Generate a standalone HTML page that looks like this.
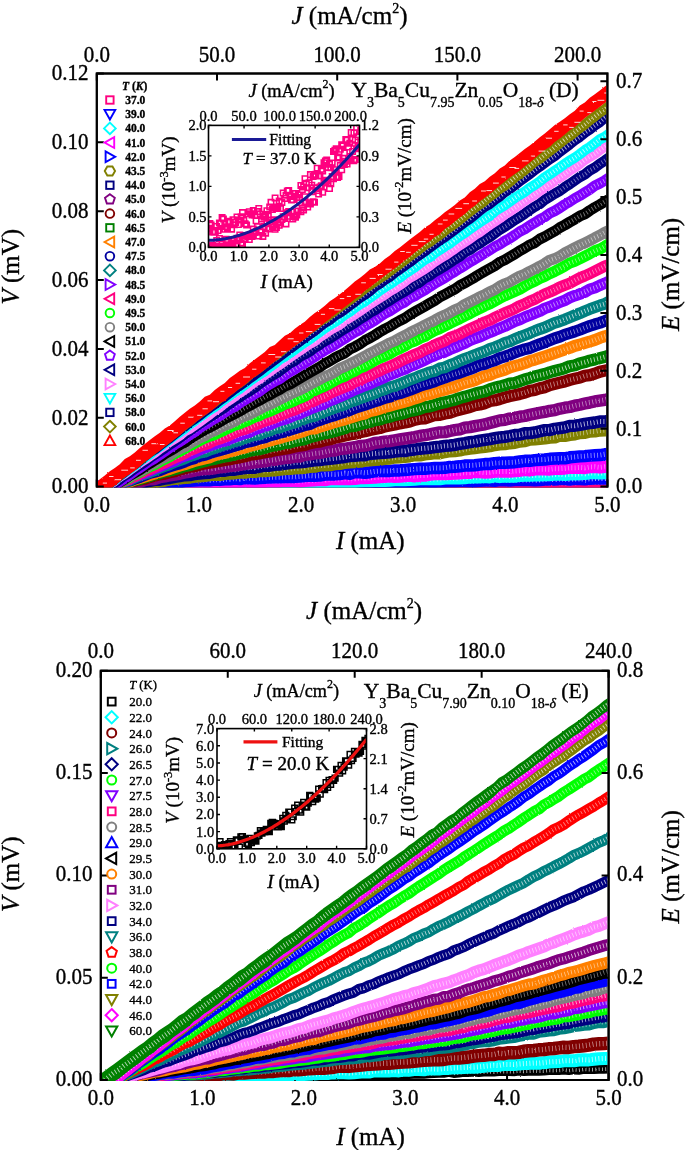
<!DOCTYPE html><html><head><meta charset="utf-8"><title>I-V curves</title><style>html,body{margin:0;padding:0;background:#fff;width:685px;height:1150px;overflow:hidden}svg{display:block;will-change:transform}text{font-family:"Liberation Serif",serif;stroke:#000;stroke-width:0.35px}</style></head><body><svg width="685" height="1150" viewBox="0 0 685 1150" font-family='"Liberation Serif", serif'>
<rect width="685" height="1150" fill="#fff"/>
<defs><filter id="rough" x="-2%" y="-2%" width="104%" height="104%"><feTurbulence type="fractalNoise" baseFrequency="0.55" numOctaves="1" seed="4"/><feDisplacementMap in="SourceGraphic" scale="2.0" xChannelSelector="R" yChannelSelector="G"/></filter><clipPath id="c1"><rect x="97.8" y="74.5" width="508.60" height="413.10"/></clipPath><clipPath id="c2"><rect x="101.8" y="671.8" width="505.80" height="409.20"/></clipPath></defs>
<rect x="96.8" y="73.5" width="510.60" height="413.10" fill="none" stroke="#000" stroke-width="2"/>
<path d="M96.80 486.6V479.6M198.92 486.6V479.6M301.04 486.6V479.6M403.16 486.6V479.6M505.28 486.6V479.6M607.40 486.6V479.6" stroke="#000" stroke-width="2" fill="none"/>
<g clip-path="url(#c1)"><g filter="url(#rough)" fill="none" stroke-linejoin="round"><polyline points="84.8,487.1 89.8,486.6 94.8,486.5 99.8,486.7 104.8,486.7 109.8,486.7 114.8,486.6 119.8,486.6 124.8,486.6 129.8,486.5 134.8,486.5 139.8,486.7 144.8,486.5 149.8,486.2 154.8,486.5 159.8,485.9 164.8,486.4 169.8,486.5 174.8,485.8 179.8,486.2 184.8,486.3 189.8,485.7 194.8,485.6 199.8,486.0 204.8,486.3 209.8,485.9 214.8,485.1 219.8,485.5 224.8,485.1 229.8,485.6 234.8,485.7 239.8,485.1 244.8,485.7 249.8,485.4 254.8,485.3 259.8,485.4 264.8,485.0 269.8,485.1 274.8,485.4 279.8,484.9 284.8,485.1 289.8,485.0 294.8,485.1 299.8,485.2 304.8,485.1 309.8,485.1 314.8,484.8 319.8,484.9 324.8,485.2 329.8,484.7 334.8,484.8 339.8,485.0 344.8,484.5 349.8,485.3 354.8,484.6 359.8,484.7 364.8,484.7 369.8,484.3 374.8,484.2 379.8,484.1 384.8,484.4 389.8,483.7 394.8,484.7 399.8,483.9 404.8,484.2 409.8,484.2 414.8,484.0 419.8,484.5 424.8,484.0 429.8,483.9 434.8,483.7 439.8,483.8 444.8,483.1 449.8,484.2 454.8,483.9 459.8,483.4 464.8,483.5 469.8,483.4 474.8,483.8 479.8,483.6 484.8,483.6 489.8,483.7 494.8,483.2 499.8,483.5 504.8,483.6 509.8,483.7 514.8,483.2 519.8,483.5 524.8,483.4 529.8,483.2 534.8,483.5 539.8,483.5 544.8,483.0 549.8,483.2 554.8,483.1 559.8,482.7 564.8,483.4 569.8,482.8 574.8,483.1 579.8,482.4 584.8,482.6 589.8,482.7 594.8,482.4 599.8,482.5 604.8,482.3 609.8,482.3 614.8,482.1" stroke="#FF0080" stroke-width="12.50"/><polyline points="84.8,487.1 89.8,486.6 94.8,486.5 99.8,486.7 104.8,486.7 109.8,486.7 114.8,486.6 119.8,486.6 124.8,486.6 129.8,486.5 134.8,486.5 139.8,486.7 144.8,486.5 149.8,486.2 154.8,486.5 159.8,485.9 164.8,486.4 169.8,486.5 174.8,485.8 179.8,486.2 184.8,486.3 189.8,485.7 194.8,485.6 199.8,486.0 204.8,486.3 209.8,485.9 214.8,485.1 219.8,485.5 224.8,485.1 229.8,485.6 234.8,485.7 239.8,485.1 244.8,485.7 249.8,485.4 254.8,485.3 259.8,485.4 264.8,485.0 269.8,485.1 274.8,485.4 279.8,484.9 284.8,485.1 289.8,485.0 294.8,485.1 299.8,485.2 304.8,485.1 309.8,485.1 314.8,484.8 319.8,484.9 324.8,485.2 329.8,484.7 334.8,484.8 339.8,485.0 344.8,484.5 349.8,485.3 354.8,484.6 359.8,484.7 364.8,484.7 369.8,484.3 374.8,484.2 379.8,484.1 384.8,484.4 389.8,483.7 394.8,484.7 399.8,483.9 404.8,484.2 409.8,484.2 414.8,484.0 419.8,484.5 424.8,484.0 429.8,483.9 434.8,483.7 439.8,483.8 444.8,483.1 449.8,484.2 454.8,483.9 459.8,483.4 464.8,483.5 469.8,483.4 474.8,483.8 479.8,483.6 484.8,483.6 489.8,483.7 494.8,483.2 499.8,483.5 504.8,483.6 509.8,483.7 514.8,483.2 519.8,483.5 524.8,483.4 529.8,483.2 534.8,483.5 539.8,483.5 544.8,483.0 549.8,483.2 554.8,483.1 559.8,482.7 564.8,483.4 569.8,482.8 574.8,483.1 579.8,482.4 584.8,482.6 589.8,482.7 594.8,482.4 599.8,482.5 604.8,482.3 609.8,482.3 614.8,482.1" stroke="#fff" stroke-opacity="0.7" stroke-width="5.00" stroke-dasharray="0.9 2.4"/><polyline points="84.8,487.0 89.8,486.8 94.8,487.0 99.8,486.3 104.8,486.9 109.8,486.8 114.8,485.9 119.8,486.7 124.8,486.3 129.8,486.4 134.8,486.8 139.8,486.5 144.8,486.0 149.8,486.0 154.8,486.2 159.8,485.7 164.8,485.7 169.8,485.9 174.8,485.6 179.8,485.7 184.8,485.8 189.8,485.3 194.8,485.6 199.8,485.3 204.8,485.1 209.8,485.2 214.8,485.5 219.8,485.2 224.8,485.3 229.8,485.4 234.8,485.0 239.8,484.8 244.8,484.7 249.8,485.3 254.8,485.1 259.8,484.9 264.8,484.5 269.8,485.0 274.8,484.9 279.8,484.6 284.8,484.6 289.8,484.4 294.8,484.7 299.8,484.6 304.8,484.6 309.8,484.4 314.8,484.1 319.8,484.1 324.8,484.0 329.8,483.7 334.8,483.7 339.8,483.7 344.8,484.0 349.8,483.8 354.8,483.5 359.8,483.2 364.8,483.5 369.8,482.5 374.8,482.4 379.8,482.7 384.8,482.8 389.8,482.5 394.8,482.9 399.8,482.2 404.8,482.6 409.8,481.9 414.8,482.0 419.8,482.3 424.8,481.3 429.8,481.7 434.8,481.9 439.8,481.3 444.8,481.4 449.8,481.1 454.8,481.2 459.8,481.1 464.8,481.1 469.8,481.3 474.8,481.2 479.8,480.8 484.8,480.6 489.8,480.4 494.8,480.8 499.8,480.0 504.8,480.2 509.8,480.4 514.8,480.1 519.8,479.9 524.8,480.0 529.8,479.9 534.8,480.2 539.8,480.0 544.8,479.5 549.8,479.5 554.8,479.6 559.8,479.0 564.8,479.1 569.8,479.5 574.8,478.9 579.8,478.9 584.8,479.2 589.8,478.8 594.8,478.5 599.8,478.5 604.8,478.6 609.8,478.4 614.8,477.9" stroke="#0000FF" stroke-width="12.50"/><polyline points="84.8,487.0 89.8,486.8 94.8,487.0 99.8,486.3 104.8,486.9 109.8,486.8 114.8,485.9 119.8,486.7 124.8,486.3 129.8,486.4 134.8,486.8 139.8,486.5 144.8,486.0 149.8,486.0 154.8,486.2 159.8,485.7 164.8,485.7 169.8,485.9 174.8,485.6 179.8,485.7 184.8,485.8 189.8,485.3 194.8,485.6 199.8,485.3 204.8,485.1 209.8,485.2 214.8,485.5 219.8,485.2 224.8,485.3 229.8,485.4 234.8,485.0 239.8,484.8 244.8,484.7 249.8,485.3 254.8,485.1 259.8,484.9 264.8,484.5 269.8,485.0 274.8,484.9 279.8,484.6 284.8,484.6 289.8,484.4 294.8,484.7 299.8,484.6 304.8,484.6 309.8,484.4 314.8,484.1 319.8,484.1 324.8,484.0 329.8,483.7 334.8,483.7 339.8,483.7 344.8,484.0 349.8,483.8 354.8,483.5 359.8,483.2 364.8,483.5 369.8,482.5 374.8,482.4 379.8,482.7 384.8,482.8 389.8,482.5 394.8,482.9 399.8,482.2 404.8,482.6 409.8,481.9 414.8,482.0 419.8,482.3 424.8,481.3 429.8,481.7 434.8,481.9 439.8,481.3 444.8,481.4 449.8,481.1 454.8,481.2 459.8,481.1 464.8,481.1 469.8,481.3 474.8,481.2 479.8,480.8 484.8,480.6 489.8,480.4 494.8,480.8 499.8,480.0 504.8,480.2 509.8,480.4 514.8,480.1 519.8,479.9 524.8,480.0 529.8,479.9 534.8,480.2 539.8,480.0 544.8,479.5 549.8,479.5 554.8,479.6 559.8,479.0 564.8,479.1 569.8,479.5 574.8,478.9 579.8,478.9 584.8,479.2 589.8,478.8 594.8,478.5 599.8,478.5 604.8,478.6 609.8,478.4 614.8,477.9" stroke="#fff" stroke-opacity="0.7" stroke-width="5.00" stroke-dasharray="0.9 2.4"/><polyline points="84.8,487.0 89.8,487.4 94.8,486.8 99.8,487.0 104.8,486.6 109.8,486.4 114.8,486.6 119.8,485.9 124.8,485.8 129.8,486.5 134.8,486.1 139.8,486.2 144.8,486.0 149.8,485.2 154.8,485.6 159.8,485.6 164.8,485.1 169.8,484.8 174.8,484.7 179.8,484.8 184.8,484.7 189.8,484.5 194.8,484.5 199.8,485.0 204.8,484.4 209.8,484.0 214.8,484.7 219.8,483.9 224.8,484.4 229.8,484.7 234.8,484.0 239.8,484.3 244.8,483.9 249.8,483.9 254.8,483.9 259.8,484.2 264.8,483.8 269.8,484.1 274.8,483.9 279.8,483.6 284.8,484.0 289.8,483.3 294.8,483.7 299.8,483.7 304.8,483.2 309.8,483.3 314.8,482.9 319.8,483.2 324.8,483.0 329.8,482.7 334.8,481.8 339.8,481.8 344.8,482.4 349.8,482.0 354.8,481.7 359.8,481.2 364.8,481.0 369.8,481.1 374.8,480.8 379.8,480.7 384.8,480.7 389.8,480.4 394.8,480.0 399.8,480.1 404.8,480.1 409.8,479.8 414.8,479.4 419.8,479.1 424.8,479.1 429.8,478.9 434.8,479.1 439.8,479.1 444.8,478.3 449.8,478.0 454.8,478.3 459.8,478.2 464.8,478.0 469.8,477.4 474.8,477.2 479.8,477.3 484.8,476.8 489.8,477.2 494.8,476.1 499.8,476.9 504.8,476.2 509.8,476.6 514.8,476.6 519.8,475.7 524.8,475.5 529.8,475.6 534.8,475.3 539.8,475.3 544.8,474.9 549.8,474.9 554.8,474.6 559.8,474.3 564.8,474.8 569.8,474.3 574.8,474.2 579.8,473.9 584.8,473.8 589.8,473.0 594.8,473.0 599.8,473.2 604.8,472.9 609.8,473.0 614.8,472.9" stroke="#00FFFF" stroke-width="12.50"/><polyline points="84.8,487.0 89.8,487.4 94.8,486.8 99.8,487.0 104.8,486.6 109.8,486.4 114.8,486.6 119.8,485.9 124.8,485.8 129.8,486.5 134.8,486.1 139.8,486.2 144.8,486.0 149.8,485.2 154.8,485.6 159.8,485.6 164.8,485.1 169.8,484.8 174.8,484.7 179.8,484.8 184.8,484.7 189.8,484.5 194.8,484.5 199.8,485.0 204.8,484.4 209.8,484.0 214.8,484.7 219.8,483.9 224.8,484.4 229.8,484.7 234.8,484.0 239.8,484.3 244.8,483.9 249.8,483.9 254.8,483.9 259.8,484.2 264.8,483.8 269.8,484.1 274.8,483.9 279.8,483.6 284.8,484.0 289.8,483.3 294.8,483.7 299.8,483.7 304.8,483.2 309.8,483.3 314.8,482.9 319.8,483.2 324.8,483.0 329.8,482.7 334.8,481.8 339.8,481.8 344.8,482.4 349.8,482.0 354.8,481.7 359.8,481.2 364.8,481.0 369.8,481.1 374.8,480.8 379.8,480.7 384.8,480.7 389.8,480.4 394.8,480.0 399.8,480.1 404.8,480.1 409.8,479.8 414.8,479.4 419.8,479.1 424.8,479.1 429.8,478.9 434.8,479.1 439.8,479.1 444.8,478.3 449.8,478.0 454.8,478.3 459.8,478.2 464.8,478.0 469.8,477.4 474.8,477.2 479.8,477.3 484.8,476.8 489.8,477.2 494.8,476.1 499.8,476.9 504.8,476.2 509.8,476.6 514.8,476.6 519.8,475.7 524.8,475.5 529.8,475.6 534.8,475.3 539.8,475.3 544.8,474.9 549.8,474.9 554.8,474.6 559.8,474.3 564.8,474.8 569.8,474.3 574.8,474.2 579.8,473.9 584.8,473.8 589.8,473.0 594.8,473.0 599.8,473.2 604.8,472.9 609.8,473.0 614.8,472.9" stroke="#fff" stroke-opacity="0.7" stroke-width="5.00" stroke-dasharray="0.9 2.4"/><polyline points="84.8,487.8 89.8,487.6 94.8,487.3 99.8,486.8 104.8,487.2 109.8,486.9 114.8,486.5 119.8,486.3 124.8,486.0 129.8,486.4 134.8,485.8 139.8,485.4 144.8,485.5 149.8,484.9 154.8,484.2 159.8,484.5 164.8,484.5 169.8,483.7 174.8,484.0 179.8,483.3 184.8,483.3 189.8,483.2 194.8,483.0 199.8,482.6 204.8,482.6 209.8,482.3 214.8,482.6 219.8,482.3 224.8,482.5 229.8,481.7 234.8,482.3 239.8,481.8 244.8,482.3 249.8,482.1 254.8,481.8 259.8,481.7 264.8,481.9 269.8,481.4 274.8,481.4 279.8,481.4 284.8,480.9 289.8,481.0 294.8,481.0 299.8,481.3 304.8,480.7 309.8,480.6 314.8,480.2 319.8,479.8 324.8,480.0 329.8,479.1 334.8,479.0 339.8,479.0 344.8,478.8 349.8,478.9 354.8,478.8 359.8,478.0 364.8,478.1 369.8,477.8 374.8,477.5 379.8,477.0 384.8,476.8 389.8,476.2 394.8,476.7 399.8,476.6 404.8,476.0 409.8,475.5 414.8,476.3 419.8,475.5 424.8,475.5 429.8,474.7 434.8,474.0 439.8,474.1 444.8,474.1 449.8,473.7 454.8,473.4 459.8,473.3 464.8,472.7 469.8,472.7 474.8,472.0 479.8,472.1 484.8,472.6 489.8,472.3 494.8,471.5 499.8,471.6 504.8,471.5 509.8,471.5 514.8,471.0 519.8,470.7 524.8,469.9 529.8,470.4 534.8,469.3 539.8,469.3 544.8,469.2 549.8,469.4 554.8,468.7 559.8,468.7 564.8,468.4 569.8,467.8 574.8,467.8 579.8,467.5 584.8,467.9 589.8,467.0 594.8,466.8 599.8,467.4 604.8,466.7 609.8,466.7 614.8,466.3" stroke="#FF00FF" stroke-width="12.49"/><polyline points="84.8,487.8 89.8,487.6 94.8,487.3 99.8,486.8 104.8,487.2 109.8,486.9 114.8,486.5 119.8,486.3 124.8,486.0 129.8,486.4 134.8,485.8 139.8,485.4 144.8,485.5 149.8,484.9 154.8,484.2 159.8,484.5 164.8,484.5 169.8,483.7 174.8,484.0 179.8,483.3 184.8,483.3 189.8,483.2 194.8,483.0 199.8,482.6 204.8,482.6 209.8,482.3 214.8,482.6 219.8,482.3 224.8,482.5 229.8,481.7 234.8,482.3 239.8,481.8 244.8,482.3 249.8,482.1 254.8,481.8 259.8,481.7 264.8,481.9 269.8,481.4 274.8,481.4 279.8,481.4 284.8,480.9 289.8,481.0 294.8,481.0 299.8,481.3 304.8,480.7 309.8,480.6 314.8,480.2 319.8,479.8 324.8,480.0 329.8,479.1 334.8,479.0 339.8,479.0 344.8,478.8 349.8,478.9 354.8,478.8 359.8,478.0 364.8,478.1 369.8,477.8 374.8,477.5 379.8,477.0 384.8,476.8 389.8,476.2 394.8,476.7 399.8,476.6 404.8,476.0 409.8,475.5 414.8,476.3 419.8,475.5 424.8,475.5 429.8,474.7 434.8,474.0 439.8,474.1 444.8,474.1 449.8,473.7 454.8,473.4 459.8,473.3 464.8,472.7 469.8,472.7 474.8,472.0 479.8,472.1 484.8,472.6 489.8,472.3 494.8,471.5 499.8,471.6 504.8,471.5 509.8,471.5 514.8,471.0 519.8,470.7 524.8,469.9 529.8,470.4 534.8,469.3 539.8,469.3 544.8,469.2 549.8,469.4 554.8,468.7 559.8,468.7 564.8,468.4 569.8,467.8 574.8,467.8 579.8,467.5 584.8,467.9 589.8,467.0 594.8,466.8 599.8,467.4 604.8,466.7 609.8,466.7 614.8,466.3" stroke="#fff" stroke-opacity="0.45" stroke-width="5.00" stroke-dasharray="0.9 2.4"/><polyline points="84.8,488.4 89.8,488.3 94.8,487.7 99.8,487.3 104.8,487.1 109.8,486.9 114.8,486.3 119.8,486.2 124.8,485.5 129.8,485.5 134.8,484.8 139.8,484.5 144.8,484.2 149.8,483.6 154.8,483.7 159.8,483.3 164.8,482.5 169.8,482.9 174.8,482.5 179.8,482.0 184.8,481.1 189.8,480.8 194.8,480.5 199.8,480.2 204.8,480.0 209.8,480.2 214.8,479.6 219.8,479.9 224.8,479.3 229.8,479.2 234.8,478.6 239.8,479.1 244.8,478.0 249.8,478.2 254.8,478.5 259.8,478.1 264.8,477.8 269.8,477.4 274.8,477.3 279.8,477.2 284.8,477.0 289.8,476.7 294.8,476.9 299.8,476.5 304.8,476.1 309.8,475.6 314.8,475.9 319.8,475.6 324.8,474.6 329.8,474.3 334.8,474.4 339.8,474.0 344.8,473.1 349.8,473.7 354.8,472.1 359.8,472.3 364.8,472.8 369.8,472.2 374.8,471.4 379.8,471.0 384.8,471.1 389.8,470.9 394.8,470.5 399.8,470.4 404.8,470.0 409.8,469.5 414.8,469.1 419.8,468.8 424.8,468.8 429.8,468.4 434.8,467.9 439.8,467.9 444.8,467.8 449.8,466.9 454.8,466.7 459.8,466.3 464.8,465.6 469.8,465.4 474.8,465.2 479.8,464.6 484.8,464.1 489.8,464.0 494.8,463.1 499.8,462.8 504.8,462.7 509.8,462.5 514.8,462.2 519.8,461.5 524.8,460.8 529.8,460.8 534.8,460.1 539.8,459.7 544.8,459.5 549.8,458.8 554.8,458.6 559.8,458.3 564.8,458.3 569.8,457.3 574.8,456.9 579.8,456.4 584.8,456.1 589.8,455.6 594.8,455.3 599.8,455.1 604.8,454.3 609.8,454.0 614.8,453.5" stroke="#0000FF" stroke-width="12.47"/><polyline points="84.8,488.4 89.8,488.3 94.8,487.7 99.8,487.3 104.8,487.1 109.8,486.9 114.8,486.3 119.8,486.2 124.8,485.5 129.8,485.5 134.8,484.8 139.8,484.5 144.8,484.2 149.8,483.6 154.8,483.7 159.8,483.3 164.8,482.5 169.8,482.9 174.8,482.5 179.8,482.0 184.8,481.1 189.8,480.8 194.8,480.5 199.8,480.2 204.8,480.0 209.8,480.2 214.8,479.6 219.8,479.9 224.8,479.3 229.8,479.2 234.8,478.6 239.8,479.1 244.8,478.0 249.8,478.2 254.8,478.5 259.8,478.1 264.8,477.8 269.8,477.4 274.8,477.3 279.8,477.2 284.8,477.0 289.8,476.7 294.8,476.9 299.8,476.5 304.8,476.1 309.8,475.6 314.8,475.9 319.8,475.6 324.8,474.6 329.8,474.3 334.8,474.4 339.8,474.0 344.8,473.1 349.8,473.7 354.8,472.1 359.8,472.3 364.8,472.8 369.8,472.2 374.8,471.4 379.8,471.0 384.8,471.1 389.8,470.9 394.8,470.5 399.8,470.4 404.8,470.0 409.8,469.5 414.8,469.1 419.8,468.8 424.8,468.8 429.8,468.4 434.8,467.9 439.8,467.9 444.8,467.8 449.8,466.9 454.8,466.7 459.8,466.3 464.8,465.6 469.8,465.4 474.8,465.2 479.8,464.6 484.8,464.1 489.8,464.0 494.8,463.1 499.8,462.8 504.8,462.7 509.8,462.5 514.8,462.2 519.8,461.5 524.8,460.8 529.8,460.8 534.8,460.1 539.8,459.7 544.8,459.5 549.8,458.8 554.8,458.6 559.8,458.3 564.8,458.3 569.8,457.3 574.8,456.9 579.8,456.4 584.8,456.1 589.8,455.6 594.8,455.3 599.8,455.1 604.8,454.3 609.8,454.0 614.8,453.5" stroke="#fff" stroke-opacity="0.55" stroke-width="4.99" stroke-dasharray="0.9 2.4"/><polyline points="84.8,490.2 89.8,489.3 94.8,488.7 99.8,488.2 104.8,487.5 109.8,487.1 114.8,486.2 119.8,485.6 124.8,484.8 129.8,484.4 134.8,483.8 139.8,483.4 144.8,482.4 149.8,481.9 154.8,482.1 159.8,481.2 164.8,480.5 169.8,479.4 174.8,478.8 179.8,478.3 184.8,477.8 189.8,477.5 194.8,476.6 199.8,476.2 204.8,475.7 209.8,475.1 214.8,474.5 219.8,474.8 224.8,473.9 229.8,473.6 234.8,473.2 239.8,472.6 244.8,472.6 249.8,471.8 254.8,471.8 259.8,470.9 264.8,471.0 269.8,470.6 274.8,470.4 279.8,469.6 284.8,469.1 289.8,468.9 294.8,468.3 299.8,468.1 304.8,467.7 309.8,466.9 314.8,466.6 319.8,465.4 324.8,465.4 329.8,465.1 334.8,464.1 339.8,463.9 344.8,462.8 349.8,462.3 354.8,462.1 359.8,461.6 364.8,460.6 369.8,460.2 374.8,459.9 379.8,459.5 384.8,458.9 389.8,458.5 394.8,457.5 399.8,457.4 404.8,456.7 409.8,456.3 414.8,455.0 419.8,455.3 424.8,454.3 429.8,453.8 434.8,453.0 439.8,453.2 444.8,452.0 449.8,451.2 454.8,451.0 459.8,450.4 464.8,449.3 469.8,448.5 474.8,448.0 479.8,447.4 484.8,446.8 489.8,446.2 494.8,445.0 499.8,444.4 504.8,444.1 509.8,443.2 514.8,442.7 519.8,441.5 524.8,441.1 529.8,439.6 534.8,439.3 539.8,438.8 544.8,438.4 549.8,437.6 554.8,437.3 559.8,435.5 564.8,435.8 569.8,434.9 574.8,434.3 579.8,433.0 584.8,432.8 589.8,431.5 594.8,431.4 599.8,430.5 604.8,430.2 609.8,428.8 614.8,428.2" stroke="#808000" stroke-width="12.42"/><polyline points="84.8,490.2 89.8,489.3 94.8,488.7 99.8,488.2 104.8,487.5 109.8,487.1 114.8,486.2 119.8,485.6 124.8,484.8 129.8,484.4 134.8,483.8 139.8,483.4 144.8,482.4 149.8,481.9 154.8,482.1 159.8,481.2 164.8,480.5 169.8,479.4 174.8,478.8 179.8,478.3 184.8,477.8 189.8,477.5 194.8,476.6 199.8,476.2 204.8,475.7 209.8,475.1 214.8,474.5 219.8,474.8 224.8,473.9 229.8,473.6 234.8,473.2 239.8,472.6 244.8,472.6 249.8,471.8 254.8,471.8 259.8,470.9 264.8,471.0 269.8,470.6 274.8,470.4 279.8,469.6 284.8,469.1 289.8,468.9 294.8,468.3 299.8,468.1 304.8,467.7 309.8,466.9 314.8,466.6 319.8,465.4 324.8,465.4 329.8,465.1 334.8,464.1 339.8,463.9 344.8,462.8 349.8,462.3 354.8,462.1 359.8,461.6 364.8,460.6 369.8,460.2 374.8,459.9 379.8,459.5 384.8,458.9 389.8,458.5 394.8,457.5 399.8,457.4 404.8,456.7 409.8,456.3 414.8,455.0 419.8,455.3 424.8,454.3 429.8,453.8 434.8,453.0 439.8,453.2 444.8,452.0 449.8,451.2 454.8,451.0 459.8,450.4 464.8,449.3 469.8,448.5 474.8,448.0 479.8,447.4 484.8,446.8 489.8,446.2 494.8,445.0 499.8,444.4 504.8,444.1 509.8,443.2 514.8,442.7 519.8,441.5 524.8,441.1 529.8,439.6 534.8,439.3 539.8,438.8 544.8,438.4 549.8,437.6 554.8,437.3 559.8,435.5 564.8,435.8 569.8,434.9 574.8,434.3 579.8,433.0 584.8,432.8 589.8,431.5 594.8,431.4 599.8,430.5 604.8,430.2 609.8,428.8 614.8,428.2" stroke="#fff" stroke-opacity="0.55" stroke-width="4.97" stroke-dasharray="0.8 2.6"/><polyline points="84.8,491.0 89.8,489.8 94.8,489.6 99.8,488.2 104.8,487.6 109.8,486.7 114.8,486.5 119.8,485.2 124.8,484.9 129.8,483.9 134.8,484.0 139.8,482.6 144.8,481.9 149.8,480.8 154.8,479.9 159.8,479.7 164.8,478.7 169.8,478.0 174.8,476.9 179.8,476.1 184.8,475.2 189.8,475.1 194.8,474.0 199.8,473.6 204.8,473.1 209.8,472.7 214.8,471.6 219.8,470.9 224.8,470.8 229.8,469.8 234.8,469.8 239.8,468.8 244.8,468.1 249.8,467.6 254.8,467.7 259.8,466.6 264.8,465.7 269.8,465.7 274.8,464.9 279.8,464.5 284.8,463.9 289.8,463.2 294.8,462.5 299.8,462.3 304.8,461.9 309.8,461.0 314.8,460.3 319.8,460.0 324.8,459.4 329.8,458.8 334.8,458.3 339.8,457.7 344.8,457.0 349.8,456.1 354.8,455.8 359.8,455.4 364.8,455.3 369.8,453.9 374.8,453.6 379.8,453.1 384.8,452.9 389.8,452.4 394.8,451.6 399.8,451.1 404.8,451.1 409.8,450.0 414.8,449.5 419.8,448.7 424.8,448.3 429.8,447.8 434.8,447.1 439.8,446.6 444.8,445.9 449.8,445.5 454.8,444.9 459.8,443.8 464.8,443.1 469.8,442.2 474.8,441.6 479.8,440.6 484.8,439.8 489.8,439.1 494.8,438.2 499.8,437.3 504.8,436.8 509.8,436.0 514.8,435.0 519.8,434.6 524.8,433.2 529.8,433.1 534.8,432.4 539.8,431.2 544.8,430.1 549.8,430.1 554.8,428.8 559.8,428.1 564.8,427.4 569.8,425.9 574.8,425.7 579.8,424.9 584.8,423.9 589.8,423.2 594.8,422.5 599.8,421.5 604.8,421.5 609.8,420.5 614.8,419.6" stroke="#000080" stroke-width="12.39"/><polyline points="84.8,491.0 89.8,489.8 94.8,489.6 99.8,488.2 104.8,487.6 109.8,486.7 114.8,486.5 119.8,485.2 124.8,484.9 129.8,483.9 134.8,484.0 139.8,482.6 144.8,481.9 149.8,480.8 154.8,479.9 159.8,479.7 164.8,478.7 169.8,478.0 174.8,476.9 179.8,476.1 184.8,475.2 189.8,475.1 194.8,474.0 199.8,473.6 204.8,473.1 209.8,472.7 214.8,471.6 219.8,470.9 224.8,470.8 229.8,469.8 234.8,469.8 239.8,468.8 244.8,468.1 249.8,467.6 254.8,467.7 259.8,466.6 264.8,465.7 269.8,465.7 274.8,464.9 279.8,464.5 284.8,463.9 289.8,463.2 294.8,462.5 299.8,462.3 304.8,461.9 309.8,461.0 314.8,460.3 319.8,460.0 324.8,459.4 329.8,458.8 334.8,458.3 339.8,457.7 344.8,457.0 349.8,456.1 354.8,455.8 359.8,455.4 364.8,455.3 369.8,453.9 374.8,453.6 379.8,453.1 384.8,452.9 389.8,452.4 394.8,451.6 399.8,451.1 404.8,451.1 409.8,450.0 414.8,449.5 419.8,448.7 424.8,448.3 429.8,447.8 434.8,447.1 439.8,446.6 444.8,445.9 449.8,445.5 454.8,444.9 459.8,443.8 464.8,443.1 469.8,442.2 474.8,441.6 479.8,440.6 484.8,439.8 489.8,439.1 494.8,438.2 499.8,437.3 504.8,436.8 509.8,436.0 514.8,435.0 519.8,434.6 524.8,433.2 529.8,433.1 534.8,432.4 539.8,431.2 544.8,430.1 549.8,430.1 554.8,428.8 559.8,428.1 564.8,427.4 569.8,425.9 574.8,425.7 579.8,424.9 584.8,423.9 589.8,423.2 594.8,422.5 599.8,421.5 604.8,421.5 609.8,420.5 614.8,419.6" stroke="#fff" stroke-opacity="0.7" stroke-width="4.96" stroke-dasharray="0.9 2.4"/><polyline points="84.8,492.1 89.8,490.7 94.8,489.7 99.8,488.8 104.8,488.6 109.8,487.0 114.8,485.8 119.8,484.8 124.8,483.8 129.8,483.0 134.8,482.1 139.8,481.9 144.8,480.2 149.8,479.3 154.8,479.1 159.8,477.2 164.8,476.5 169.8,475.3 174.8,474.7 179.8,473.7 184.8,472.6 189.8,471.6 194.8,470.5 199.8,469.7 204.8,469.2 209.8,468.9 214.8,468.3 219.8,467.3 224.8,466.8 229.8,466.0 234.8,465.6 239.8,464.8 244.8,464.0 249.8,463.2 254.8,462.4 259.8,461.8 264.8,461.4 269.8,460.3 274.8,459.9 279.8,458.8 284.8,458.1 289.8,457.8 294.8,456.7 299.8,456.6 304.8,454.8 309.8,454.4 314.8,453.4 319.8,453.0 324.8,452.0 329.8,450.9 334.8,450.5 339.8,449.1 344.8,448.7 349.8,447.8 354.8,447.2 359.8,446.0 364.8,445.7 369.8,444.6 374.8,442.9 379.8,442.4 384.8,441.6 389.8,441.1 394.8,440.2 399.8,439.4 404.8,438.6 409.8,437.8 414.8,437.1 419.8,435.9 424.8,435.2 429.8,434.3 434.8,433.2 439.8,432.3 444.8,432.2 449.8,431.0 454.8,430.0 459.8,429.3 464.8,427.7 469.8,427.1 474.8,426.1 479.8,425.2 484.8,424.4 489.8,423.0 494.8,421.7 499.8,420.4 504.8,419.9 509.8,418.5 514.8,417.8 519.8,416.7 524.8,416.0 529.8,414.8 534.8,413.8 539.8,412.8 544.8,411.9 549.8,410.8 554.8,410.2 559.8,408.7 564.8,407.7 569.8,407.0 574.8,405.6 579.8,404.7 584.8,403.6 589.8,402.6 594.8,401.4 599.8,400.7 604.8,399.9 609.8,398.7 614.8,397.8" stroke="#800080" stroke-width="12.31"/><polyline points="84.8,492.1 89.8,490.7 94.8,489.7 99.8,488.8 104.8,488.6 109.8,487.0 114.8,485.8 119.8,484.8 124.8,483.8 129.8,483.0 134.8,482.1 139.8,481.9 144.8,480.2 149.8,479.3 154.8,479.1 159.8,477.2 164.8,476.5 169.8,475.3 174.8,474.7 179.8,473.7 184.8,472.6 189.8,471.6 194.8,470.5 199.8,469.7 204.8,469.2 209.8,468.9 214.8,468.3 219.8,467.3 224.8,466.8 229.8,466.0 234.8,465.6 239.8,464.8 244.8,464.0 249.8,463.2 254.8,462.4 259.8,461.8 264.8,461.4 269.8,460.3 274.8,459.9 279.8,458.8 284.8,458.1 289.8,457.8 294.8,456.7 299.8,456.6 304.8,454.8 309.8,454.4 314.8,453.4 319.8,453.0 324.8,452.0 329.8,450.9 334.8,450.5 339.8,449.1 344.8,448.7 349.8,447.8 354.8,447.2 359.8,446.0 364.8,445.7 369.8,444.6 374.8,442.9 379.8,442.4 384.8,441.6 389.8,441.1 394.8,440.2 399.8,439.4 404.8,438.6 409.8,437.8 414.8,437.1 419.8,435.9 424.8,435.2 429.8,434.3 434.8,433.2 439.8,432.3 444.8,432.2 449.8,431.0 454.8,430.0 459.8,429.3 464.8,427.7 469.8,427.1 474.8,426.1 479.8,425.2 484.8,424.4 489.8,423.0 494.8,421.7 499.8,420.4 504.8,419.9 509.8,418.5 514.8,417.8 519.8,416.7 524.8,416.0 529.8,414.8 534.8,413.8 539.8,412.8 544.8,411.9 549.8,410.8 554.8,410.2 559.8,408.7 564.8,407.7 569.8,407.0 574.8,405.6 579.8,404.7 584.8,403.6 589.8,402.6 594.8,401.4 599.8,400.7 604.8,399.9 609.8,398.7 614.8,397.8" stroke="#fff" stroke-opacity="0.55" stroke-width="4.92" stroke-dasharray="0.8 2.6"/><polyline points="84.8,493.0 89.8,492.1 94.8,490.7 99.8,489.7 104.8,488.9 109.8,487.2 114.8,485.8 119.8,484.8 124.8,483.4 129.8,481.7 134.8,480.8 139.8,479.4 144.8,478.8 149.8,477.1 154.8,475.7 159.8,474.4 164.8,473.7 169.8,472.2 174.8,471.3 179.8,469.5 184.8,468.4 189.8,466.7 194.8,466.3 199.8,464.7 204.8,463.4 209.8,462.7 214.8,461.8 219.8,461.0 224.8,460.0 229.8,459.2 234.8,458.1 239.8,457.4 244.8,456.3 249.8,454.8 254.8,454.3 259.8,453.3 264.8,452.1 269.8,451.5 274.8,450.2 279.8,449.5 284.8,448.8 289.8,447.7 294.8,446.6 299.8,445.6 304.8,444.9 309.8,443.2 314.8,442.2 319.8,441.8 324.8,440.2 329.8,439.3 334.8,437.8 339.8,436.8 344.8,435.6 349.8,434.5 354.8,433.8 359.8,432.4 364.8,431.4 369.8,430.1 374.8,429.1 379.8,428.1 384.8,426.5 389.8,425.6 394.8,424.6 399.8,423.4 404.8,422.6 409.8,421.5 414.8,419.8 419.8,418.8 424.8,418.5 429.8,416.8 434.8,415.1 439.8,414.9 444.8,413.6 449.8,412.7 454.8,411.0 459.8,409.6 464.8,408.3 469.8,407.1 474.8,405.3 479.8,404.5 484.8,403.3 489.8,401.1 494.8,400.3 499.8,399.0 504.8,397.4 509.8,396.2 514.8,395.1 519.8,394.0 524.8,392.6 529.8,390.7 534.8,389.9 539.8,388.3 544.8,387.2 549.8,385.1 554.8,383.8 559.8,382.6 564.8,381.5 569.8,379.9 574.8,378.7 579.8,377.6 584.8,375.8 589.8,375.1 594.8,373.6 599.8,371.7 604.8,370.6 609.8,369.6 614.8,368.4" stroke="#800000" stroke-width="12.17"/><polyline points="84.8,493.0 89.8,492.1 94.8,490.7 99.8,489.7 104.8,488.9 109.8,487.2 114.8,485.8 119.8,484.8 124.8,483.4 129.8,481.7 134.8,480.8 139.8,479.4 144.8,478.8 149.8,477.1 154.8,475.7 159.8,474.4 164.8,473.7 169.8,472.2 174.8,471.3 179.8,469.5 184.8,468.4 189.8,466.7 194.8,466.3 199.8,464.7 204.8,463.4 209.8,462.7 214.8,461.8 219.8,461.0 224.8,460.0 229.8,459.2 234.8,458.1 239.8,457.4 244.8,456.3 249.8,454.8 254.8,454.3 259.8,453.3 264.8,452.1 269.8,451.5 274.8,450.2 279.8,449.5 284.8,448.8 289.8,447.7 294.8,446.6 299.8,445.6 304.8,444.9 309.8,443.2 314.8,442.2 319.8,441.8 324.8,440.2 329.8,439.3 334.8,437.8 339.8,436.8 344.8,435.6 349.8,434.5 354.8,433.8 359.8,432.4 364.8,431.4 369.8,430.1 374.8,429.1 379.8,428.1 384.8,426.5 389.8,425.6 394.8,424.6 399.8,423.4 404.8,422.6 409.8,421.5 414.8,419.8 419.8,418.8 424.8,418.5 429.8,416.8 434.8,415.1 439.8,414.9 444.8,413.6 449.8,412.7 454.8,411.0 459.8,409.6 464.8,408.3 469.8,407.1 474.8,405.3 479.8,404.5 484.8,403.3 489.8,401.1 494.8,400.3 499.8,399.0 504.8,397.4 509.8,396.2 514.8,395.1 519.8,394.0 524.8,392.6 529.8,390.7 534.8,389.9 539.8,388.3 544.8,387.2 549.8,385.1 554.8,383.8 559.8,382.6 564.8,381.5 569.8,379.9 574.8,378.7 579.8,377.6 584.8,375.8 589.8,375.1 594.8,373.6 599.8,371.7 604.8,370.6 609.8,369.6 614.8,368.4" stroke="#fff" stroke-opacity="0.55" stroke-width="4.87" stroke-dasharray="0.8 2.6"/><polyline points="84.8,494.2 89.8,492.6 94.8,491.0 99.8,489.9 104.8,488.8 109.8,487.0 114.8,486.2 119.8,484.5 124.8,482.9 129.8,481.9 134.8,480.1 139.8,479.2 144.8,477.3 149.8,476.1 154.8,474.4 159.8,473.1 164.8,471.4 169.8,470.8 174.8,469.1 179.8,467.6 184.8,466.0 189.8,465.3 194.8,463.8 199.8,462.5 204.8,461.2 209.8,459.7 214.8,459.0 219.8,457.7 224.8,456.4 229.8,455.7 234.8,454.5 239.8,453.1 244.8,452.3 249.8,450.7 254.8,449.9 259.8,449.2 264.8,447.9 269.8,446.3 274.8,445.1 279.8,444.5 284.8,442.9 289.8,442.6 294.8,441.0 299.8,440.1 304.8,439.2 309.8,437.3 314.8,435.9 319.8,434.6 324.8,433.2 329.8,432.5 334.8,431.1 339.8,429.7 344.8,428.3 349.8,426.4 354.8,426.0 359.8,424.5 364.8,423.0 369.8,421.9 374.8,420.3 379.8,419.6 384.8,417.7 389.8,416.8 394.8,415.1 399.8,414.1 404.8,412.8 409.8,411.1 414.8,410.3 419.8,408.9 424.8,406.9 429.8,406.4 434.8,404.9 439.8,403.3 444.8,402.3 449.8,401.0 454.8,399.8 459.8,398.0 464.8,396.7 469.8,395.2 474.8,393.7 479.8,392.4 484.8,391.3 489.8,389.3 494.8,387.6 499.8,386.5 504.8,385.2 509.8,383.5 514.8,382.9 519.8,381.2 524.8,379.3 529.8,378.0 534.8,376.3 539.8,375.2 544.8,373.9 549.8,372.3 554.8,370.9 559.8,369.7 564.8,368.2 569.8,366.2 574.8,365.4 579.8,363.4 584.8,362.2 589.8,360.6 594.8,359.5 599.8,358.2 604.8,356.9 609.8,355.1 614.8,353.7" stroke="#008000" stroke-width="12.09"/><polyline points="84.8,494.2 89.8,492.6 94.8,491.0 99.8,489.9 104.8,488.8 109.8,487.0 114.8,486.2 119.8,484.5 124.8,482.9 129.8,481.9 134.8,480.1 139.8,479.2 144.8,477.3 149.8,476.1 154.8,474.4 159.8,473.1 164.8,471.4 169.8,470.8 174.8,469.1 179.8,467.6 184.8,466.0 189.8,465.3 194.8,463.8 199.8,462.5 204.8,461.2 209.8,459.7 214.8,459.0 219.8,457.7 224.8,456.4 229.8,455.7 234.8,454.5 239.8,453.1 244.8,452.3 249.8,450.7 254.8,449.9 259.8,449.2 264.8,447.9 269.8,446.3 274.8,445.1 279.8,444.5 284.8,442.9 289.8,442.6 294.8,441.0 299.8,440.1 304.8,439.2 309.8,437.3 314.8,435.9 319.8,434.6 324.8,433.2 329.8,432.5 334.8,431.1 339.8,429.7 344.8,428.3 349.8,426.4 354.8,426.0 359.8,424.5 364.8,423.0 369.8,421.9 374.8,420.3 379.8,419.6 384.8,417.7 389.8,416.8 394.8,415.1 399.8,414.1 404.8,412.8 409.8,411.1 414.8,410.3 419.8,408.9 424.8,406.9 429.8,406.4 434.8,404.9 439.8,403.3 444.8,402.3 449.8,401.0 454.8,399.8 459.8,398.0 464.8,396.7 469.8,395.2 474.8,393.7 479.8,392.4 484.8,391.3 489.8,389.3 494.8,387.6 499.8,386.5 504.8,385.2 509.8,383.5 514.8,382.9 519.8,381.2 524.8,379.3 529.8,378.0 534.8,376.3 539.8,375.2 544.8,373.9 549.8,372.3 554.8,370.9 559.8,369.7 564.8,368.2 569.8,366.2 574.8,365.4 579.8,363.4 584.8,362.2 589.8,360.6 594.8,359.5 599.8,358.2 604.8,356.9 609.8,355.1 614.8,353.7" stroke="#fff" stroke-opacity="0.7" stroke-width="4.83" stroke-dasharray="0.9 2.4"/><polyline points="84.8,494.9 89.8,493.9 94.8,491.9 99.8,490.5 104.8,488.7 109.8,487.1 114.8,485.6 119.8,484.7 124.8,482.5 129.8,481.6 134.8,479.5 139.8,478.1 144.8,476.5 149.8,475.0 154.8,473.5 159.8,471.7 164.8,470.2 169.8,468.9 174.8,467.2 179.8,465.6 184.8,464.2 189.8,462.6 194.8,460.8 199.8,459.7 204.8,458.4 209.8,457.3 214.8,455.1 219.8,454.0 224.8,453.0 229.8,451.4 234.8,450.4 239.8,448.6 244.8,447.6 249.8,445.9 254.8,444.7 259.8,443.4 264.8,442.1 269.8,440.6 274.8,439.3 279.8,438.0 284.8,436.4 289.8,435.1 294.8,433.8 299.8,432.3 304.8,430.8 309.8,428.8 314.8,428.6 319.8,426.7 324.8,425.3 329.8,423.7 334.8,422.1 339.8,420.8 344.8,419.4 349.8,417.8 354.8,416.2 359.8,414.8 364.8,413.6 369.8,411.2 374.8,410.1 379.8,408.8 384.8,406.8 389.8,405.9 394.8,404.3 399.8,402.9 404.8,401.6 409.8,400.2 414.8,398.4 419.8,396.9 424.8,395.0 429.8,394.0 434.8,392.4 439.8,390.9 444.8,389.7 449.8,388.1 454.8,386.9 459.8,384.7 464.8,382.9 469.8,381.7 474.8,380.2 479.8,378.0 484.8,376.1 489.8,374.9 494.8,372.8 499.8,371.3 504.8,369.7 509.8,367.5 514.8,366.1 519.8,364.7 524.8,363.1 529.8,361.1 534.8,359.7 539.8,358.0 544.8,356.3 549.8,354.7 554.8,353.0 559.8,351.4 564.8,349.7 569.8,347.9 574.8,345.9 579.8,344.6 584.8,343.0 589.8,341.6 594.8,340.0 599.8,337.9 604.8,336.3 609.8,335.0 614.8,332.8" stroke="#FF8000" stroke-width="11.96"/><polyline points="84.8,494.9 89.8,493.9 94.8,491.9 99.8,490.5 104.8,488.7 109.8,487.1 114.8,485.6 119.8,484.7 124.8,482.5 129.8,481.6 134.8,479.5 139.8,478.1 144.8,476.5 149.8,475.0 154.8,473.5 159.8,471.7 164.8,470.2 169.8,468.9 174.8,467.2 179.8,465.6 184.8,464.2 189.8,462.6 194.8,460.8 199.8,459.7 204.8,458.4 209.8,457.3 214.8,455.1 219.8,454.0 224.8,453.0 229.8,451.4 234.8,450.4 239.8,448.6 244.8,447.6 249.8,445.9 254.8,444.7 259.8,443.4 264.8,442.1 269.8,440.6 274.8,439.3 279.8,438.0 284.8,436.4 289.8,435.1 294.8,433.8 299.8,432.3 304.8,430.8 309.8,428.8 314.8,428.6 319.8,426.7 324.8,425.3 329.8,423.7 334.8,422.1 339.8,420.8 344.8,419.4 349.8,417.8 354.8,416.2 359.8,414.8 364.8,413.6 369.8,411.2 374.8,410.1 379.8,408.8 384.8,406.8 389.8,405.9 394.8,404.3 399.8,402.9 404.8,401.6 409.8,400.2 414.8,398.4 419.8,396.9 424.8,395.0 429.8,394.0 434.8,392.4 439.8,390.9 444.8,389.7 449.8,388.1 454.8,386.9 459.8,384.7 464.8,382.9 469.8,381.7 474.8,380.2 479.8,378.0 484.8,376.1 489.8,374.9 494.8,372.8 499.8,371.3 504.8,369.7 509.8,367.5 514.8,366.1 519.8,364.7 524.8,363.1 529.8,361.1 534.8,359.7 539.8,358.0 544.8,356.3 549.8,354.7 554.8,353.0 559.8,351.4 564.8,349.7 569.8,347.9 574.8,345.9 579.8,344.6 584.8,343.0 589.8,341.6 594.8,340.0 599.8,337.9 604.8,336.3 609.8,335.0 614.8,332.8" stroke="#fff" stroke-opacity="0.45" stroke-width="4.78" stroke-dasharray="0.9 2.4"/><polyline points="84.8,496.2 89.8,494.1 94.8,492.7 99.8,491.0 104.8,489.0 109.8,487.4 114.8,485.2 119.8,484.0 124.8,482.0 129.8,480.6 134.8,478.8 139.8,477.1 144.8,475.1 149.8,473.1 154.8,471.8 159.8,470.3 164.8,468.2 169.8,466.5 174.8,464.9 179.8,463.5 184.8,461.6 189.8,459.5 194.8,458.2 199.8,456.0 204.8,454.9 209.8,453.1 214.8,451.6 219.8,450.3 224.8,448.9 229.8,447.3 234.8,445.9 239.8,444.4 244.8,442.5 249.8,441.5 254.8,440.3 259.8,438.5 264.8,437.4 269.8,435.5 274.8,434.3 279.8,432.7 284.8,431.7 289.8,430.0 294.8,428.4 299.8,426.9 304.8,425.2 309.8,424.1 314.8,421.6 319.8,420.1 324.8,418.3 329.8,416.7 334.8,415.2 339.8,413.4 344.8,411.9 349.8,410.1 354.8,408.0 359.8,406.3 364.8,404.8 369.8,403.2 374.8,401.5 379.8,399.8 384.8,397.9 389.8,396.8 394.8,394.5 399.8,393.3 404.8,391.6 409.8,389.9 414.8,387.9 419.8,385.9 424.8,384.4 429.8,383.0 434.8,381.3 439.8,379.3 444.8,377.7 449.8,375.8 454.8,374.2 459.8,372.7 464.8,371.0 469.8,369.2 474.8,367.2 479.8,365.0 484.8,363.9 489.8,362.0 494.8,360.3 499.8,358.0 504.8,356.6 509.8,354.7 514.8,352.6 519.8,350.8 524.8,349.2 529.8,348.1 534.8,346.0 539.8,344.1 544.8,342.4 549.8,340.3 554.8,338.2 559.8,336.7 564.8,334.6 569.8,333.1 574.8,331.5 579.8,329.7 584.8,327.7 589.8,325.9 594.8,324.3 599.8,322.9 604.8,321.0 609.8,318.9 614.8,317.2" stroke="#0000A0" stroke-width="11.85"/><polyline points="84.8,496.2 89.8,494.1 94.8,492.7 99.8,491.0 104.8,489.0 109.8,487.4 114.8,485.2 119.8,484.0 124.8,482.0 129.8,480.6 134.8,478.8 139.8,477.1 144.8,475.1 149.8,473.1 154.8,471.8 159.8,470.3 164.8,468.2 169.8,466.5 174.8,464.9 179.8,463.5 184.8,461.6 189.8,459.5 194.8,458.2 199.8,456.0 204.8,454.9 209.8,453.1 214.8,451.6 219.8,450.3 224.8,448.9 229.8,447.3 234.8,445.9 239.8,444.4 244.8,442.5 249.8,441.5 254.8,440.3 259.8,438.5 264.8,437.4 269.8,435.5 274.8,434.3 279.8,432.7 284.8,431.7 289.8,430.0 294.8,428.4 299.8,426.9 304.8,425.2 309.8,424.1 314.8,421.6 319.8,420.1 324.8,418.3 329.8,416.7 334.8,415.2 339.8,413.4 344.8,411.9 349.8,410.1 354.8,408.0 359.8,406.3 364.8,404.8 369.8,403.2 374.8,401.5 379.8,399.8 384.8,397.9 389.8,396.8 394.8,394.5 399.8,393.3 404.8,391.6 409.8,389.9 414.8,387.9 419.8,385.9 424.8,384.4 429.8,383.0 434.8,381.3 439.8,379.3 444.8,377.7 449.8,375.8 454.8,374.2 459.8,372.7 464.8,371.0 469.8,369.2 474.8,367.2 479.8,365.0 484.8,363.9 489.8,362.0 494.8,360.3 499.8,358.0 504.8,356.6 509.8,354.7 514.8,352.6 519.8,350.8 524.8,349.2 529.8,348.1 534.8,346.0 539.8,344.1 544.8,342.4 549.8,340.3 554.8,338.2 559.8,336.7 564.8,334.6 569.8,333.1 574.8,331.5 579.8,329.7 584.8,327.7 589.8,325.9 594.8,324.3 599.8,322.9 604.8,321.0 609.8,318.9 614.8,317.2" stroke="#fff" stroke-opacity="0.55" stroke-width="4.74" stroke-dasharray="0.8 2.6"/><polyline points="84.8,497.3 89.8,495.7 94.8,493.3 99.8,491.3 104.8,489.2 109.8,487.1 114.8,485.3 119.8,483.6 124.8,481.7 129.8,480.0 134.8,477.5 139.8,475.6 144.8,473.8 149.8,472.1 154.8,470.2 159.8,467.8 164.8,465.9 169.8,464.3 174.8,462.0 179.8,460.3 184.8,458.4 189.8,456.2 194.8,454.6 199.8,452.6 204.8,451.8 209.8,449.6 214.8,448.1 219.8,446.3 224.8,444.5 229.8,443.1 234.8,441.3 239.8,440.0 244.8,438.1 249.8,436.4 254.8,435.1 259.8,434.2 264.8,432.0 269.8,430.7 274.8,428.2 279.8,427.6 284.8,425.6 289.8,423.9 294.8,422.5 299.8,420.7 304.8,418.7 309.8,417.0 314.8,416.0 319.8,413.5 324.8,411.5 329.8,409.7 334.8,407.8 339.8,406.1 344.8,404.4 349.8,401.9 354.8,400.4 359.8,398.6 364.8,396.8 369.8,395.0 374.8,393.2 379.8,390.9 384.8,389.4 389.8,387.1 394.8,385.9 399.8,384.1 404.8,382.0 409.8,379.7 414.8,378.0 419.8,375.8 424.8,374.2 429.8,372.1 434.8,371.0 439.8,368.3 444.8,367.4 449.8,365.0 454.8,363.2 459.8,360.7 464.8,358.7 469.8,356.9 474.8,354.9 479.8,353.1 484.8,351.2 489.8,348.9 494.8,347.3 499.8,345.3 504.8,342.9 509.8,341.4 514.8,339.0 519.8,337.1 524.8,335.1 529.8,333.2 534.8,331.0 539.8,329.1 544.8,327.4 549.8,325.1 554.8,322.8 559.8,321.3 564.8,319.4 569.8,317.3 574.8,315.3 579.8,313.3 584.8,311.1 589.8,309.1 594.8,307.3 599.8,305.4 604.8,303.9 609.8,301.1 614.8,299.4" stroke="#008080" stroke-width="11.72"/><polyline points="84.8,497.3 89.8,495.7 94.8,493.3 99.8,491.3 104.8,489.2 109.8,487.1 114.8,485.3 119.8,483.6 124.8,481.7 129.8,480.0 134.8,477.5 139.8,475.6 144.8,473.8 149.8,472.1 154.8,470.2 159.8,467.8 164.8,465.9 169.8,464.3 174.8,462.0 179.8,460.3 184.8,458.4 189.8,456.2 194.8,454.6 199.8,452.6 204.8,451.8 209.8,449.6 214.8,448.1 219.8,446.3 224.8,444.5 229.8,443.1 234.8,441.3 239.8,440.0 244.8,438.1 249.8,436.4 254.8,435.1 259.8,434.2 264.8,432.0 269.8,430.7 274.8,428.2 279.8,427.6 284.8,425.6 289.8,423.9 294.8,422.5 299.8,420.7 304.8,418.7 309.8,417.0 314.8,416.0 319.8,413.5 324.8,411.5 329.8,409.7 334.8,407.8 339.8,406.1 344.8,404.4 349.8,401.9 354.8,400.4 359.8,398.6 364.8,396.8 369.8,395.0 374.8,393.2 379.8,390.9 384.8,389.4 389.8,387.1 394.8,385.9 399.8,384.1 404.8,382.0 409.8,379.7 414.8,378.0 419.8,375.8 424.8,374.2 429.8,372.1 434.8,371.0 439.8,368.3 444.8,367.4 449.8,365.0 454.8,363.2 459.8,360.7 464.8,358.7 469.8,356.9 474.8,354.9 479.8,353.1 484.8,351.2 489.8,348.9 494.8,347.3 499.8,345.3 504.8,342.9 509.8,341.4 514.8,339.0 519.8,337.1 524.8,335.1 529.8,333.2 534.8,331.0 539.8,329.1 544.8,327.4 549.8,325.1 554.8,322.8 559.8,321.3 564.8,319.4 569.8,317.3 574.8,315.3 579.8,313.3 584.8,311.1 589.8,309.1 594.8,307.3 599.8,305.4 604.8,303.9 609.8,301.1 614.8,299.4" stroke="#fff" stroke-opacity="0.7" stroke-width="4.69" stroke-dasharray="0.9 2.4"/><polyline points="84.8,497.8 89.8,495.9 94.8,493.5 99.8,491.5 104.8,490.1 109.8,487.7 114.8,485.1 119.8,483.1 124.8,481.0 129.8,478.9 134.8,476.6 139.8,474.7 144.8,472.8 149.8,470.6 154.8,468.3 159.8,466.4 164.8,464.4 169.8,462.3 174.8,460.5 179.8,457.7 184.8,455.8 189.8,454.2 194.8,452.0 199.8,449.6 204.8,447.7 209.8,445.5 214.8,443.9 219.8,442.0 224.8,440.9 229.8,438.7 234.8,436.9 239.8,435.1 244.8,433.4 249.8,432.0 254.8,429.4 259.8,427.8 264.8,426.3 269.8,424.5 274.8,422.2 279.8,420.4 284.8,419.1 289.8,417.3 294.8,415.0 299.8,413.7 304.8,411.2 309.8,408.9 314.8,407.0 319.8,405.0 324.8,403.2 329.8,400.7 334.8,398.8 339.8,396.7 344.8,394.5 349.8,391.9 354.8,389.6 359.8,387.6 364.8,385.5 369.8,383.7 374.8,381.3 379.8,379.3 384.8,377.2 389.8,374.7 394.8,372.9 399.8,370.7 404.8,369.1 409.8,366.4 414.8,364.6 419.8,362.3 424.8,360.0 429.8,357.3 434.8,355.5 439.8,353.5 444.8,351.9 449.8,349.5 454.8,347.5 459.8,345.2 464.8,343.2 469.8,340.5 474.8,338.4 479.8,336.8 484.8,334.5 489.8,332.3 494.8,330.3 499.8,328.1 504.8,326.2 509.8,323.8 514.8,321.3 519.8,319.5 524.8,317.1 529.8,315.2 534.8,313.1 539.8,311.2 544.8,308.4 549.8,306.7 554.8,304.4 559.8,302.3 564.8,300.3 569.8,297.7 574.8,295.7 579.8,294.0 584.8,292.1 589.8,289.3 594.8,287.8 599.8,285.4 604.8,283.3 609.8,280.8 614.8,279.0" stroke="#8000FF" stroke-width="11.55"/><polyline points="84.8,497.8 89.8,495.9 94.8,493.5 99.8,491.5 104.8,490.1 109.8,487.7 114.8,485.1 119.8,483.1 124.8,481.0 129.8,478.9 134.8,476.6 139.8,474.7 144.8,472.8 149.8,470.6 154.8,468.3 159.8,466.4 164.8,464.4 169.8,462.3 174.8,460.5 179.8,457.7 184.8,455.8 189.8,454.2 194.8,452.0 199.8,449.6 204.8,447.7 209.8,445.5 214.8,443.9 219.8,442.0 224.8,440.9 229.8,438.7 234.8,436.9 239.8,435.1 244.8,433.4 249.8,432.0 254.8,429.4 259.8,427.8 264.8,426.3 269.8,424.5 274.8,422.2 279.8,420.4 284.8,419.1 289.8,417.3 294.8,415.0 299.8,413.7 304.8,411.2 309.8,408.9 314.8,407.0 319.8,405.0 324.8,403.2 329.8,400.7 334.8,398.8 339.8,396.7 344.8,394.5 349.8,391.9 354.8,389.6 359.8,387.6 364.8,385.5 369.8,383.7 374.8,381.3 379.8,379.3 384.8,377.2 389.8,374.7 394.8,372.9 399.8,370.7 404.8,369.1 409.8,366.4 414.8,364.6 419.8,362.3 424.8,360.0 429.8,357.3 434.8,355.5 439.8,353.5 444.8,351.9 449.8,349.5 454.8,347.5 459.8,345.2 464.8,343.2 469.8,340.5 474.8,338.4 479.8,336.8 484.8,334.5 489.8,332.3 494.8,330.3 499.8,328.1 504.8,326.2 509.8,323.8 514.8,321.3 519.8,319.5 524.8,317.1 529.8,315.2 534.8,313.1 539.8,311.2 544.8,308.4 549.8,306.7 554.8,304.4 559.8,302.3 564.8,300.3 569.8,297.7 574.8,295.7 579.8,294.0 584.8,292.1 589.8,289.3 594.8,287.8 599.8,285.4 604.8,283.3 609.8,280.8 614.8,279.0" stroke="#fff" stroke-opacity="0.55" stroke-width="4.62" stroke-dasharray="0.9 2.4"/><polyline points="84.8,499.6 89.8,496.6 94.8,494.2 99.8,492.0 104.8,489.8 109.8,487.6 114.8,485.3 119.8,483.1 124.8,480.7 129.8,478.5 134.8,476.2 139.8,474.0 144.8,471.2 149.8,469.4 154.8,467.0 159.8,464.6 164.8,462.7 169.8,460.1 174.8,457.8 179.8,455.7 184.8,453.4 189.8,450.5 194.8,448.7 199.8,446.3 204.8,444.6 209.8,442.8 214.8,440.2 219.8,438.8 224.8,437.0 229.8,434.9 234.8,432.5 239.8,430.5 244.8,429.2 249.8,427.2 254.8,425.0 259.8,423.1 264.8,421.0 269.8,419.3 274.8,417.7 279.8,415.3 284.8,413.4 289.8,411.3 294.8,409.8 299.8,407.6 304.8,405.4 309.8,402.8 314.8,400.8 319.8,398.1 324.8,396.4 329.8,393.4 334.8,391.1 339.8,389.0 344.8,386.9 349.8,385.1 354.8,381.7 359.8,380.2 364.8,377.5 369.8,375.7 374.8,372.8 379.8,370.7 384.8,368.2 389.8,366.2 394.8,364.1 399.8,361.4 404.8,358.9 409.8,356.8 414.8,354.5 419.8,352.4 424.8,349.6 429.8,347.6 434.8,345.0 439.8,342.8 444.8,340.9 449.8,337.7 454.8,336.0 459.8,333.9 464.8,331.3 469.8,328.9 474.8,326.6 479.8,324.4 484.8,322.0 489.8,320.2 494.8,317.4 499.8,315.2 504.8,312.8 509.8,310.9 514.8,308.6 519.8,305.8 524.8,303.9 529.8,301.3 534.8,299.2 539.8,296.5 544.8,294.0 549.8,292.0 554.8,289.7 559.8,287.1 564.8,285.2 569.8,283.2 574.8,280.5 579.8,277.9 584.8,275.9 589.8,273.6 594.8,271.2 599.8,268.7 604.8,266.1 609.8,264.3 614.8,262.5" stroke="#FF0080" stroke-width="11.41"/><polyline points="84.8,499.6 89.8,496.6 94.8,494.2 99.8,492.0 104.8,489.8 109.8,487.6 114.8,485.3 119.8,483.1 124.8,480.7 129.8,478.5 134.8,476.2 139.8,474.0 144.8,471.2 149.8,469.4 154.8,467.0 159.8,464.6 164.8,462.7 169.8,460.1 174.8,457.8 179.8,455.7 184.8,453.4 189.8,450.5 194.8,448.7 199.8,446.3 204.8,444.6 209.8,442.8 214.8,440.2 219.8,438.8 224.8,437.0 229.8,434.9 234.8,432.5 239.8,430.5 244.8,429.2 249.8,427.2 254.8,425.0 259.8,423.1 264.8,421.0 269.8,419.3 274.8,417.7 279.8,415.3 284.8,413.4 289.8,411.3 294.8,409.8 299.8,407.6 304.8,405.4 309.8,402.8 314.8,400.8 319.8,398.1 324.8,396.4 329.8,393.4 334.8,391.1 339.8,389.0 344.8,386.9 349.8,385.1 354.8,381.7 359.8,380.2 364.8,377.5 369.8,375.7 374.8,372.8 379.8,370.7 384.8,368.2 389.8,366.2 394.8,364.1 399.8,361.4 404.8,358.9 409.8,356.8 414.8,354.5 419.8,352.4 424.8,349.6 429.8,347.6 434.8,345.0 439.8,342.8 444.8,340.9 449.8,337.7 454.8,336.0 459.8,333.9 464.8,331.3 469.8,328.9 474.8,326.6 479.8,324.4 484.8,322.0 489.8,320.2 494.8,317.4 499.8,315.2 504.8,312.8 509.8,310.9 514.8,308.6 519.8,305.8 524.8,303.9 529.8,301.3 534.8,299.2 539.8,296.5 544.8,294.0 549.8,292.0 554.8,289.7 559.8,287.1 564.8,285.2 569.8,283.2 574.8,280.5 579.8,277.9 584.8,275.9 589.8,273.6 594.8,271.2 599.8,268.7 604.8,266.1 609.8,264.3 614.8,262.5" stroke="#fff" stroke-opacity="0.45" stroke-width="4.57" stroke-dasharray="0.9 2.4"/><polyline points="84.8,500.9 89.8,498.3 94.8,495.9 99.8,493.2 104.8,490.2 109.8,487.5 114.8,485.3 119.8,482.2 124.8,480.1 129.8,477.4 134.8,474.6 139.8,472.0 144.8,469.2 149.8,466.5 154.8,464.5 159.8,461.6 164.8,459.0 169.8,456.4 174.8,453.4 179.8,451.1 184.8,448.3 189.8,445.6 194.8,443.2 199.8,440.4 204.8,438.0 209.8,436.1 214.8,434.4 219.8,432.0 224.8,429.8 229.8,427.4 234.8,425.0 239.8,423.6 244.8,421.6 249.8,419.3 254.8,416.9 259.8,415.3 264.8,412.8 269.8,411.2 274.8,408.9 279.8,406.7 284.8,404.1 289.8,402.6 294.8,400.5 299.8,398.2 304.8,396.1 309.8,393.1 314.8,390.6 319.8,388.2 324.8,386.0 329.8,383.4 334.8,380.6 339.8,378.0 344.8,376.2 349.8,373.2 354.8,371.0 359.8,367.9 364.8,366.1 369.8,363.4 374.8,360.4 379.8,358.0 384.8,356.0 389.8,353.6 394.8,350.6 399.8,348.5 404.8,346.0 409.8,342.8 414.8,340.9 419.8,338.4 424.8,336.4 429.8,333.3 434.8,330.6 439.8,328.5 444.8,326.0 449.8,323.4 454.8,321.0 459.8,318.6 464.8,316.0 469.8,313.6 474.8,310.9 479.8,308.5 484.8,305.9 489.8,303.8 494.8,301.0 499.8,298.3 504.8,295.8 509.8,293.6 514.8,291.3 519.8,289.1 524.8,286.1 529.8,283.3 534.8,281.1 539.8,278.3 544.8,276.2 549.8,273.6 554.8,271.3 559.8,268.7 564.8,266.0 569.8,263.0 574.8,261.2 579.8,258.8 584.8,256.2 589.8,253.7 594.8,250.9 599.8,249.1 604.8,246.4 609.8,243.4 614.8,241.2" stroke="#00FF00" stroke-width="11.23"/><polyline points="84.8,500.9 89.8,498.3 94.8,495.9 99.8,493.2 104.8,490.2 109.8,487.5 114.8,485.3 119.8,482.2 124.8,480.1 129.8,477.4 134.8,474.6 139.8,472.0 144.8,469.2 149.8,466.5 154.8,464.5 159.8,461.6 164.8,459.0 169.8,456.4 174.8,453.4 179.8,451.1 184.8,448.3 189.8,445.6 194.8,443.2 199.8,440.4 204.8,438.0 209.8,436.1 214.8,434.4 219.8,432.0 224.8,429.8 229.8,427.4 234.8,425.0 239.8,423.6 244.8,421.6 249.8,419.3 254.8,416.9 259.8,415.3 264.8,412.8 269.8,411.2 274.8,408.9 279.8,406.7 284.8,404.1 289.8,402.6 294.8,400.5 299.8,398.2 304.8,396.1 309.8,393.1 314.8,390.6 319.8,388.2 324.8,386.0 329.8,383.4 334.8,380.6 339.8,378.0 344.8,376.2 349.8,373.2 354.8,371.0 359.8,367.9 364.8,366.1 369.8,363.4 374.8,360.4 379.8,358.0 384.8,356.0 389.8,353.6 394.8,350.6 399.8,348.5 404.8,346.0 409.8,342.8 414.8,340.9 419.8,338.4 424.8,336.4 429.8,333.3 434.8,330.6 439.8,328.5 444.8,326.0 449.8,323.4 454.8,321.0 459.8,318.6 464.8,316.0 469.8,313.6 474.8,310.9 479.8,308.5 484.8,305.9 489.8,303.8 494.8,301.0 499.8,298.3 504.8,295.8 509.8,293.6 514.8,291.3 519.8,289.1 524.8,286.1 529.8,283.3 534.8,281.1 539.8,278.3 544.8,276.2 549.8,273.6 554.8,271.3 559.8,268.7 564.8,266.0 569.8,263.0 574.8,261.2 579.8,258.8 584.8,256.2 589.8,253.7 594.8,250.9 599.8,249.1 604.8,246.4 609.8,243.4 614.8,241.2" stroke="#fff" stroke-opacity="0.55" stroke-width="4.49" stroke-dasharray="0.8 2.6"/><polyline points="84.8,501.2 89.8,498.9 94.8,496.2 99.8,493.1 104.8,490.9 109.8,488.3 114.8,485.2 119.8,482.4 124.8,479.2 129.8,476.7 134.8,473.9 139.8,471.4 144.8,468.7 149.8,465.2 154.8,463.0 159.8,459.9 164.8,457.3 169.8,454.8 174.8,451.4 179.8,448.7 184.8,446.5 189.8,443.4 194.8,440.8 199.8,437.8 204.8,435.6 209.8,432.7 214.8,430.7 219.8,427.9 224.8,425.4 229.8,423.5 234.8,421.2 239.8,418.3 244.8,416.0 249.8,414.1 254.8,411.5 259.8,409.0 264.8,406.4 269.8,404.4 274.8,401.8 279.8,399.2 284.8,396.7 289.8,394.3 294.8,392.0 299.8,389.9 304.8,387.3 309.8,384.4 314.8,381.8 319.8,379.2 324.8,376.6 329.8,374.6 334.8,371.8 339.8,368.5 344.8,366.5 349.8,363.9 354.8,361.6 359.8,358.9 364.8,356.3 369.8,353.4 374.8,350.9 379.8,348.3 384.8,345.6 389.8,343.0 394.8,340.9 399.8,338.0 404.8,335.6 409.8,332.8 414.8,330.2 419.8,327.9 424.8,325.2 429.8,322.7 434.8,320.2 439.8,317.4 444.8,315.2 449.8,312.7 454.8,309.9 459.8,307.8 464.8,304.4 469.8,302.0 474.8,299.6 479.8,296.8 484.8,294.7 489.8,291.9 494.8,289.7 499.8,286.3 504.8,283.8 509.8,281.8 514.8,278.9 519.8,276.1 524.8,274.2 529.8,271.4 534.8,268.9 539.8,266.3 544.8,263.5 549.8,260.2 554.8,258.6 559.8,256.1 564.8,253.0 569.8,250.3 574.8,247.7 579.8,245.3 584.8,242.9 589.8,240.5 594.8,237.8 599.8,235.3 604.8,232.4 609.8,230.2 614.8,227.8" stroke="#808080" stroke-width="11.11"/><polyline points="84.8,501.2 89.8,498.9 94.8,496.2 99.8,493.1 104.8,490.9 109.8,488.3 114.8,485.2 119.8,482.4 124.8,479.2 129.8,476.7 134.8,473.9 139.8,471.4 144.8,468.7 149.8,465.2 154.8,463.0 159.8,459.9 164.8,457.3 169.8,454.8 174.8,451.4 179.8,448.7 184.8,446.5 189.8,443.4 194.8,440.8 199.8,437.8 204.8,435.6 209.8,432.7 214.8,430.7 219.8,427.9 224.8,425.4 229.8,423.5 234.8,421.2 239.8,418.3 244.8,416.0 249.8,414.1 254.8,411.5 259.8,409.0 264.8,406.4 269.8,404.4 274.8,401.8 279.8,399.2 284.8,396.7 289.8,394.3 294.8,392.0 299.8,389.9 304.8,387.3 309.8,384.4 314.8,381.8 319.8,379.2 324.8,376.6 329.8,374.6 334.8,371.8 339.8,368.5 344.8,366.5 349.8,363.9 354.8,361.6 359.8,358.9 364.8,356.3 369.8,353.4 374.8,350.9 379.8,348.3 384.8,345.6 389.8,343.0 394.8,340.9 399.8,338.0 404.8,335.6 409.8,332.8 414.8,330.2 419.8,327.9 424.8,325.2 429.8,322.7 434.8,320.2 439.8,317.4 444.8,315.2 449.8,312.7 454.8,309.9 459.8,307.8 464.8,304.4 469.8,302.0 474.8,299.6 479.8,296.8 484.8,294.7 489.8,291.9 494.8,289.7 499.8,286.3 504.8,283.8 509.8,281.8 514.8,278.9 519.8,276.1 524.8,274.2 529.8,271.4 534.8,268.9 539.8,266.3 544.8,263.5 549.8,260.2 554.8,258.6 559.8,256.1 564.8,253.0 569.8,250.3 574.8,247.7 579.8,245.3 584.8,242.9 589.8,240.5 594.8,237.8 599.8,235.3 604.8,232.4 609.8,230.2 614.8,227.8" stroke="#fff" stroke-opacity="0.55" stroke-width="4.44" stroke-dasharray="0.8 2.6"/><polyline points="84.8,503.3 89.8,500.6 94.8,497.0 99.8,493.8 104.8,491.4 109.8,488.1 114.8,485.0 119.8,482.0 124.8,479.0 129.8,475.4 134.8,472.7 139.8,469.9 144.8,466.4 149.8,463.4 154.8,460.2 159.8,457.4 164.8,453.9 169.8,451.1 174.8,448.1 179.8,444.7 184.8,442.4 189.8,438.7 194.8,435.7 199.8,432.6 204.8,429.7 209.8,427.4 214.8,424.6 219.8,421.7 224.8,418.9 229.8,416.2 234.8,413.6 239.8,411.0 244.8,408.0 249.8,405.5 254.8,402.5 259.8,400.2 264.8,397.1 269.8,394.8 274.8,391.8 279.8,389.3 284.8,386.2 289.8,384.3 294.8,381.4 299.8,378.4 304.8,375.4 309.8,372.5 314.8,369.8 319.8,367.0 324.8,363.6 329.8,361.0 334.8,357.9 339.8,355.3 344.8,353.0 349.8,349.2 354.8,346.8 359.8,344.0 364.8,340.6 369.8,337.9 374.8,335.1 379.8,331.9 384.8,329.0 389.8,326.5 394.8,323.4 399.8,320.6 404.8,318.1 409.8,314.7 414.8,311.8 419.8,309.0 424.8,306.2 429.8,303.3 434.8,300.5 439.8,297.1 444.8,294.4 449.8,291.7 454.8,289.2 459.8,285.6 464.8,282.9 469.8,280.1 474.8,277.2 479.8,274.1 484.8,271.2 489.8,268.5 494.8,265.7 499.8,262.2 504.8,259.9 509.8,256.9 514.8,254.0 519.8,250.7 524.8,248.0 529.8,244.9 534.8,242.7 539.8,239.0 544.8,236.6 549.8,233.8 554.8,231.1 559.8,227.6 564.8,225.0 569.8,222.0 574.8,219.2 579.8,216.1 584.8,214.0 589.8,210.5 594.8,207.4 599.8,204.6 604.8,201.6 609.8,198.9 614.8,195.8" stroke="#000000" stroke-width="10.82"/><polyline points="84.8,503.3 89.8,500.6 94.8,497.0 99.8,493.8 104.8,491.4 109.8,488.1 114.8,485.0 119.8,482.0 124.8,479.0 129.8,475.4 134.8,472.7 139.8,469.9 144.8,466.4 149.8,463.4 154.8,460.2 159.8,457.4 164.8,453.9 169.8,451.1 174.8,448.1 179.8,444.7 184.8,442.4 189.8,438.7 194.8,435.7 199.8,432.6 204.8,429.7 209.8,427.4 214.8,424.6 219.8,421.7 224.8,418.9 229.8,416.2 234.8,413.6 239.8,411.0 244.8,408.0 249.8,405.5 254.8,402.5 259.8,400.2 264.8,397.1 269.8,394.8 274.8,391.8 279.8,389.3 284.8,386.2 289.8,384.3 294.8,381.4 299.8,378.4 304.8,375.4 309.8,372.5 314.8,369.8 319.8,367.0 324.8,363.6 329.8,361.0 334.8,357.9 339.8,355.3 344.8,353.0 349.8,349.2 354.8,346.8 359.8,344.0 364.8,340.6 369.8,337.9 374.8,335.1 379.8,331.9 384.8,329.0 389.8,326.5 394.8,323.4 399.8,320.6 404.8,318.1 409.8,314.7 414.8,311.8 419.8,309.0 424.8,306.2 429.8,303.3 434.8,300.5 439.8,297.1 444.8,294.4 449.8,291.7 454.8,289.2 459.8,285.6 464.8,282.9 469.8,280.1 474.8,277.2 479.8,274.1 484.8,271.2 489.8,268.5 494.8,265.7 499.8,262.2 504.8,259.9 509.8,256.9 514.8,254.0 519.8,250.7 524.8,248.0 529.8,244.9 534.8,242.7 539.8,239.0 544.8,236.6 549.8,233.8 554.8,231.1 559.8,227.6 564.8,225.0 569.8,222.0 574.8,219.2 579.8,216.1 584.8,214.0 589.8,210.5 594.8,207.4 599.8,204.6 604.8,201.6 609.8,198.9 614.8,195.8" stroke="#fff" stroke-opacity="0.45" stroke-width="4.33" stroke-dasharray="0.9 2.4"/><polyline points="84.8,504.3 89.8,501.2 94.8,498.3 99.8,494.5 104.8,491.4 109.8,487.9 114.8,484.8 119.8,481.5 124.8,478.4 129.8,474.7 134.8,471.1 139.8,468.0 144.8,464.4 149.8,461.1 154.8,458.3 159.8,454.7 164.8,451.4 169.8,447.8 174.8,444.5 179.8,441.6 184.8,438.3 189.8,434.9 194.8,431.7 199.8,427.8 204.8,424.8 209.8,421.5 214.8,418.5 219.8,415.7 224.8,412.4 229.8,409.0 234.8,406.7 239.8,403.0 244.8,400.0 249.8,396.9 254.8,393.9 259.8,391.1 264.8,387.3 269.8,384.1 274.8,381.1 279.8,378.9 284.8,375.0 289.8,371.8 294.8,369.0 299.8,365.8 304.8,363.0 309.8,359.9 314.8,356.8 319.8,353.4 324.8,350.4 329.8,347.6 334.8,344.8 339.8,341.6 344.8,338.5 349.8,335.1 354.8,332.1 359.8,329.9 364.8,326.0 369.8,323.3 374.8,320.4 379.8,316.9 384.8,313.6 389.8,311.0 394.8,307.7 399.8,304.5 404.8,302.1 409.8,298.3 414.8,295.9 419.8,292.8 424.8,290.1 429.8,286.7 434.8,283.5 439.8,280.6 444.8,277.8 449.8,274.5 454.8,271.6 459.8,268.4 464.8,265.4 469.8,262.0 474.8,259.3 479.8,256.3 484.8,253.1 489.8,250.0 494.8,246.8 499.8,244.2 504.8,241.0 509.8,238.3 514.8,235.0 519.8,231.5 524.8,229.0 529.8,225.6 534.8,222.7 539.8,219.5 544.8,216.9 549.8,213.3 554.8,210.9 559.8,207.9 564.8,204.5 569.8,201.6 574.8,198.4 579.8,195.7 584.8,192.5 589.8,189.4 594.8,185.8 599.8,183.4 604.8,180.5 609.8,177.3 614.8,174.6" stroke="#8000FF" stroke-width="10.62"/><polyline points="84.8,504.3 89.8,501.2 94.8,498.3 99.8,494.5 104.8,491.4 109.8,487.9 114.8,484.8 119.8,481.5 124.8,478.4 129.8,474.7 134.8,471.1 139.8,468.0 144.8,464.4 149.8,461.1 154.8,458.3 159.8,454.7 164.8,451.4 169.8,447.8 174.8,444.5 179.8,441.6 184.8,438.3 189.8,434.9 194.8,431.7 199.8,427.8 204.8,424.8 209.8,421.5 214.8,418.5 219.8,415.7 224.8,412.4 229.8,409.0 234.8,406.7 239.8,403.0 244.8,400.0 249.8,396.9 254.8,393.9 259.8,391.1 264.8,387.3 269.8,384.1 274.8,381.1 279.8,378.9 284.8,375.0 289.8,371.8 294.8,369.0 299.8,365.8 304.8,363.0 309.8,359.9 314.8,356.8 319.8,353.4 324.8,350.4 329.8,347.6 334.8,344.8 339.8,341.6 344.8,338.5 349.8,335.1 354.8,332.1 359.8,329.9 364.8,326.0 369.8,323.3 374.8,320.4 379.8,316.9 384.8,313.6 389.8,311.0 394.8,307.7 399.8,304.5 404.8,302.1 409.8,298.3 414.8,295.9 419.8,292.8 424.8,290.1 429.8,286.7 434.8,283.5 439.8,280.6 444.8,277.8 449.8,274.5 454.8,271.6 459.8,268.4 464.8,265.4 469.8,262.0 474.8,259.3 479.8,256.3 484.8,253.1 489.8,250.0 494.8,246.8 499.8,244.2 504.8,241.0 509.8,238.3 514.8,235.0 519.8,231.5 524.8,229.0 529.8,225.6 534.8,222.7 539.8,219.5 544.8,216.9 549.8,213.3 554.8,210.9 559.8,207.9 564.8,204.5 569.8,201.6 574.8,198.4 579.8,195.7 584.8,192.5 589.8,189.4 594.8,185.8 599.8,183.4 604.8,180.5 609.8,177.3 614.8,174.6" stroke="#fff" stroke-opacity="0.55" stroke-width="4.25" stroke-dasharray="0.8 2.6"/><polyline points="84.8,503.6 89.8,499.8 94.8,496.2 99.8,492.8 104.8,489.7 109.8,486.0 114.8,482.8 119.8,479.2 124.8,475.4 129.8,472.4 134.8,468.6 139.8,465.2 144.8,462.1 149.8,457.9 154.8,454.7 159.8,451.5 164.8,448.1 169.8,444.5 174.8,441.4 179.8,437.7 184.8,434.2 189.8,430.6 194.8,427.2 199.8,423.8 204.8,420.4 209.8,417.0 214.8,414.0 219.8,410.6 224.8,407.5 229.8,403.5 234.8,400.1 239.8,397.2 244.8,393.8 249.8,390.7 254.8,387.6 259.8,383.6 264.8,380.2 269.8,377.1 274.8,374.0 279.8,370.8 284.8,367.1 289.8,363.2 294.8,360.8 299.8,356.7 304.8,354.2 309.8,351.3 314.8,347.4 319.8,344.6 324.8,341.0 329.8,338.4 334.8,335.2 339.8,331.7 344.8,328.6 349.8,325.8 354.8,322.7 359.8,319.2 364.8,316.3 369.8,312.7 374.8,310.1 379.8,306.7 384.8,303.2 389.8,300.4 394.8,297.2 399.8,294.1 404.8,291.4 409.8,288.2 414.8,284.6 419.8,282.0 424.8,278.2 429.8,275.6 434.8,271.9 439.8,269.2 444.8,266.0 449.8,262.9 454.8,259.5 459.8,256.5 464.8,252.4 469.8,249.9 474.8,246.3 479.8,243.4 484.8,240.0 489.8,237.1 494.8,233.4 499.8,229.6 504.8,226.8 509.8,223.4 514.8,220.0 519.8,217.0 524.8,213.6 529.8,210.0 534.8,206.7 539.8,203.9 544.8,199.8 549.8,196.7 554.8,193.6 559.8,190.9 564.8,187.2 569.8,184.0 574.8,180.5 579.8,177.0 584.8,174.4 589.8,170.4 594.8,167.6 599.8,163.8 604.8,160.6 609.8,157.1 614.8,154.0" stroke="#000080" stroke-width="10.45"/><polyline points="84.8,503.6 89.8,499.8 94.8,496.2 99.8,492.8 104.8,489.7 109.8,486.0 114.8,482.8 119.8,479.2 124.8,475.4 129.8,472.4 134.8,468.6 139.8,465.2 144.8,462.1 149.8,457.9 154.8,454.7 159.8,451.5 164.8,448.1 169.8,444.5 174.8,441.4 179.8,437.7 184.8,434.2 189.8,430.6 194.8,427.2 199.8,423.8 204.8,420.4 209.8,417.0 214.8,414.0 219.8,410.6 224.8,407.5 229.8,403.5 234.8,400.1 239.8,397.2 244.8,393.8 249.8,390.7 254.8,387.6 259.8,383.6 264.8,380.2 269.8,377.1 274.8,374.0 279.8,370.8 284.8,367.1 289.8,363.2 294.8,360.8 299.8,356.7 304.8,354.2 309.8,351.3 314.8,347.4 319.8,344.6 324.8,341.0 329.8,338.4 334.8,335.2 339.8,331.7 344.8,328.6 349.8,325.8 354.8,322.7 359.8,319.2 364.8,316.3 369.8,312.7 374.8,310.1 379.8,306.7 384.8,303.2 389.8,300.4 394.8,297.2 399.8,294.1 404.8,291.4 409.8,288.2 414.8,284.6 419.8,282.0 424.8,278.2 429.8,275.6 434.8,271.9 439.8,269.2 444.8,266.0 449.8,262.9 454.8,259.5 459.8,256.5 464.8,252.4 469.8,249.9 474.8,246.3 479.8,243.4 484.8,240.0 489.8,237.1 494.8,233.4 499.8,229.6 504.8,226.8 509.8,223.4 514.8,220.0 519.8,217.0 524.8,213.6 529.8,210.0 534.8,206.7 539.8,203.9 544.8,199.8 549.8,196.7 554.8,193.6 559.8,190.9 564.8,187.2 569.8,184.0 574.8,180.5 579.8,177.0 584.8,174.4 589.8,170.4 594.8,167.6 599.8,163.8 604.8,160.6 609.8,157.1 614.8,154.0" stroke="#fff" stroke-opacity="0.45" stroke-width="4.18" stroke-dasharray="0.9 2.4"/><polyline points="84.8,501.3 89.8,497.4 94.8,494.1 99.8,490.9 104.8,486.8 109.8,484.2 114.8,480.7 119.8,476.6 124.8,473.5 129.8,469.8 134.8,466.3 139.8,462.7 144.8,459.5 149.8,456.0 154.8,452.7 159.8,448.8 164.8,445.5 169.8,441.5 174.8,438.5 179.8,435.4 184.8,431.1 189.8,428.6 194.8,425.1 199.8,421.5 204.8,417.8 209.8,414.2 214.8,410.3 219.8,407.1 224.8,403.0 229.8,399.7 234.8,396.2 239.8,392.6 244.8,389.3 249.8,385.5 254.8,381.6 259.8,378.8 264.8,374.6 269.8,371.4 274.8,367.7 279.8,364.5 284.8,360.9 289.8,357.3 294.8,353.7 299.8,350.4 304.8,346.9 309.8,343.6 314.8,341.1 319.8,336.9 324.8,333.7 329.8,330.0 334.8,327.2 339.8,324.4 344.8,320.6 349.8,317.4 354.8,314.3 359.8,310.9 364.8,307.4 369.8,304.0 374.8,300.9 379.8,297.7 384.8,294.6 389.8,291.0 394.8,288.2 399.8,284.9 404.8,281.4 409.8,277.7 414.8,274.9 419.8,271.8 424.8,268.8 429.8,265.4 434.8,261.5 439.8,258.4 444.8,255.4 449.8,251.9 454.8,248.6 459.8,245.1 464.8,241.9 469.8,238.7 474.8,234.9 479.8,232.0 484.8,228.1 489.8,224.7 494.8,221.5 499.8,218.1 504.8,214.1 509.8,211.2 514.8,207.8 519.8,204.4 524.8,200.7 529.8,197.4 534.8,194.3 539.8,190.8 544.8,187.5 549.8,184.2 554.8,180.8 559.8,177.5 564.8,174.0 569.8,170.3 574.8,167.3 579.8,163.7 584.8,159.8 589.8,156.7 594.8,153.8 599.8,150.0 604.8,146.6 609.8,143.1 614.8,139.7" stroke="#FF80FF" stroke-width="10.33"/><polyline points="84.8,501.3 89.8,497.4 94.8,494.1 99.8,490.9 104.8,486.8 109.8,484.2 114.8,480.7 119.8,476.6 124.8,473.5 129.8,469.8 134.8,466.3 139.8,462.7 144.8,459.5 149.8,456.0 154.8,452.7 159.8,448.8 164.8,445.5 169.8,441.5 174.8,438.5 179.8,435.4 184.8,431.1 189.8,428.6 194.8,425.1 199.8,421.5 204.8,417.8 209.8,414.2 214.8,410.3 219.8,407.1 224.8,403.0 229.8,399.7 234.8,396.2 239.8,392.6 244.8,389.3 249.8,385.5 254.8,381.6 259.8,378.8 264.8,374.6 269.8,371.4 274.8,367.7 279.8,364.5 284.8,360.9 289.8,357.3 294.8,353.7 299.8,350.4 304.8,346.9 309.8,343.6 314.8,341.1 319.8,336.9 324.8,333.7 329.8,330.0 334.8,327.2 339.8,324.4 344.8,320.6 349.8,317.4 354.8,314.3 359.8,310.9 364.8,307.4 369.8,304.0 374.8,300.9 379.8,297.7 384.8,294.6 389.8,291.0 394.8,288.2 399.8,284.9 404.8,281.4 409.8,277.7 414.8,274.9 419.8,271.8 424.8,268.8 429.8,265.4 434.8,261.5 439.8,258.4 444.8,255.4 449.8,251.9 454.8,248.6 459.8,245.1 464.8,241.9 469.8,238.7 474.8,234.9 479.8,232.0 484.8,228.1 489.8,224.7 494.8,221.5 499.8,218.1 504.8,214.1 509.8,211.2 514.8,207.8 519.8,204.4 524.8,200.7 529.8,197.4 534.8,194.3 539.8,190.8 544.8,187.5 549.8,184.2 554.8,180.8 559.8,177.5 564.8,174.0 569.8,170.3 574.8,167.3 579.8,163.7 584.8,159.8 589.8,156.7 594.8,153.8 599.8,150.0 604.8,146.6 609.8,143.1 614.8,139.7" stroke="#fff" stroke-opacity="0.55" stroke-width="4.13" stroke-dasharray="0.9 2.4"/><polyline points="84.8,501.8 89.8,498.3 94.8,494.4 99.8,490.8 104.8,486.9 109.8,483.0 114.8,480.2 119.8,475.9 124.8,472.6 129.8,469.1 134.8,465.3 139.8,461.5 144.8,457.6 149.8,454.5 154.8,450.0 159.8,446.8 164.8,443.2 169.8,439.3 174.8,435.3 179.8,432.2 184.8,428.4 189.8,424.2 194.8,420.7 199.8,416.8 204.8,413.4 209.8,409.8 214.8,406.8 219.8,402.7 224.8,399.1 229.8,395.4 234.8,391.8 239.8,388.8 244.8,384.8 249.8,381.1 254.8,377.6 259.8,374.3 264.8,371.1 269.8,366.9 274.8,363.5 279.8,359.4 284.8,356.5 289.8,353.1 294.8,349.5 299.8,345.8 304.8,342.3 309.8,339.2 314.8,335.4 319.8,331.8 324.8,328.2 329.8,325.0 334.8,321.9 339.8,318.5 344.8,314.7 349.8,311.7 354.8,307.7 359.8,304.2 364.8,301.5 369.8,297.7 374.8,294.3 379.8,290.5 384.8,287.2 389.8,284.2 394.8,280.7 399.8,277.7 404.8,273.7 409.8,270.6 414.8,267.3 419.8,263.3 424.8,259.6 429.8,257.2 434.8,253.0 439.8,249.8 444.8,246.4 449.8,243.6 454.8,239.6 459.8,235.8 464.8,232.8 469.8,229.2 474.8,225.6 479.8,222.2 484.8,219.0 489.8,215.9 494.8,211.2 499.8,208.2 504.8,205.1 509.8,201.6 514.8,197.9 519.8,194.7 524.8,191.8 529.8,187.9 534.8,184.9 539.8,181.4 544.8,177.3 549.8,174.2 554.8,170.7 559.8,167.4 564.8,163.8 569.8,160.7 574.8,157.6 579.8,154.1 584.8,150.2 589.8,147.1 594.8,143.2 599.8,139.4 604.8,136.9 609.8,133.2 614.8,130.0" stroke="#00FFFF" stroke-width="10.24"/><polyline points="84.8,501.8 89.8,498.3 94.8,494.4 99.8,490.8 104.8,486.9 109.8,483.0 114.8,480.2 119.8,475.9 124.8,472.6 129.8,469.1 134.8,465.3 139.8,461.5 144.8,457.6 149.8,454.5 154.8,450.0 159.8,446.8 164.8,443.2 169.8,439.3 174.8,435.3 179.8,432.2 184.8,428.4 189.8,424.2 194.8,420.7 199.8,416.8 204.8,413.4 209.8,409.8 214.8,406.8 219.8,402.7 224.8,399.1 229.8,395.4 234.8,391.8 239.8,388.8 244.8,384.8 249.8,381.1 254.8,377.6 259.8,374.3 264.8,371.1 269.8,366.9 274.8,363.5 279.8,359.4 284.8,356.5 289.8,353.1 294.8,349.5 299.8,345.8 304.8,342.3 309.8,339.2 314.8,335.4 319.8,331.8 324.8,328.2 329.8,325.0 334.8,321.9 339.8,318.5 344.8,314.7 349.8,311.7 354.8,307.7 359.8,304.2 364.8,301.5 369.8,297.7 374.8,294.3 379.8,290.5 384.8,287.2 389.8,284.2 394.8,280.7 399.8,277.7 404.8,273.7 409.8,270.6 414.8,267.3 419.8,263.3 424.8,259.6 429.8,257.2 434.8,253.0 439.8,249.8 444.8,246.4 449.8,243.6 454.8,239.6 459.8,235.8 464.8,232.8 469.8,229.2 474.8,225.6 479.8,222.2 484.8,219.0 489.8,215.9 494.8,211.2 499.8,208.2 504.8,205.1 509.8,201.6 514.8,197.9 519.8,194.7 524.8,191.8 529.8,187.9 534.8,184.9 539.8,181.4 544.8,177.3 549.8,174.2 554.8,170.7 559.8,167.4 564.8,163.8 569.8,160.7 574.8,157.6 579.8,154.1 584.8,150.2 589.8,147.1 594.8,143.2 599.8,139.4 604.8,136.9 609.8,133.2 614.8,130.0" stroke="#fff" stroke-opacity="0.7" stroke-width="4.09" stroke-dasharray="0.9 2.4"/><polyline points="84.8,502.2 89.8,498.5 94.8,494.7 99.8,490.8 104.8,487.1 109.8,483.5 114.8,479.6 119.8,475.6 124.8,471.9 129.8,467.6 134.8,464.4 139.8,460.7 144.8,456.3 149.8,452.4 154.8,449.5 159.8,445.5 164.8,441.7 169.8,438.1 174.8,434.1 179.8,430.1 184.8,426.5 189.8,422.2 194.8,419.0 199.8,415.4 204.8,411.3 209.8,407.8 214.8,404.1 219.8,400.5 224.8,396.9 229.8,392.9 234.8,389.1 239.8,385.6 244.8,382.2 249.8,378.3 254.8,374.8 259.8,371.1 264.8,367.3 269.8,363.6 274.8,360.0 279.8,356.2 284.8,352.4 289.8,348.8 294.8,345.2 299.8,341.5 304.8,337.8 309.8,334.4 314.8,330.9 319.8,326.8 324.8,322.9 329.8,319.9 334.8,315.6 339.8,312.8 344.8,309.3 349.8,305.5 354.8,301.9 359.8,297.9 364.8,294.8 369.8,291.2 374.8,286.8 379.8,283.8 384.8,279.8 389.8,276.9 394.8,272.7 399.8,269.3 404.8,265.6 409.8,262.2 414.8,258.2 419.8,254.8 424.8,251.4 429.8,247.6 434.8,244.0 439.8,240.2 444.8,237.1 449.8,233.5 454.8,229.7 459.8,225.9 464.8,222.2 469.8,218.8 474.8,214.8 479.8,210.7 484.8,206.7 489.8,204.0 494.8,199.8 499.8,196.5 504.8,192.2 509.8,189.0 514.8,185.2 519.8,181.3 524.8,177.6 529.8,174.1 534.8,170.1 539.8,166.7 544.8,163.0 549.8,159.3 554.8,156.0 559.8,151.9 564.8,148.2 569.8,144.4 574.8,140.4 579.8,137.0 584.8,132.8 589.8,129.5 594.8,125.5 599.8,122.2 604.8,117.8 609.8,115.2 614.8,111.2" stroke="#000080" stroke-width="10.06"/><polyline points="84.8,502.2 89.8,498.5 94.8,494.7 99.8,490.8 104.8,487.1 109.8,483.5 114.8,479.6 119.8,475.6 124.8,471.9 129.8,467.6 134.8,464.4 139.8,460.7 144.8,456.3 149.8,452.4 154.8,449.5 159.8,445.5 164.8,441.7 169.8,438.1 174.8,434.1 179.8,430.1 184.8,426.5 189.8,422.2 194.8,419.0 199.8,415.4 204.8,411.3 209.8,407.8 214.8,404.1 219.8,400.5 224.8,396.9 229.8,392.9 234.8,389.1 239.8,385.6 244.8,382.2 249.8,378.3 254.8,374.8 259.8,371.1 264.8,367.3 269.8,363.6 274.8,360.0 279.8,356.2 284.8,352.4 289.8,348.8 294.8,345.2 299.8,341.5 304.8,337.8 309.8,334.4 314.8,330.9 319.8,326.8 324.8,322.9 329.8,319.9 334.8,315.6 339.8,312.8 344.8,309.3 349.8,305.5 354.8,301.9 359.8,297.9 364.8,294.8 369.8,291.2 374.8,286.8 379.8,283.8 384.8,279.8 389.8,276.9 394.8,272.7 399.8,269.3 404.8,265.6 409.8,262.2 414.8,258.2 419.8,254.8 424.8,251.4 429.8,247.6 434.8,244.0 439.8,240.2 444.8,237.1 449.8,233.5 454.8,229.7 459.8,225.9 464.8,222.2 469.8,218.8 474.8,214.8 479.8,210.7 484.8,206.7 489.8,204.0 494.8,199.8 499.8,196.5 504.8,192.2 509.8,189.0 514.8,185.2 519.8,181.3 524.8,177.6 529.8,174.1 534.8,170.1 539.8,166.7 544.8,163.0 549.8,159.3 554.8,156.0 559.8,151.9 564.8,148.2 569.8,144.4 574.8,140.4 579.8,137.0 584.8,132.8 589.8,129.5 594.8,125.5 599.8,122.2 604.8,117.8 609.8,115.2 614.8,111.2" stroke="#fff" stroke-opacity="0.7" stroke-width="4.02" stroke-dasharray="0.9 2.4"/><polyline points="84.8,502.1 89.8,498.6 94.8,494.4 99.8,490.8 104.8,486.9 109.8,483.2 114.8,478.9 119.8,475.3 124.8,471.1 129.8,467.5 134.8,463.5 139.8,460.1 144.8,455.5 149.8,452.0 154.8,448.0 159.8,444.3 164.8,440.5 169.8,436.5 174.8,432.6 179.8,428.8 184.8,424.6 189.8,421.2 194.8,416.6 199.8,413.1 204.8,409.4 209.8,405.6 214.8,401.9 219.8,397.9 224.8,393.6 229.8,390.2 234.8,386.0 239.8,382.9 244.8,379.0 249.8,374.3 254.8,371.0 259.8,367.2 264.8,363.3 269.8,359.1 274.8,356.1 279.8,352.1 284.8,347.8 289.8,343.9 294.8,340.2 299.8,336.4 304.8,332.7 309.8,328.8 314.8,325.5 319.8,321.3 324.8,318.3 329.8,314.5 334.8,310.8 339.8,307.1 344.8,303.5 349.8,300.0 354.8,296.3 359.8,292.7 364.8,288.6 369.8,285.3 374.8,281.7 379.8,278.2 384.8,275.0 389.8,271.1 394.8,267.5 399.8,263.9 404.8,260.1 409.8,256.1 414.8,252.5 419.8,248.8 424.8,244.9 429.8,241.9 434.8,238.2 439.8,235.1 444.8,230.8 449.8,227.2 454.8,223.6 459.8,219.7 464.8,215.6 469.8,211.6 474.8,208.0 479.8,204.5 484.8,200.7 489.8,196.6 494.8,193.2 499.8,188.8 504.8,185.8 509.8,181.9 514.8,177.5 519.8,174.0 524.8,170.0 529.8,166.0 534.8,161.8 539.8,158.7 544.8,154.8 549.8,151.0 554.8,147.2 559.8,143.4 564.8,139.4 569.8,136.1 574.8,132.1 579.8,128.1 584.8,124.6 589.8,120.2 594.8,116.6 599.8,112.5 604.8,109.3 609.8,105.0 614.8,101.3" stroke="#808000" stroke-width="9.97"/><polyline points="84.8,502.1 89.8,498.6 94.8,494.4 99.8,490.8 104.8,486.9 109.8,483.2 114.8,478.9 119.8,475.3 124.8,471.1 129.8,467.5 134.8,463.5 139.8,460.1 144.8,455.5 149.8,452.0 154.8,448.0 159.8,444.3 164.8,440.5 169.8,436.5 174.8,432.6 179.8,428.8 184.8,424.6 189.8,421.2 194.8,416.6 199.8,413.1 204.8,409.4 209.8,405.6 214.8,401.9 219.8,397.9 224.8,393.6 229.8,390.2 234.8,386.0 239.8,382.9 244.8,379.0 249.8,374.3 254.8,371.0 259.8,367.2 264.8,363.3 269.8,359.1 274.8,356.1 279.8,352.1 284.8,347.8 289.8,343.9 294.8,340.2 299.8,336.4 304.8,332.7 309.8,328.8 314.8,325.5 319.8,321.3 324.8,318.3 329.8,314.5 334.8,310.8 339.8,307.1 344.8,303.5 349.8,300.0 354.8,296.3 359.8,292.7 364.8,288.6 369.8,285.3 374.8,281.7 379.8,278.2 384.8,275.0 389.8,271.1 394.8,267.5 399.8,263.9 404.8,260.1 409.8,256.1 414.8,252.5 419.8,248.8 424.8,244.9 429.8,241.9 434.8,238.2 439.8,235.1 444.8,230.8 449.8,227.2 454.8,223.6 459.8,219.7 464.8,215.6 469.8,211.6 474.8,208.0 479.8,204.5 484.8,200.7 489.8,196.6 494.8,193.2 499.8,188.8 504.8,185.8 509.8,181.9 514.8,177.5 519.8,174.0 524.8,170.0 529.8,166.0 534.8,161.8 539.8,158.7 544.8,154.8 549.8,151.0 554.8,147.2 559.8,143.4 564.8,139.4 569.8,136.1 574.8,132.1 579.8,128.1 584.8,124.6 589.8,120.2 594.8,116.6 599.8,112.5 604.8,109.3 609.8,105.0 614.8,101.3" stroke="#fff" stroke-opacity="0.7" stroke-width="3.99" stroke-dasharray="0.9 2.4"/><polygon points="84.8,490.4 89.8,487.3 94.8,483.8 99.8,479.3 104.8,475.4 109.8,471.2 114.8,467.9 119.8,464.3 124.8,459.0 129.8,456.3 134.8,452.4 139.8,447.9 144.8,444.0 149.8,440.0 154.8,436.2 159.8,432.8 164.8,428.6 169.8,425.4 174.8,421.2 179.8,416.7 184.8,412.8 189.8,408.8 194.8,405.6 199.8,401.6 204.8,396.8 209.8,394.7 214.8,390.1 219.8,386.2 224.8,383.0 229.8,378.1 234.8,374.4 239.8,370.8 244.8,367.9 249.8,363.2 254.8,359.6 259.8,355.7 264.8,351.9 269.8,347.1 274.8,344.9 279.8,340.2 284.8,335.7 289.8,333.2 294.8,328.7 299.8,325.1 304.8,321.7 309.8,316.9 314.8,313.1 319.8,309.7 324.8,305.7 329.8,301.2 334.8,298.1 339.8,294.2 344.8,290.3 349.8,286.0 354.8,281.6 359.8,278.1 364.8,274.0 369.8,269.6 374.8,267.1 379.8,263.5 384.8,259.1 389.8,255.5 394.8,251.0 399.8,247.4 404.8,243.4 409.8,239.6 414.8,235.7 419.8,231.9 424.8,227.6 429.8,224.5 434.8,220.3 439.8,216.6 444.8,212.3 449.8,208.7 454.8,204.9 459.8,200.4 464.8,197.4 469.8,192.3 474.8,188.8 479.8,184.1 484.8,181.3 489.8,176.8 494.8,173.2 499.8,168.6 504.8,165.6 509.8,160.5 514.8,157.1 519.8,152.9 524.8,149.0 529.8,145.5 534.8,141.6 539.8,137.3 544.8,133.5 549.8,129.2 554.8,125.1 559.8,121.8 564.8,118.3 569.8,114.2 574.8,110.7 579.8,105.6 584.8,102.6 589.8,97.7 594.8,94.2 599.8,90.6 604.8,86.6 609.8,82.8 614.8,78.2 614.8,94.7 609.8,99.1 604.8,103.0 599.8,106.7 594.8,110.8 589.8,114.3 584.8,118.1 579.8,122.5 574.8,127.0 569.8,130.3 564.8,134.4 559.8,138.6 554.8,142.1 549.8,146.7 544.8,149.9 539.8,154.1 534.8,158.3 529.8,162.5 524.8,166.3 519.8,170.6 514.8,173.9 509.8,177.6 504.8,181.4 499.8,185.5 494.8,189.7 489.8,194.1 484.8,197.8 479.8,201.3 474.8,205.8 469.8,209.3 464.8,214.1 459.8,217.5 454.8,221.4 449.8,225.7 444.8,228.9 439.8,234.2 434.8,237.1 429.8,241.3 424.8,244.4 419.8,249.0 414.8,252.5 409.8,256.8 404.8,260.6 399.8,264.5 394.8,268.5 389.8,272.1 384.8,275.8 379.8,279.7 374.8,283.6 369.8,287.6 364.8,290.9 359.8,295.8 354.8,299.3 349.8,303.2 344.8,307.0 339.8,311.1 334.8,314.8 329.8,318.8 324.8,322.5 319.8,326.8 314.8,331.0 309.8,334.2 304.8,339.1 299.8,342.4 294.8,346.1 289.8,350.0 284.8,353.0 279.8,357.4 274.8,361.4 269.8,365.4 264.8,369.6 259.8,373.5 254.8,376.8 249.8,380.6 244.8,385.1 239.8,388.2 234.8,392.6 229.8,396.1 224.8,401.0 219.8,403.1 214.8,408.0 209.8,411.9 204.8,415.2 199.8,419.1 194.8,422.7 189.8,426.7 184.8,430.4 179.8,435.2 174.8,439.0 169.8,442.9 164.8,446.5 159.8,450.8 154.8,454.1 149.8,458.7 144.8,461.6 139.8,466.6 134.8,470.8 129.8,474.3 124.8,477.2 119.8,481.7 114.8,485.5 109.8,488.9 104.8,493.0 99.8,497.3 94.8,501.4 89.8,505.0 84.8,509.1" fill="#FF0000" stroke="none"/><path d="M102.8 483.1h4.2M109.1 476.5h4.4M114.7 479.7h6.3M121.3 470.2h6.8M130.2 467.9h4.5M136.0 460.3h4.8M142.5 450.3h5.4M151.4 443.7h6.3M159.9 444.5h4.6M167.4 430.5h6.2M173.4 432.8h4.6M180.3 423.2h4.5M188.2 417.2h5.2M197.2 415.3h5.1M202.5 408.8h5.3M207.5 400.9h4.6M213.0 401.7h6.0M220.4 391.3h4.0M228.0 387.5h4.1M235.6 383.3h4.5M243.1 377.0h6.9M252.1 369.2h4.3M261.0 362.9h4.7M268.4 354.5h6.8M275.2 357.0h5.9M281.0 351.7h5.3M287.7 338.8h6.0M293.4 341.7h5.3M299.1 333.0h4.3M305.9 331.6h6.5M314.7 324.4h5.7M320.9 314.3h4.1M328.9 308.6h5.5M334.3 309.9h6.4M339.8 298.6h4.5M346.8 296.4h4.1M355.3 294.3h5.5M361.2 282.8h4.7M369.6 278.4h6.1M377.4 274.5h5.2M385.5 269.2h6.6M394.2 262.1h4.2M400.2 251.5h4.6M406.1 252.3h4.6M411.3 245.3h6.3M418.7 241.6h6.9M423.8 239.1h4.4M429.5 234.3h4.1M437.9 224.0h4.6M443.0 220.1h4.7M448.6 214.0h5.6M455.4 208.4h6.7M463.3 203.7h5.7M472.2 201.0h4.8M481.0 191.0h4.9M486.4 190.6h5.6M493.0 183.1h5.8M501.4 177.0h4.3M509.3 167.5h6.9M514.5 168.4h4.6M522.0 160.9h6.5M530.9 156.1h4.1M538.6 151.1h6.8M545.4 138.2h6.6M554.2 131.3h4.4M563.2 124.9h4.4M569.2 127.4h4.5M574.4 122.3h6.1M579.6 111.1h4.0M587.3 112.6h4.1M592.3 101.5h4.1M597.5 100.3h6.8M604.3 93.0h5.4" stroke="#fff" stroke-opacity="0.85" stroke-width="1"/></g></g>
<path d="M96.8 487.6V73.5H607.4V487.6" fill="none" stroke="#000" stroke-width="2"/>
<path d="M96.80 73.5V80.5M217.00 73.5V80.5M337.20 73.5V80.5M457.39 73.5V80.5M577.59 73.5V80.5M96.8 486.60H103.8M96.8 417.75H103.8M96.8 348.90H103.8M96.8 280.05H103.8M96.8 211.20H103.8M96.8 142.35H103.8M96.8 73.50H103.8M607.4 486.60H600.4M607.4 428.70H600.4M607.4 370.80H600.4M607.4 312.91H600.4M607.4 255.01H600.4M607.4 197.11H600.4M607.4 139.21H600.4M607.4 81.32H600.4" stroke="#000" stroke-width="2" fill="none"/>
<g font-size="21"><text transform="translate(96.80 512.00) scale(1 1.08)" font-size="21" text-anchor="middle" >0.0</text><text transform="translate(198.92 512.00) scale(1 1.08)" font-size="21" text-anchor="middle" >1.0</text><text transform="translate(301.04 512.00) scale(1 1.08)" font-size="21" text-anchor="middle" >2.0</text><text transform="translate(403.16 512.00) scale(1 1.08)" font-size="21" text-anchor="middle" >3.0</text><text transform="translate(505.28 512.00) scale(1 1.08)" font-size="21" text-anchor="middle" >4.0</text><text transform="translate(607.40 512.00) scale(1 1.08)" font-size="21" text-anchor="middle" >5.0</text><text transform="translate(96.80 61.50) scale(1 1.08)" font-size="21" text-anchor="middle" >0.0</text><text transform="translate(217.00 61.50) scale(1 1.08)" font-size="21" text-anchor="middle" >50.0</text><text transform="translate(337.20 61.50) scale(1 1.08)" font-size="21" text-anchor="middle" >100.0</text><text transform="translate(457.39 61.50) scale(1 1.08)" font-size="21" text-anchor="middle" >150.0</text><text transform="translate(577.59 61.50) scale(1 1.08)" font-size="21" text-anchor="middle" >200.0</text><text transform="translate(88.50 493.40) scale(1 1.08)" font-size="21" text-anchor="end" >0.00</text><text transform="translate(88.50 424.55) scale(1 1.08)" font-size="21" text-anchor="end" >0.02</text><text transform="translate(88.50 355.70) scale(1 1.08)" font-size="21" text-anchor="end" >0.04</text><text transform="translate(88.50 286.85) scale(1 1.08)" font-size="21" text-anchor="end" >0.06</text><text transform="translate(88.50 218.00) scale(1 1.08)" font-size="21" text-anchor="end" >0.08</text><text transform="translate(88.50 149.15) scale(1 1.08)" font-size="21" text-anchor="end" >0.10</text><text transform="translate(88.50 80.30) scale(1 1.08)" font-size="21" text-anchor="end" >0.12</text><text transform="translate(616.00 493.40) scale(1 1.08)" font-size="21" text-anchor="start" >0.0</text><text transform="translate(616.00 435.50) scale(1 1.08)" font-size="21" text-anchor="start" >0.1</text><text transform="translate(616.00 377.60) scale(1 1.08)" font-size="21" text-anchor="start" >0.2</text><text transform="translate(616.00 319.71) scale(1 1.08)" font-size="21" text-anchor="start" >0.3</text><text transform="translate(616.00 261.81) scale(1 1.08)" font-size="21" text-anchor="start" >0.4</text><text transform="translate(616.00 203.91) scale(1 1.08)" font-size="21" text-anchor="start" >0.5</text><text transform="translate(616.00 146.01) scale(1 1.08)" font-size="21" text-anchor="start" >0.6</text><text transform="translate(616.00 88.12) scale(1 1.08)" font-size="21" text-anchor="start" >0.7</text></g>
<text x="349.5" y="23.6" font-size="25" text-anchor="middle"><tspan font-style="italic">J</tspan> (mA/cm<tspan font-size="14" dy="-11">2</tspan><tspan dy="11">)</tspan></text>
<text x="370.3" y="548.8" font-size="25" text-anchor="middle"><tspan font-style="italic">I</tspan> (mA)</text>
<text transform="translate(18.5 266.7) rotate(-90)" font-size="25" text-anchor="middle"><tspan font-style="italic">V</tspan> (mV)</text>
<text transform="translate(678.5 274.4) rotate(-90)" font-size="25" text-anchor="middle"><tspan font-style="italic">E</tspan> (mV/cm)</text>
<g><text x="122" y="89.6" font-size="11.5" font-weight="bold"><tspan font-style="italic">T</tspan> (<tspan font-style="italic">K</tspan>)</text><rect x="106.20" y="96.30" width="7.40" height="7.40" fill="none" stroke="#FF0080" stroke-width="1.9"/><text x="125.2" y="104.00" font-size="11.5" font-weight="bold">37.0</text><path d="M109.90 119.58L115.28 109.90L104.53 109.90Z" fill="none" stroke="#0000FF" stroke-width="1.9" stroke-linejoin="miter"/><text x="125.2" y="118.20" font-size="11.5" font-weight="bold">39.0</text><path d="M109.90 122.55L115.75 128.40L109.90 134.25L104.05 128.40Z" fill="none" stroke="#00FFFF" stroke-width="1.9"/><text x="125.2" y="132.40" font-size="11.5" font-weight="bold">40.0</text><path d="M104.53 142.60L114.20 137.22L114.20 147.97Z" fill="none" stroke="#FF00FF" stroke-width="1.9" stroke-linejoin="miter"/><text x="125.2" y="146.60" font-size="11.5" font-weight="bold">41.0</text><path d="M115.28 156.80L105.60 151.43L105.60 162.18Z" fill="none" stroke="#0000FF" stroke-width="1.9" stroke-linejoin="miter"/><text x="125.2" y="160.80" font-size="11.5" font-weight="bold">42.0</text><path d="M115.06 171.00L112.48 175.47L107.32 175.47L104.74 171.00L107.32 166.53L112.48 166.53Z" fill="none" stroke="#808000" stroke-width="1.9"/><text x="125.2" y="175.00" font-size="11.5" font-weight="bold">43.5</text><rect x="106.20" y="181.50" width="7.40" height="7.40" fill="none" stroke="#000080" stroke-width="1.9"/><text x="125.2" y="189.20" font-size="11.5" font-weight="bold">44.0</text><path d="M109.90 194.24L114.81 197.81L112.93 203.57L106.87 203.57L104.99 197.81Z" fill="none" stroke="#800080" stroke-width="1.9"/><text x="125.2" y="203.40" font-size="11.5" font-weight="bold">45.0</text><circle cx="109.90" cy="213.60" r="4.30" fill="none" stroke="#800000" stroke-width="1.9"/><text x="125.2" y="217.60" font-size="11.5" font-weight="bold">46.0</text><rect x="106.20" y="224.10" width="7.40" height="7.40" fill="none" stroke="#008000" stroke-width="1.9"/><text x="125.2" y="231.80" font-size="11.5" font-weight="bold">46.5</text><path d="M104.53 242.00L114.20 236.62L114.20 247.38Z" fill="none" stroke="#FF8000" stroke-width="1.9" stroke-linejoin="miter"/><text x="125.2" y="246.00" font-size="11.5" font-weight="bold">47.0</text><circle cx="109.90" cy="256.20" r="4.30" fill="none" stroke="#0000A0" stroke-width="1.9"/><text x="125.2" y="260.20" font-size="11.5" font-weight="bold">47.5</text><path d="M109.90 264.55L115.75 270.40L109.90 276.25L104.05 270.40Z" fill="none" stroke="#008080" stroke-width="1.9"/><text x="125.2" y="274.40" font-size="11.5" font-weight="bold">48.0</text><path d="M115.28 284.60L105.60 279.23L105.60 289.98Z" fill="none" stroke="#8000FF" stroke-width="1.9" stroke-linejoin="miter"/><text x="125.2" y="288.60" font-size="11.5" font-weight="bold">48.5</text><path d="M104.53 298.80L114.20 293.42L114.20 304.17Z" fill="none" stroke="#FF0080" stroke-width="1.9" stroke-linejoin="miter"/><text x="125.2" y="302.80" font-size="11.5" font-weight="bold">49.0</text><circle cx="109.90" cy="313.00" r="4.30" fill="none" stroke="#00FF00" stroke-width="1.9"/><text x="125.2" y="317.00" font-size="11.5" font-weight="bold">49.5</text><circle cx="109.90" cy="327.20" r="4.30" fill="none" stroke="#808080" stroke-width="1.9"/><text x="125.2" y="331.20" font-size="11.5" font-weight="bold">50.0</text><path d="M104.53 341.40L114.20 336.02L114.20 346.77Z" fill="none" stroke="#000000" stroke-width="1.9" stroke-linejoin="miter"/><text x="125.2" y="345.40" font-size="11.5" font-weight="bold">51.0</text><path d="M109.90 350.44L114.81 354.01L112.93 359.77L106.87 359.77L104.99 354.01Z" fill="none" stroke="#8000FF" stroke-width="1.9"/><text x="125.2" y="359.60" font-size="11.5" font-weight="bold">52.0</text><path d="M104.53 369.80L114.20 364.43L114.20 375.18Z" fill="none" stroke="#000080" stroke-width="1.9" stroke-linejoin="miter"/><text x="125.2" y="373.80" font-size="11.5" font-weight="bold">53.0</text><path d="M115.28 384.00L105.60 378.62L105.60 389.38Z" fill="none" stroke="#FF80FF" stroke-width="1.9" stroke-linejoin="miter"/><text x="125.2" y="388.00" font-size="11.5" font-weight="bold">54.0</text><path d="M109.90 403.57L115.28 393.90L104.53 393.90Z" fill="none" stroke="#00FFFF" stroke-width="1.9" stroke-linejoin="miter"/><text x="125.2" y="402.20" font-size="11.5" font-weight="bold">56.0</text><rect x="106.20" y="408.70" width="7.40" height="7.40" fill="none" stroke="#000080" stroke-width="1.9"/><text x="125.2" y="416.40" font-size="11.5" font-weight="bold">58.0</text><path d="M109.90 420.75L115.75 426.60L109.90 432.45L104.05 426.60Z" fill="none" stroke="#808000" stroke-width="1.9"/><text x="125.2" y="430.60" font-size="11.5" font-weight="bold">60.0</text><path d="M109.90 435.42L115.28 445.10L104.53 445.10Z" fill="none" stroke="#FF0000" stroke-width="1.9" stroke-linejoin="miter"/><text x="125.2" y="444.80" font-size="11.5" font-weight="bold">68.0</text></g>
<text x="351.4" y="96.8" font-size="21.5">Y<tspan font-size="14" dy="10">3</tspan><tspan dy="-10">Ba</tspan><tspan font-size="14" dy="10">5</tspan><tspan dy="-10">Cu</tspan><tspan font-size="14" dy="10">7.95</tspan><tspan dy="-10">Zn</tspan><tspan font-size="14" dy="10">0.05</tspan><tspan dy="-10">O</tspan><tspan font-size="14" dy="10">18-<tspan font-style="italic">δ</tspan></tspan><tspan dy="-10"> (D)</tspan></text>
<defs><clipPath id="ci1"><rect x="208.5" y="125.4" width="151.0" height="122.0"/></clipPath></defs>
<g><rect x="208.5" y="125.4" width="151.0" height="122.0" fill="#fff"/><g clip-path="url(#ci1)"><path d="M205.8 225.6h5.4v5.4h-5.4zM205.8 243.5h5.4v5.4h-5.4zM207.2 220.8h5.4v5.4h-5.4zM207.2 243.5h5.4v5.4h-5.4zM208.5 222.4h5.4v5.4h-5.4zM208.5 243.5h5.4v5.4h-5.4zM209.9 229.3h5.4v5.4h-5.4zM209.9 242.6h5.4v5.4h-5.4zM211.2 229.6h5.4v5.4h-5.4zM211.2 243.5h5.4v5.4h-5.4zM212.6 229.0h5.4v5.4h-5.4zM212.6 243.5h5.4v5.4h-5.4zM214.0 223.7h5.4v5.4h-5.4zM214.0 237.8h5.4v5.4h-5.4zM215.3 227.9h5.4v5.4h-5.4zM215.3 243.5h5.4v5.4h-5.4zM216.7 220.4h5.4v5.4h-5.4zM216.7 235.8h5.4v5.4h-5.4zM218.0 220.9h5.4v5.4h-5.4zM218.0 243.3h5.4v5.4h-5.4zM219.4 214.9h5.4v5.4h-5.4zM219.4 243.5h5.4v5.4h-5.4zM220.7 216.4h5.4v5.4h-5.4zM220.7 243.5h5.4v5.4h-5.4zM222.1 226.6h5.4v5.4h-5.4zM222.1 243.5h5.4v5.4h-5.4zM223.5 224.0h5.4v5.4h-5.4zM223.5 236.6h5.4v5.4h-5.4zM224.8 225.6h5.4v5.4h-5.4zM224.8 239.6h5.4v5.4h-5.4zM226.2 218.6h5.4v5.4h-5.4zM226.2 242.2h5.4v5.4h-5.4zM227.5 219.6h5.4v5.4h-5.4zM227.5 243.5h5.4v5.4h-5.4zM228.9 226.5h5.4v5.4h-5.4zM228.9 243.5h5.4v5.4h-5.4zM230.3 217.0h5.4v5.4h-5.4zM230.3 240.5h5.4v5.4h-5.4zM231.6 222.1h5.4v5.4h-5.4zM231.6 238.0h5.4v5.4h-5.4zM233.0 219.7h5.4v5.4h-5.4zM233.0 241.6h5.4v5.4h-5.4zM234.3 214.3h5.4v5.4h-5.4zM234.3 235.6h5.4v5.4h-5.4zM235.7 221.9h5.4v5.4h-5.4zM235.7 237.0h5.4v5.4h-5.4zM237.1 217.4h5.4v5.4h-5.4zM237.1 232.3h5.4v5.4h-5.4zM238.4 214.0h5.4v5.4h-5.4zM238.4 240.2h5.4v5.4h-5.4zM239.8 209.9h5.4v5.4h-5.4zM239.8 242.1h5.4v5.4h-5.4zM241.1 217.7h5.4v5.4h-5.4zM241.1 232.7h5.4v5.4h-5.4zM242.5 221.1h5.4v5.4h-5.4zM242.5 236.0h5.4v5.4h-5.4zM243.9 222.2h5.4v5.4h-5.4zM243.9 233.0h5.4v5.4h-5.4zM245.2 211.1h5.4v5.4h-5.4zM245.2 233.8h5.4v5.4h-5.4zM246.6 209.0h5.4v5.4h-5.4zM246.6 236.9h5.4v5.4h-5.4zM247.9 211.1h5.4v5.4h-5.4zM247.9 232.5h5.4v5.4h-5.4zM249.3 212.2h5.4v5.4h-5.4zM249.3 233.8h5.4v5.4h-5.4zM250.6 207.9h5.4v5.4h-5.4zM250.6 226.4h5.4v5.4h-5.4zM252.0 212.6h5.4v5.4h-5.4zM252.0 229.8h5.4v5.4h-5.4zM253.4 218.1h5.4v5.4h-5.4zM253.4 228.7h5.4v5.4h-5.4zM254.7 208.9h5.4v5.4h-5.4zM254.7 224.0h5.4v5.4h-5.4zM256.1 205.7h5.4v5.4h-5.4zM256.1 233.3h5.4v5.4h-5.4zM257.4 211.5h5.4v5.4h-5.4zM257.4 227.3h5.4v5.4h-5.4zM258.8 216.2h5.4v5.4h-5.4zM258.8 229.5h5.4v5.4h-5.4zM260.2 213.4h5.4v5.4h-5.4zM260.2 233.7h5.4v5.4h-5.4zM261.5 214.3h5.4v5.4h-5.4zM261.5 223.9h5.4v5.4h-5.4zM262.9 212.6h5.4v5.4h-5.4zM262.9 230.5h5.4v5.4h-5.4zM264.2 208.0h5.4v5.4h-5.4zM264.2 221.0h5.4v5.4h-5.4zM265.6 211.9h5.4v5.4h-5.4zM265.6 226.3h5.4v5.4h-5.4zM267.0 204.3h5.4v5.4h-5.4zM267.0 219.4h5.4v5.4h-5.4zM268.3 199.6h5.4v5.4h-5.4zM268.3 219.0h5.4v5.4h-5.4zM269.7 206.7h5.4v5.4h-5.4zM269.7 224.5h5.4v5.4h-5.4zM271.0 204.8h5.4v5.4h-5.4zM271.0 217.1h5.4v5.4h-5.4zM272.4 195.2h5.4v5.4h-5.4zM272.4 226.6h5.4v5.4h-5.4zM273.7 205.8h5.4v5.4h-5.4zM273.7 224.7h5.4v5.4h-5.4zM275.1 204.2h5.4v5.4h-5.4zM275.1 220.3h5.4v5.4h-5.4zM276.5 198.2h5.4v5.4h-5.4zM276.5 222.6h5.4v5.4h-5.4zM277.8 205.9h5.4v5.4h-5.4zM277.8 219.6h5.4v5.4h-5.4zM279.2 199.7h5.4v5.4h-5.4zM279.2 216.7h5.4v5.4h-5.4zM280.5 190.3h5.4v5.4h-5.4zM280.5 214.0h5.4v5.4h-5.4zM281.9 195.8h5.4v5.4h-5.4zM281.9 214.2h5.4v5.4h-5.4zM283.3 192.5h5.4v5.4h-5.4zM283.3 221.2h5.4v5.4h-5.4zM284.6 188.3h5.4v5.4h-5.4zM284.6 210.1h5.4v5.4h-5.4zM286.0 187.8h5.4v5.4h-5.4zM286.0 208.9h5.4v5.4h-5.4zM287.3 193.9h5.4v5.4h-5.4zM287.3 213.6h5.4v5.4h-5.4zM288.7 197.2h5.4v5.4h-5.4zM288.7 209.3h5.4v5.4h-5.4zM290.1 196.8h5.4v5.4h-5.4zM290.1 216.3h5.4v5.4h-5.4zM291.4 193.7h5.4v5.4h-5.4zM291.4 214.0h5.4v5.4h-5.4zM292.8 190.8h5.4v5.4h-5.4zM292.8 214.5h5.4v5.4h-5.4zM294.1 194.8h5.4v5.4h-5.4zM294.1 212.2h5.4v5.4h-5.4zM295.5 192.3h5.4v5.4h-5.4zM295.5 208.2h5.4v5.4h-5.4zM296.9 192.3h5.4v5.4h-5.4zM296.9 200.0h5.4v5.4h-5.4zM298.2 182.7h5.4v5.4h-5.4zM298.2 209.1h5.4v5.4h-5.4zM299.6 186.9h5.4v5.4h-5.4zM299.6 205.3h5.4v5.4h-5.4zM300.9 184.2h5.4v5.4h-5.4zM300.9 207.3h5.4v5.4h-5.4zM302.3 176.0h5.4v5.4h-5.4zM302.3 194.0h5.4v5.4h-5.4zM303.6 180.5h5.4v5.4h-5.4zM303.6 200.1h5.4v5.4h-5.4zM305.0 185.0h5.4v5.4h-5.4zM305.0 204.3h5.4v5.4h-5.4zM306.4 180.1h5.4v5.4h-5.4zM306.4 200.9h5.4v5.4h-5.4zM307.7 171.9h5.4v5.4h-5.4zM307.7 201.2h5.4v5.4h-5.4zM309.1 182.5h5.4v5.4h-5.4zM309.1 189.0h5.4v5.4h-5.4zM310.4 173.9h5.4v5.4h-5.4zM310.4 199.1h5.4v5.4h-5.4zM311.8 172.6h5.4v5.4h-5.4zM311.8 199.6h5.4v5.4h-5.4zM313.2 171.6h5.4v5.4h-5.4zM313.2 185.1h5.4v5.4h-5.4zM314.5 165.5h5.4v5.4h-5.4zM314.5 187.9h5.4v5.4h-5.4zM315.9 173.1h5.4v5.4h-5.4zM315.9 191.3h5.4v5.4h-5.4zM317.2 173.2h5.4v5.4h-5.4zM317.2 184.4h5.4v5.4h-5.4zM318.6 166.6h5.4v5.4h-5.4zM318.6 183.0h5.4v5.4h-5.4zM320.0 168.4h5.4v5.4h-5.4zM320.0 189.6h5.4v5.4h-5.4zM321.3 160.0h5.4v5.4h-5.4zM321.3 177.6h5.4v5.4h-5.4zM322.7 158.2h5.4v5.4h-5.4zM322.7 178.9h5.4v5.4h-5.4zM324.0 157.4h5.4v5.4h-5.4zM324.0 178.5h5.4v5.4h-5.4zM325.4 164.7h5.4v5.4h-5.4zM325.4 180.3h5.4v5.4h-5.4zM326.8 161.5h5.4v5.4h-5.4zM326.8 185.9h5.4v5.4h-5.4zM328.1 165.0h5.4v5.4h-5.4zM328.1 181.0h5.4v5.4h-5.4zM329.5 160.3h5.4v5.4h-5.4zM329.5 173.9h5.4v5.4h-5.4zM330.8 148.7h5.4v5.4h-5.4zM330.8 176.0h5.4v5.4h-5.4zM332.2 147.6h5.4v5.4h-5.4zM332.2 167.0h5.4v5.4h-5.4zM333.5 146.0h5.4v5.4h-5.4zM333.5 174.4h5.4v5.4h-5.4zM334.9 155.4h5.4v5.4h-5.4zM334.9 174.9h5.4v5.4h-5.4zM336.3 154.3h5.4v5.4h-5.4zM336.3 173.8h5.4v5.4h-5.4zM337.6 146.6h5.4v5.4h-5.4zM337.6 162.7h5.4v5.4h-5.4zM339.0 142.0h5.4v5.4h-5.4zM339.0 167.1h5.4v5.4h-5.4zM340.3 143.3h5.4v5.4h-5.4zM340.3 161.2h5.4v5.4h-5.4zM341.7 150.2h5.4v5.4h-5.4zM341.7 161.7h5.4v5.4h-5.4zM343.1 136.7h5.4v5.4h-5.4zM343.1 158.5h5.4v5.4h-5.4zM344.4 137.5h5.4v5.4h-5.4zM344.4 161.3h5.4v5.4h-5.4zM345.8 144.4h5.4v5.4h-5.4zM345.8 155.5h5.4v5.4h-5.4zM347.1 140.6h5.4v5.4h-5.4zM347.1 153.8h5.4v5.4h-5.4zM348.5 129.8h5.4v5.4h-5.4zM348.5 158.0h5.4v5.4h-5.4zM349.9 136.6h5.4v5.4h-5.4zM349.9 148.7h5.4v5.4h-5.4zM351.2 130.3h5.4v5.4h-5.4zM351.2 158.1h5.4v5.4h-5.4zM352.6 137.5h5.4v5.4h-5.4zM352.6 156.8h5.4v5.4h-5.4zM353.9 124.6h5.4v5.4h-5.4zM353.9 146.0h5.4v5.4h-5.4zM355.3 134.1h5.4v5.4h-5.4zM355.3 144.2h5.4v5.4h-5.4zM356.6 120.3h5.4v5.4h-5.4zM356.6 144.9h5.4v5.4h-5.4zM358.0 127.9h5.4v5.4h-5.4zM358.0 144.9h5.4v5.4h-5.4z" fill="none" stroke="#FF0080" stroke-width="1.6"/><polyline points="208.50,240.32 210.01,240.30 211.52,240.26 213.03,240.18 214.54,240.08 216.05,239.95 217.56,239.80 219.07,239.62 220.58,239.43 222.09,239.21 223.60,238.97 225.11,238.71 226.62,238.43 228.13,238.12 229.64,237.80 231.15,237.46 232.66,237.09 234.17,236.71 235.68,236.31 237.19,235.89 238.70,235.44 240.21,234.98 241.72,234.50 243.23,234.00 244.74,233.49 246.25,232.95 247.76,232.40 249.27,231.82 250.78,231.23 252.29,230.62 253.80,229.99 255.31,229.35 256.82,228.68 258.33,228.00 259.84,227.30 261.35,226.58 262.86,225.85 264.37,225.09 265.88,224.32 267.39,223.54 268.90,222.73 270.41,221.91 271.92,221.07 273.43,220.21 274.94,219.34 276.45,218.45 277.96,217.54 279.47,216.62 280.98,215.67 282.49,214.72 284.00,213.74 285.51,212.75 287.02,211.74 288.53,210.71 290.04,209.67 291.55,208.61 293.06,207.54 294.57,206.45 296.08,205.34 297.59,204.22 299.10,203.08 300.61,201.92 302.12,200.75 303.63,199.56 305.14,198.35 306.65,197.13 308.16,195.89 309.67,194.64 311.18,193.37 312.69,192.09 314.20,190.79 315.71,189.47 317.22,188.13 318.73,186.79 320.24,185.42 321.75,184.04 323.26,182.64 324.77,181.23 326.28,179.81 327.79,178.36 329.30,176.90 330.81,175.43 332.32,173.94 333.83,172.43 335.34,170.91 336.85,169.38 338.36,167.82 339.87,166.26 341.38,164.67 342.89,163.08 344.40,161.46 345.91,159.83 347.42,158.19 348.93,156.53 350.44,154.86 351.95,153.17 353.46,151.46 354.97,149.74 356.48,148.01 357.99,146.26 359.50,144.49" fill="none" stroke="#1a1a96" stroke-width="3"/></g><rect x="208.5" y="125.4" width="151.00" height="122.00" fill="none" stroke="#000" stroke-width="1.6"/><path d="M208.50 247.4V244.4M238.70 247.4V244.4M268.90 247.4V244.4M299.10 247.4V244.4M329.30 247.4V244.4M359.50 247.4V244.4M208.50 125.4V128.4M244.05 125.4V128.4M279.59 125.4V128.4M315.14 125.4V128.4M350.68 125.4V128.4M208.5 247.40H211.5M208.5 216.90H211.5M208.5 186.40H211.5M208.5 155.90H211.5M208.5 125.40H211.5M359.5 247.40H356.5M359.5 216.90H356.5M359.5 186.40H356.5M359.5 155.90H356.5M359.5 125.40H356.5" stroke="#000" stroke-width="1.4" fill="none"/><text x="208.50" y="261.20" font-size="14.5" text-anchor="middle" >0.0</text><text x="238.70" y="261.20" font-size="14.5" text-anchor="middle" >1.0</text><text x="268.90" y="261.20" font-size="14.5" text-anchor="middle" >2.0</text><text x="299.10" y="261.20" font-size="14.5" text-anchor="middle" >3.0</text><text x="329.30" y="261.20" font-size="14.5" text-anchor="middle" >4.0</text><text x="359.50" y="261.20" font-size="14.5" text-anchor="middle" >5.0</text><text x="208.50" y="121.00" font-size="14.5" text-anchor="middle" >0.0</text><text x="244.05" y="121.00" font-size="14.5" text-anchor="middle" >50.0</text><text x="279.59" y="121.00" font-size="14.5" text-anchor="middle" >100.0</text><text x="315.14" y="121.00" font-size="14.5" text-anchor="middle" >150.0</text><text x="350.68" y="121.00" font-size="14.5" text-anchor="middle" >200.0</text><text x="206.50" y="252.40" font-size="14.5" text-anchor="end" >0.0</text><text x="206.50" y="221.90" font-size="14.5" text-anchor="end" >0.5</text><text x="206.50" y="191.40" font-size="14.5" text-anchor="end" >1.0</text><text x="206.50" y="160.90" font-size="14.5" text-anchor="end" >1.5</text><text x="206.50" y="130.40" font-size="14.5" text-anchor="end" >2.0</text><text x="360.80" y="252.40" font-size="14.5" text-anchor="start" >0.0</text><text x="360.80" y="221.90" font-size="14.5" text-anchor="start" >0.3</text><text x="360.80" y="191.40" font-size="14.5" text-anchor="start" >0.6</text><text x="360.80" y="160.90" font-size="14.5" text-anchor="start" >0.9</text><text x="360.80" y="130.40" font-size="14.5" text-anchor="start" >1.2</text><path d="M231.9 139.4H266.2" stroke="#1a1a96" stroke-width="3"/><text x="269.30" y="144.50" font-size="15.7" text-anchor="start" >Fitting</text><text x="242.4" y="164.4" font-size="17"><tspan font-style="italic">T</tspan> = 37.0 K</text><text x="248.4" y="97.3" font-size="18.4"><tspan font-style="italic">J</tspan> (mA/cm<tspan font-size="12" dy="-9">2</tspan><tspan dy="9">)</tspan></text><text x="260.5" y="287.6" font-size="19"><tspan font-style="italic">I</tspan> (mA)</text><text transform="translate(175 180) rotate(-90)" font-size="19" text-anchor="middle"><tspan font-style="italic">V</tspan> (10<tspan font-size="12.5" dy="-7.5">-3</tspan><tspan dy="7.5">mV)</tspan></text><text transform="translate(410.5 175.9) rotate(-90)" font-size="19" text-anchor="middle"><tspan font-style="italic">E</tspan> (10<tspan font-size="12.5" dy="-7.5">-2</tspan><tspan dy="7.5">mV/cm)</tspan></text></g>
<rect x="100.8" y="670.8" width="507.80" height="409.20" fill="none" stroke="#000" stroke-width="2"/>
<path d="M100.80 1080.0V1073.0M202.36 1080.0V1073.0M303.92 1080.0V1073.0M405.48 1080.0V1073.0M507.04 1080.0V1073.0M608.60 1080.0V1073.0" stroke="#000" stroke-width="2" fill="none"/>
<g clip-path="url(#c2)"><g filter="url(#rough)" fill="none" stroke-linejoin="round"><polyline points="88.8,1080.6 93.8,1080.1 98.8,1079.9 103.8,1080.2 108.8,1080.1 113.8,1080.2 118.8,1080.0 123.8,1080.0 128.8,1079.9 133.8,1079.8 138.8,1079.7 143.8,1079.9 148.8,1079.8 153.8,1079.4 158.8,1079.7 163.8,1079.0 168.8,1079.6 173.8,1079.6 178.8,1078.9 183.8,1079.2 188.8,1079.3 193.8,1078.7 198.8,1078.6 203.8,1078.9 208.8,1079.2 213.8,1078.8 218.8,1078.0 223.8,1078.3 228.8,1078.0 233.8,1078.4 238.8,1078.4 243.8,1077.9 248.8,1078.4 253.8,1078.1 258.8,1078.0 263.8,1078.0 268.8,1077.6 273.8,1077.7 278.8,1078.0 283.8,1077.4 288.8,1077.7 293.8,1077.5 298.8,1077.5 303.8,1077.6 308.8,1077.4 313.8,1077.3 318.8,1076.8 323.8,1076.8 328.8,1077.1 333.8,1076.5 338.8,1076.4 343.8,1076.5 348.8,1075.9 353.8,1076.6 358.8,1075.8 363.8,1075.8 368.8,1075.7 373.8,1075.2 378.8,1075.0 383.8,1074.8 388.8,1074.9 393.8,1074.2 398.8,1075.0 403.8,1074.2 408.8,1074.4 413.8,1074.2 418.8,1073.9 423.8,1074.3 428.8,1073.8 433.8,1073.5 438.8,1073.2 443.8,1073.2 448.8,1072.4 453.8,1073.4 458.8,1073.0 463.8,1072.3 468.8,1072.4 473.8,1072.1 478.8,1072.4 483.8,1072.1 488.8,1072.0 493.8,1072.1 498.8,1071.5 503.8,1071.6 508.8,1071.6 513.8,1071.7 518.8,1071.1 523.8,1071.4 528.8,1071.2 533.8,1070.9 538.8,1071.2 543.8,1071.1 548.8,1070.5 553.8,1070.6 558.8,1070.5 563.8,1070.0 568.8,1070.6 573.8,1069.9 578.8,1070.2 583.8,1069.4 588.8,1069.6 593.8,1069.6 598.8,1069.2 603.8,1069.2 608.8,1069.0 613.8,1069.0 618.8,1068.7" stroke="#000000" stroke-width="9.00"/><polyline points="88.8,1080.6 93.8,1080.1 98.8,1079.9 103.8,1080.2 108.8,1080.1 113.8,1080.2 118.8,1080.0 123.8,1080.0 128.8,1079.9 133.8,1079.8 138.8,1079.7 143.8,1079.9 148.8,1079.8 153.8,1079.4 158.8,1079.7 163.8,1079.0 168.8,1079.6 173.8,1079.6 178.8,1078.9 183.8,1079.2 188.8,1079.3 193.8,1078.7 198.8,1078.6 203.8,1078.9 208.8,1079.2 213.8,1078.8 218.8,1078.0 223.8,1078.3 228.8,1078.0 233.8,1078.4 238.8,1078.4 243.8,1077.9 248.8,1078.4 253.8,1078.1 258.8,1078.0 263.8,1078.0 268.8,1077.6 273.8,1077.7 278.8,1078.0 283.8,1077.4 288.8,1077.7 293.8,1077.5 298.8,1077.5 303.8,1077.6 308.8,1077.4 313.8,1077.3 318.8,1076.8 323.8,1076.8 328.8,1077.1 333.8,1076.5 338.8,1076.4 343.8,1076.5 348.8,1075.9 353.8,1076.6 358.8,1075.8 363.8,1075.8 368.8,1075.7 373.8,1075.2 378.8,1075.0 383.8,1074.8 388.8,1074.9 393.8,1074.2 398.8,1075.0 403.8,1074.2 408.8,1074.4 413.8,1074.2 418.8,1073.9 423.8,1074.3 428.8,1073.8 433.8,1073.5 438.8,1073.2 443.8,1073.2 448.8,1072.4 453.8,1073.4 458.8,1073.0 463.8,1072.3 468.8,1072.4 473.8,1072.1 478.8,1072.4 483.8,1072.1 488.8,1072.0 493.8,1072.1 498.8,1071.5 503.8,1071.6 508.8,1071.6 513.8,1071.7 518.8,1071.1 523.8,1071.4 528.8,1071.2 533.8,1070.9 538.8,1071.2 543.8,1071.1 548.8,1070.5 553.8,1070.6 558.8,1070.5 563.8,1070.0 568.8,1070.6 573.8,1069.9 578.8,1070.2 583.8,1069.4 588.8,1069.6 593.8,1069.6 598.8,1069.2 603.8,1069.2 608.8,1069.0 613.8,1069.0 618.8,1068.7" stroke="#fff" stroke-opacity="0.7" stroke-width="3.60" stroke-dasharray="0.9 2.4"/><polyline points="88.8,1080.9 93.8,1080.6 98.8,1080.7 103.8,1079.9 108.8,1080.5 113.8,1080.2 118.8,1079.2 123.8,1080.0 128.8,1079.5 133.8,1079.5 138.8,1079.8 143.8,1079.4 148.8,1078.9 153.8,1078.8 158.8,1078.8 163.8,1078.3 168.8,1078.2 173.8,1078.3 178.8,1077.9 183.8,1077.9 188.8,1078.0 193.8,1077.4 198.8,1077.6 203.8,1077.2 208.8,1076.9 213.8,1076.9 218.8,1077.1 223.8,1076.7 228.8,1076.7 233.8,1076.7 238.8,1076.2 243.8,1075.9 248.8,1075.7 253.8,1076.2 258.8,1075.9 263.8,1075.6 268.8,1075.1 273.8,1075.5 278.8,1075.3 283.8,1074.9 288.8,1074.8 293.8,1074.5 298.8,1074.7 303.8,1074.4 308.8,1074.3 313.8,1074.1 318.8,1073.6 323.8,1073.6 328.8,1073.4 333.8,1072.9 338.8,1072.8 343.8,1072.7 348.8,1073.0 353.8,1072.7 358.8,1072.2 363.8,1071.8 368.8,1072.1 373.8,1071.0 378.8,1070.7 383.8,1071.0 388.8,1071.0 393.8,1070.6 398.8,1070.9 403.8,1070.1 408.8,1070.3 413.8,1069.6 418.8,1069.6 423.8,1069.8 428.8,1068.7 433.8,1069.0 438.8,1069.1 443.8,1068.4 448.8,1068.4 453.8,1067.9 458.8,1067.7 463.8,1067.5 468.8,1067.2 473.8,1067.2 478.8,1066.9 483.8,1066.3 488.8,1065.8 493.8,1065.3 498.8,1065.5 503.8,1064.5 508.8,1064.5 513.8,1064.5 518.8,1064.0 523.8,1063.6 528.8,1063.4 533.8,1063.0 538.8,1063.2 543.8,1062.7 548.8,1062.0 553.8,1061.7 558.8,1061.6 563.8,1060.8 568.8,1060.7 573.8,1060.8 578.8,1060.0 583.8,1059.7 588.8,1059.9 593.8,1059.3 598.8,1058.7 603.8,1058.5 608.8,1058.3 613.8,1057.9 618.8,1057.2" stroke="#00FFFF" stroke-width="12.99"/><polyline points="88.8,1080.9 93.8,1080.6 98.8,1080.7 103.8,1079.9 108.8,1080.5 113.8,1080.2 118.8,1079.2 123.8,1080.0 128.8,1079.5 133.8,1079.5 138.8,1079.8 143.8,1079.4 148.8,1078.9 153.8,1078.8 158.8,1078.8 163.8,1078.3 168.8,1078.2 173.8,1078.3 178.8,1077.9 183.8,1077.9 188.8,1078.0 193.8,1077.4 198.8,1077.6 203.8,1077.2 208.8,1076.9 213.8,1076.9 218.8,1077.1 223.8,1076.7 228.8,1076.7 233.8,1076.7 238.8,1076.2 243.8,1075.9 248.8,1075.7 253.8,1076.2 258.8,1075.9 263.8,1075.6 268.8,1075.1 273.8,1075.5 278.8,1075.3 283.8,1074.9 288.8,1074.8 293.8,1074.5 298.8,1074.7 303.8,1074.4 308.8,1074.3 313.8,1074.1 318.8,1073.6 323.8,1073.6 328.8,1073.4 333.8,1072.9 338.8,1072.8 343.8,1072.7 348.8,1073.0 353.8,1072.7 358.8,1072.2 363.8,1071.8 368.8,1072.1 373.8,1071.0 378.8,1070.7 383.8,1071.0 388.8,1071.0 393.8,1070.6 398.8,1070.9 403.8,1070.1 408.8,1070.3 413.8,1069.6 418.8,1069.6 423.8,1069.8 428.8,1068.7 433.8,1069.0 438.8,1069.1 443.8,1068.4 448.8,1068.4 453.8,1067.9 458.8,1067.7 463.8,1067.5 468.8,1067.2 473.8,1067.2 478.8,1066.9 483.8,1066.3 488.8,1065.8 493.8,1065.3 498.8,1065.5 503.8,1064.5 508.8,1064.5 513.8,1064.5 518.8,1064.0 523.8,1063.6 528.8,1063.4 533.8,1063.0 538.8,1063.2 543.8,1062.7 548.8,1062.0 553.8,1061.7 558.8,1061.6 563.8,1060.8 568.8,1060.7 573.8,1060.8 578.8,1060.0 583.8,1059.7 588.8,1059.9 593.8,1059.3 598.8,1058.7 603.8,1058.5 608.8,1058.3 613.8,1057.9 618.8,1057.2" stroke="#fff" stroke-opacity="0.7" stroke-width="5.19" stroke-dasharray="0.9 2.4"/><polyline points="88.8,1081.2 93.8,1081.4 98.8,1080.7 103.8,1080.8 108.8,1080.2 113.8,1079.9 118.8,1079.9 123.8,1079.1 128.8,1078.8 133.8,1079.3 138.8,1078.8 143.8,1078.8 148.8,1078.4 153.8,1077.5 158.8,1077.7 163.8,1077.6 168.8,1076.9 173.8,1076.5 178.8,1076.2 183.8,1076.2 188.8,1075.9 193.8,1075.6 198.8,1075.4 203.8,1075.8 208.8,1074.9 213.8,1074.3 218.8,1074.7 223.8,1073.7 228.8,1073.9 233.8,1074.0 238.8,1073.0 243.8,1073.1 248.8,1072.5 253.8,1072.2 258.8,1071.9 263.8,1072.0 268.8,1071.3 273.8,1071.4 278.8,1070.9 283.8,1070.4 288.8,1070.6 293.8,1069.5 298.8,1069.7 303.8,1069.4 308.8,1068.7 313.8,1068.6 318.8,1068.1 323.8,1068.2 328.8,1067.8 333.8,1067.3 338.8,1066.2 343.8,1066.1 348.8,1066.4 353.8,1065.9 358.8,1065.3 363.8,1064.7 368.8,1064.3 373.8,1064.1 378.8,1063.7 383.8,1063.4 388.8,1063.2 393.8,1062.7 398.8,1062.2 403.8,1062.1 408.8,1061.9 413.8,1061.3 418.8,1060.8 423.8,1060.3 428.8,1060.1 433.8,1059.7 438.8,1059.7 443.8,1059.5 448.8,1058.5 453.8,1058.0 458.8,1058.0 463.8,1057.5 468.8,1057.0 473.8,1056.1 478.8,1055.6 483.8,1055.3 488.8,1054.6 493.8,1054.6 498.8,1053.3 503.8,1053.7 508.8,1052.7 513.8,1052.8 518.8,1052.4 523.8,1051.3 528.8,1050.7 533.8,1050.5 538.8,1049.8 543.8,1049.5 548.8,1048.8 553.8,1048.5 558.8,1047.9 563.8,1047.3 568.8,1047.4 573.8,1046.6 578.8,1046.3 583.8,1045.7 588.8,1045.1 593.8,1044.1 598.8,1043.8 603.8,1043.6 608.8,1043.1 613.8,1042.8 618.8,1042.4" stroke="#800000" stroke-width="13.46"/><polyline points="88.8,1081.2 93.8,1081.4 98.8,1080.7 103.8,1080.8 108.8,1080.2 113.8,1079.9 118.8,1079.9 123.8,1079.1 128.8,1078.8 133.8,1079.3 138.8,1078.8 143.8,1078.8 148.8,1078.4 153.8,1077.5 158.8,1077.7 163.8,1077.6 168.8,1076.9 173.8,1076.5 178.8,1076.2 183.8,1076.2 188.8,1075.9 193.8,1075.6 198.8,1075.4 203.8,1075.8 208.8,1074.9 213.8,1074.3 218.8,1074.7 223.8,1073.7 228.8,1073.9 233.8,1074.0 238.8,1073.0 243.8,1073.1 248.8,1072.5 253.8,1072.2 258.8,1071.9 263.8,1072.0 268.8,1071.3 273.8,1071.4 278.8,1070.9 283.8,1070.4 288.8,1070.6 293.8,1069.5 298.8,1069.7 303.8,1069.4 308.8,1068.7 313.8,1068.6 318.8,1068.1 323.8,1068.2 328.8,1067.8 333.8,1067.3 338.8,1066.2 343.8,1066.1 348.8,1066.4 353.8,1065.9 358.8,1065.3 363.8,1064.7 368.8,1064.3 373.8,1064.1 378.8,1063.7 383.8,1063.4 388.8,1063.2 393.8,1062.7 398.8,1062.2 403.8,1062.1 408.8,1061.9 413.8,1061.3 418.8,1060.8 423.8,1060.3 428.8,1060.1 433.8,1059.7 438.8,1059.7 443.8,1059.5 448.8,1058.5 453.8,1058.0 458.8,1058.0 463.8,1057.5 468.8,1057.0 473.8,1056.1 478.8,1055.6 483.8,1055.3 488.8,1054.6 493.8,1054.6 498.8,1053.3 503.8,1053.7 508.8,1052.7 513.8,1052.8 518.8,1052.4 523.8,1051.3 528.8,1050.7 533.8,1050.5 538.8,1049.8 543.8,1049.5 548.8,1048.8 553.8,1048.5 558.8,1047.9 563.8,1047.3 568.8,1047.4 573.8,1046.6 578.8,1046.3 583.8,1045.7 588.8,1045.1 593.8,1044.1 598.8,1043.8 603.8,1043.6 608.8,1043.1 613.8,1042.8 618.8,1042.4" stroke="#fff" stroke-opacity="0.55" stroke-width="5.38" stroke-dasharray="0.8 2.6"/><polyline points="88.8,1081.8 93.8,1081.5 98.8,1081.2 103.8,1080.5 108.8,1080.8 113.8,1080.4 118.8,1079.8 123.8,1079.5 128.8,1079.1 133.8,1079.3 138.8,1078.7 143.8,1078.1 148.8,1078.0 153.8,1077.4 158.8,1076.6 163.8,1076.7 168.8,1076.6 173.8,1075.7 178.8,1075.8 183.8,1075.1 188.8,1074.9 193.8,1074.6 198.8,1074.4 203.8,1073.7 208.8,1073.3 213.8,1072.5 218.8,1072.4 223.8,1071.7 228.8,1071.4 233.8,1070.3 238.8,1070.4 243.8,1069.6 248.8,1069.5 253.8,1069.0 258.8,1068.3 263.8,1067.8 268.8,1067.5 273.8,1066.5 278.8,1066.1 283.8,1065.7 288.8,1064.8 293.8,1064.5 298.8,1064.1 303.8,1063.9 308.8,1063.0 313.8,1062.5 318.8,1061.9 323.8,1061.1 328.8,1060.9 333.8,1059.8 338.8,1059.3 343.8,1059.1 348.8,1058.5 353.8,1058.3 358.8,1057.9 363.8,1056.7 368.8,1056.6 373.8,1055.9 378.8,1055.3 383.8,1054.4 388.8,1053.9 393.8,1053.0 398.8,1053.2 403.8,1052.8 408.8,1051.9 413.8,1051.1 418.8,1051.5 423.8,1050.4 428.8,1050.1 433.8,1049.0 438.8,1048.0 443.8,1047.8 448.8,1047.4 453.8,1046.5 458.8,1045.6 463.8,1044.9 468.8,1043.7 473.8,1043.1 478.8,1041.8 483.8,1041.3 488.8,1041.2 493.8,1040.3 498.8,1038.9 503.8,1038.4 508.8,1037.7 513.8,1037.1 518.8,1036.0 523.8,1035.1 528.8,1033.8 533.8,1033.7 538.8,1031.9 543.8,1031.4 548.8,1030.6 553.8,1030.2 558.8,1028.9 563.8,1028.4 568.8,1027.4 573.8,1026.2 578.8,1025.6 583.8,1024.8 588.8,1024.5 593.8,1023.0 598.8,1022.2 603.8,1022.2 608.8,1021.0 613.8,1020.3 618.8,1019.4" stroke="#008080" stroke-width="11.91"/><polyline points="88.8,1081.8 93.8,1081.5 98.8,1081.2 103.8,1080.5 108.8,1080.8 113.8,1080.4 118.8,1079.8 123.8,1079.5 128.8,1079.1 133.8,1079.3 138.8,1078.7 143.8,1078.1 148.8,1078.0 153.8,1077.4 158.8,1076.6 163.8,1076.7 168.8,1076.6 173.8,1075.7 178.8,1075.8 183.8,1075.1 188.8,1074.9 193.8,1074.6 198.8,1074.4 203.8,1073.7 208.8,1073.3 213.8,1072.5 218.8,1072.4 223.8,1071.7 228.8,1071.4 233.8,1070.3 238.8,1070.4 243.8,1069.6 248.8,1069.5 253.8,1069.0 258.8,1068.3 263.8,1067.8 268.8,1067.5 273.8,1066.5 278.8,1066.1 283.8,1065.7 288.8,1064.8 293.8,1064.5 298.8,1064.1 303.8,1063.9 308.8,1063.0 313.8,1062.5 318.8,1061.9 323.8,1061.1 328.8,1060.9 333.8,1059.8 338.8,1059.3 343.8,1059.1 348.8,1058.5 353.8,1058.3 358.8,1057.9 363.8,1056.7 368.8,1056.6 373.8,1055.9 378.8,1055.3 383.8,1054.4 388.8,1053.9 393.8,1053.0 398.8,1053.2 403.8,1052.8 408.8,1051.9 413.8,1051.1 418.8,1051.5 423.8,1050.4 428.8,1050.1 433.8,1049.0 438.8,1048.0 443.8,1047.8 448.8,1047.4 453.8,1046.5 458.8,1045.6 463.8,1044.9 468.8,1043.7 473.8,1043.1 478.8,1041.8 483.8,1041.3 488.8,1041.2 493.8,1040.3 498.8,1038.9 503.8,1038.4 508.8,1037.7 513.8,1037.1 518.8,1036.0 523.8,1035.1 528.8,1033.8 533.8,1033.7 538.8,1031.9 543.8,1031.4 548.8,1030.6 553.8,1030.2 558.8,1028.9 563.8,1028.4 568.8,1027.4 573.8,1026.2 578.8,1025.6 583.8,1024.8 588.8,1024.5 593.8,1023.0 598.8,1022.2 603.8,1022.2 608.8,1021.0 613.8,1020.3 618.8,1019.4" stroke="#fff" stroke-opacity="0.55" stroke-width="4.77" stroke-dasharray="0.9 2.4"/><polyline points="88.8,1082.0 93.8,1081.9 98.8,1081.2 103.8,1080.7 108.8,1080.5 113.8,1080.3 118.8,1079.6 123.8,1079.5 128.8,1078.8 133.8,1078.8 138.8,1078.1 143.8,1077.8 148.8,1077.5 153.8,1076.8 158.8,1076.9 163.8,1076.4 168.8,1075.6 173.8,1075.9 178.8,1075.5 183.8,1075.0 188.8,1074.1 193.8,1073.8 198.8,1073.4 203.8,1072.9 208.8,1072.3 213.8,1072.1 218.8,1071.1 223.8,1071.0 228.8,1070.0 233.8,1069.6 238.8,1068.5 243.8,1068.6 248.8,1067.2 253.8,1067.0 258.8,1066.8 263.8,1066.1 268.8,1065.3 273.8,1064.5 278.8,1064.0 283.8,1063.6 288.8,1063.0 293.8,1062.2 298.8,1062.1 303.8,1061.3 308.8,1060.5 313.8,1059.7 318.8,1059.7 323.8,1059.1 328.8,1057.9 333.8,1057.3 338.8,1057.1 343.8,1056.4 348.8,1055.2 353.8,1055.5 358.8,1053.7 363.8,1053.5 368.8,1053.8 373.8,1052.8 378.8,1051.8 383.8,1051.1 388.8,1050.9 393.8,1050.4 398.8,1049.7 403.8,1049.3 408.8,1048.6 413.8,1047.9 418.8,1047.2 423.8,1046.5 428.8,1046.3 433.8,1045.5 438.8,1044.8 443.8,1044.5 448.8,1044.1 453.8,1042.7 458.8,1042.0 463.8,1041.2 468.8,1040.0 473.8,1039.3 478.8,1038.6 483.8,1037.5 488.8,1036.6 493.8,1035.9 498.8,1034.6 503.8,1033.9 508.8,1033.2 513.8,1032.6 518.8,1031.8 523.8,1030.6 528.8,1029.4 533.8,1029.0 538.8,1027.8 543.8,1026.9 548.8,1026.2 553.8,1025.0 558.8,1024.3 563.8,1023.6 568.8,1023.0 573.8,1021.6 578.8,1020.7 583.8,1019.7 588.8,1018.9 593.8,1018.0 598.8,1017.2 603.8,1016.5 608.8,1015.2 613.8,1014.5 618.8,1013.4" stroke="#000080" stroke-width="11.90"/><polyline points="88.8,1082.0 93.8,1081.9 98.8,1081.2 103.8,1080.7 108.8,1080.5 113.8,1080.3 118.8,1079.6 123.8,1079.5 128.8,1078.8 133.8,1078.8 138.8,1078.1 143.8,1077.8 148.8,1077.5 153.8,1076.8 158.8,1076.9 163.8,1076.4 168.8,1075.6 173.8,1075.9 178.8,1075.5 183.8,1075.0 188.8,1074.1 193.8,1073.8 198.8,1073.4 203.8,1072.9 208.8,1072.3 213.8,1072.1 218.8,1071.1 223.8,1071.0 228.8,1070.0 233.8,1069.6 238.8,1068.5 243.8,1068.6 248.8,1067.2 253.8,1067.0 258.8,1066.8 263.8,1066.1 268.8,1065.3 273.8,1064.5 278.8,1064.0 283.8,1063.6 288.8,1063.0 293.8,1062.2 298.8,1062.1 303.8,1061.3 308.8,1060.5 313.8,1059.7 318.8,1059.7 323.8,1059.1 328.8,1057.9 333.8,1057.3 338.8,1057.1 343.8,1056.4 348.8,1055.2 353.8,1055.5 358.8,1053.7 363.8,1053.5 368.8,1053.8 373.8,1052.8 378.8,1051.8 383.8,1051.1 388.8,1050.9 393.8,1050.4 398.8,1049.7 403.8,1049.3 408.8,1048.6 413.8,1047.9 418.8,1047.2 423.8,1046.5 428.8,1046.3 433.8,1045.5 438.8,1044.8 443.8,1044.5 448.8,1044.1 453.8,1042.7 458.8,1042.0 463.8,1041.2 468.8,1040.0 473.8,1039.3 478.8,1038.6 483.8,1037.5 488.8,1036.6 493.8,1035.9 498.8,1034.6 503.8,1033.9 508.8,1033.2 513.8,1032.6 518.8,1031.8 523.8,1030.6 528.8,1029.4 533.8,1029.0 538.8,1027.8 543.8,1026.9 548.8,1026.2 553.8,1025.0 558.8,1024.3 563.8,1023.6 568.8,1023.0 573.8,1021.6 578.8,1020.7 583.8,1019.7 588.8,1018.9 593.8,1018.0 598.8,1017.2 603.8,1016.5 608.8,1015.2 613.8,1014.5 618.8,1013.4" stroke="#fff" stroke-opacity="0.7" stroke-width="4.76" stroke-dasharray="0.9 2.4"/><polyline points="88.8,1082.6 93.8,1081.8 98.8,1081.5 103.8,1081.1 108.8,1080.7 113.8,1080.4 118.8,1079.7 123.8,1079.3 128.8,1078.6 133.8,1078.4 138.8,1078.1 143.8,1077.9 148.8,1077.0 153.8,1076.7 158.8,1077.0 163.8,1076.4 168.8,1075.9 173.8,1075.0 178.8,1074.6 183.8,1074.2 188.8,1073.9 193.8,1073.8 198.8,1073.1 203.8,1072.7 208.8,1072.0 213.8,1071.1 218.8,1070.2 223.8,1070.3 228.8,1069.2 233.8,1068.6 238.8,1068.0 243.8,1067.1 248.8,1066.8 253.8,1065.7 258.8,1065.6 263.8,1064.4 268.8,1064.2 273.8,1063.5 278.8,1063.1 283.8,1062.1 288.8,1061.3 293.8,1060.9 298.8,1060.0 303.8,1059.5 308.8,1059.0 313.8,1058.1 318.8,1057.6 323.8,1056.3 328.8,1056.2 333.8,1055.7 338.8,1054.5 343.8,1054.2 348.8,1053.0 353.8,1052.3 358.8,1052.0 363.8,1051.3 368.8,1050.2 373.8,1049.7 378.8,1049.2 383.8,1048.6 388.8,1047.9 393.8,1047.4 398.8,1046.2 403.8,1046.0 408.8,1045.1 413.8,1044.6 418.8,1043.2 423.8,1043.3 428.8,1042.2 433.8,1041.5 438.8,1040.6 443.8,1040.6 448.8,1039.3 453.8,1038.1 458.8,1037.6 463.8,1036.8 468.8,1035.3 473.8,1034.3 478.8,1033.6 483.8,1032.7 488.8,1031.7 493.8,1030.9 498.8,1029.4 503.8,1028.6 508.8,1028.0 513.8,1026.8 518.8,1026.0 523.8,1024.6 528.8,1023.9 533.8,1022.0 538.8,1021.5 543.8,1020.8 548.8,1020.0 553.8,1019.0 558.8,1018.4 563.8,1016.3 568.8,1016.3 573.8,1015.2 578.8,1014.3 583.8,1012.8 588.8,1012.3 593.8,1010.6 598.8,1010.3 603.8,1009.2 608.8,1008.6 613.8,1006.8 618.8,1006.0" stroke="#00FF00" stroke-width="11.87"/><polyline points="88.8,1082.6 93.8,1081.8 98.8,1081.5 103.8,1081.1 108.8,1080.7 113.8,1080.4 118.8,1079.7 123.8,1079.3 128.8,1078.6 133.8,1078.4 138.8,1078.1 143.8,1077.9 148.8,1077.0 153.8,1076.7 158.8,1077.0 163.8,1076.4 168.8,1075.9 173.8,1075.0 178.8,1074.6 183.8,1074.2 188.8,1073.9 193.8,1073.8 198.8,1073.1 203.8,1072.7 208.8,1072.0 213.8,1071.1 218.8,1070.2 223.8,1070.3 228.8,1069.2 233.8,1068.6 238.8,1068.0 243.8,1067.1 248.8,1066.8 253.8,1065.7 258.8,1065.6 263.8,1064.4 268.8,1064.2 273.8,1063.5 278.8,1063.1 283.8,1062.1 288.8,1061.3 293.8,1060.9 298.8,1060.0 303.8,1059.5 308.8,1059.0 313.8,1058.1 318.8,1057.6 323.8,1056.3 328.8,1056.2 333.8,1055.7 338.8,1054.5 343.8,1054.2 348.8,1053.0 353.8,1052.3 358.8,1052.0 363.8,1051.3 368.8,1050.2 373.8,1049.7 378.8,1049.2 383.8,1048.6 388.8,1047.9 393.8,1047.4 398.8,1046.2 403.8,1046.0 408.8,1045.1 413.8,1044.6 418.8,1043.2 423.8,1043.3 428.8,1042.2 433.8,1041.5 438.8,1040.6 443.8,1040.6 448.8,1039.3 453.8,1038.1 458.8,1037.6 463.8,1036.8 468.8,1035.3 473.8,1034.3 478.8,1033.6 483.8,1032.7 488.8,1031.7 493.8,1030.9 498.8,1029.4 503.8,1028.6 508.8,1028.0 513.8,1026.8 518.8,1026.0 523.8,1024.6 528.8,1023.9 533.8,1022.0 538.8,1021.5 543.8,1020.8 548.8,1020.0 553.8,1019.0 558.8,1018.4 563.8,1016.3 568.8,1016.3 573.8,1015.2 578.8,1014.3 583.8,1012.8 588.8,1012.3 593.8,1010.6 598.8,1010.3 603.8,1009.2 608.8,1008.6 613.8,1006.8 618.8,1006.0" stroke="#fff" stroke-opacity="0.55" stroke-width="4.75" stroke-dasharray="0.8 2.6"/><polyline points="88.8,1082.9 93.8,1082.0 98.8,1082.0 103.8,1080.9 108.8,1080.7 113.8,1080.0 118.8,1080.0 123.8,1079.0 128.8,1079.0 133.8,1078.2 138.8,1078.6 143.8,1077.5 148.8,1077.1 153.8,1076.3 158.8,1075.6 163.8,1075.8 168.8,1075.0 173.8,1074.5 178.8,1073.8 183.8,1073.2 188.8,1072.6 193.8,1072.7 198.8,1072.0 203.8,1071.6 208.8,1071.0 213.8,1070.4 218.8,1069.1 223.8,1068.2 228.8,1068.0 233.8,1066.9 238.8,1066.6 243.8,1065.5 248.8,1064.7 253.8,1063.9 258.8,1063.9 263.8,1062.6 268.8,1061.5 273.8,1061.4 278.8,1060.4 283.8,1059.9 288.8,1059.1 293.8,1058.3 298.8,1057.4 303.8,1057.0 308.8,1056.4 313.8,1055.3 318.8,1054.4 323.8,1053.9 328.8,1053.2 333.8,1052.3 338.8,1051.6 343.8,1050.8 348.8,1050.0 353.8,1048.9 358.8,1048.3 363.8,1047.7 368.8,1047.4 373.8,1045.9 378.8,1045.4 383.8,1044.6 388.8,1044.3 393.8,1043.6 398.8,1042.6 403.8,1041.9 408.8,1041.6 413.8,1040.4 418.8,1039.6 423.8,1038.7 428.8,1038.1 433.8,1037.4 438.8,1036.5 443.8,1035.8 448.8,1034.9 453.8,1034.1 458.8,1033.2 463.8,1031.8 468.8,1030.9 473.8,1029.8 478.8,1028.9 483.8,1027.6 488.8,1026.6 493.8,1025.6 498.8,1024.5 503.8,1023.3 508.8,1022.6 513.8,1021.6 518.8,1020.2 523.8,1019.6 528.8,1018.0 533.8,1017.6 538.8,1016.7 543.8,1015.2 548.8,1013.9 553.8,1013.6 558.8,1012.0 563.8,1011.1 568.8,1010.1 573.8,1008.3 578.8,1007.9 583.8,1006.8 588.8,1005.6 593.8,1004.7 598.8,1003.7 603.8,1002.5 608.8,1002.1 613.8,1000.9 618.8,999.8" stroke="#8000FF" stroke-width="11.85"/><polyline points="88.8,1082.9 93.8,1082.0 98.8,1082.0 103.8,1080.9 108.8,1080.7 113.8,1080.0 118.8,1080.0 123.8,1079.0 128.8,1079.0 133.8,1078.2 138.8,1078.6 143.8,1077.5 148.8,1077.1 153.8,1076.3 158.8,1075.6 163.8,1075.8 168.8,1075.0 173.8,1074.5 178.8,1073.8 183.8,1073.2 188.8,1072.6 193.8,1072.7 198.8,1072.0 203.8,1071.6 208.8,1071.0 213.8,1070.4 218.8,1069.1 223.8,1068.2 228.8,1068.0 233.8,1066.9 238.8,1066.6 243.8,1065.5 248.8,1064.7 253.8,1063.9 258.8,1063.9 263.8,1062.6 268.8,1061.5 273.8,1061.4 278.8,1060.4 283.8,1059.9 288.8,1059.1 293.8,1058.3 298.8,1057.4 303.8,1057.0 308.8,1056.4 313.8,1055.3 318.8,1054.4 323.8,1053.9 328.8,1053.2 333.8,1052.3 338.8,1051.6 343.8,1050.8 348.8,1050.0 353.8,1048.9 358.8,1048.3 363.8,1047.7 368.8,1047.4 373.8,1045.9 378.8,1045.4 383.8,1044.6 388.8,1044.3 393.8,1043.6 398.8,1042.6 403.8,1041.9 408.8,1041.6 413.8,1040.4 418.8,1039.6 423.8,1038.7 428.8,1038.1 433.8,1037.4 438.8,1036.5 443.8,1035.8 448.8,1034.9 453.8,1034.1 458.8,1033.2 463.8,1031.8 468.8,1030.9 473.8,1029.8 478.8,1028.9 483.8,1027.6 488.8,1026.6 493.8,1025.6 498.8,1024.5 503.8,1023.3 508.8,1022.6 513.8,1021.6 518.8,1020.2 523.8,1019.6 528.8,1018.0 533.8,1017.6 538.8,1016.7 543.8,1015.2 548.8,1013.9 553.8,1013.6 558.8,1012.0 563.8,1011.1 568.8,1010.1 573.8,1008.3 578.8,1007.9 583.8,1006.8 588.8,1005.6 593.8,1004.7 598.8,1003.7 603.8,1002.5 608.8,1002.1 613.8,1000.9 618.8,999.8" stroke="#fff" stroke-opacity="0.7" stroke-width="4.74" stroke-dasharray="0.9 2.4"/><polyline points="88.8,1083.2 93.8,1082.3 98.8,1081.7 103.8,1081.2 108.8,1081.4 113.8,1080.2 118.8,1079.4 123.8,1078.8 128.8,1078.3 133.8,1077.9 138.8,1077.4 143.8,1077.5 148.8,1076.3 153.8,1075.7 158.8,1076.0 163.8,1074.5 168.8,1074.2 173.8,1073.4 178.8,1073.2 183.8,1072.7 188.8,1071.9 193.8,1071.4 198.8,1070.6 203.8,1070.1 208.8,1069.4 213.8,1069.1 218.8,1068.4 223.8,1067.3 228.8,1066.7 233.8,1065.8 238.8,1065.3 243.8,1064.3 248.8,1063.5 253.8,1062.6 258.8,1061.7 263.8,1060.9 268.8,1060.4 273.8,1059.3 278.8,1058.8 283.8,1057.6 288.8,1056.8 293.8,1056.3 298.8,1055.2 303.8,1054.9 308.8,1053.2 313.8,1052.7 318.8,1051.8 323.8,1051.3 328.8,1050.3 333.8,1049.2 338.8,1048.8 343.8,1047.4 348.8,1047.0 353.8,1046.1 358.8,1045.5 363.8,1044.3 368.8,1044.0 373.8,1042.9 378.8,1041.2 383.8,1040.7 388.8,1039.9 393.8,1039.4 398.8,1038.5 403.8,1037.7 408.8,1036.8 413.8,1036.0 418.8,1035.3 423.8,1034.1 428.8,1033.5 433.8,1032.5 438.8,1031.4 443.8,1030.6 448.8,1030.4 453.8,1029.0 458.8,1027.9 463.8,1027.1 468.8,1025.4 473.8,1024.7 478.8,1023.6 483.8,1022.6 488.8,1021.7 493.8,1020.2 498.8,1018.8 503.8,1017.4 508.8,1016.8 513.8,1015.3 518.8,1014.5 523.8,1013.3 528.8,1012.5 533.8,1011.2 538.8,1010.1 543.8,1009.0 548.8,1008.0 553.8,1006.8 558.8,1006.1 563.8,1004.5 568.8,1003.4 573.8,1002.6 578.8,1001.2 583.8,1000.1 588.8,998.9 593.8,997.8 598.8,996.5 603.8,995.7 608.8,994.8 613.8,993.5 618.8,992.5" stroke="#FF0080" stroke-width="11.82"/><polyline points="88.8,1083.2 93.8,1082.3 98.8,1081.7 103.8,1081.2 108.8,1081.4 113.8,1080.2 118.8,1079.4 123.8,1078.8 128.8,1078.3 133.8,1077.9 138.8,1077.4 143.8,1077.5 148.8,1076.3 153.8,1075.7 158.8,1076.0 163.8,1074.5 168.8,1074.2 173.8,1073.4 178.8,1073.2 183.8,1072.7 188.8,1071.9 193.8,1071.4 198.8,1070.6 203.8,1070.1 208.8,1069.4 213.8,1069.1 218.8,1068.4 223.8,1067.3 228.8,1066.7 233.8,1065.8 238.8,1065.3 243.8,1064.3 248.8,1063.5 253.8,1062.6 258.8,1061.7 263.8,1060.9 268.8,1060.4 273.8,1059.3 278.8,1058.8 283.8,1057.6 288.8,1056.8 293.8,1056.3 298.8,1055.2 303.8,1054.9 308.8,1053.2 313.8,1052.7 318.8,1051.8 323.8,1051.3 328.8,1050.3 333.8,1049.2 338.8,1048.8 343.8,1047.4 348.8,1047.0 353.8,1046.1 358.8,1045.5 363.8,1044.3 368.8,1044.0 373.8,1042.9 378.8,1041.2 383.8,1040.7 388.8,1039.9 393.8,1039.4 398.8,1038.5 403.8,1037.7 408.8,1036.8 413.8,1036.0 418.8,1035.3 423.8,1034.1 428.8,1033.5 433.8,1032.5 438.8,1031.4 443.8,1030.6 448.8,1030.4 453.8,1029.0 458.8,1027.9 463.8,1027.1 468.8,1025.4 473.8,1024.7 478.8,1023.6 483.8,1022.6 488.8,1021.7 493.8,1020.2 498.8,1018.8 503.8,1017.4 508.8,1016.8 513.8,1015.3 518.8,1014.5 523.8,1013.3 528.8,1012.5 533.8,1011.2 538.8,1010.1 543.8,1009.0 548.8,1008.0 553.8,1006.8 558.8,1006.1 563.8,1004.5 568.8,1003.4 573.8,1002.6 578.8,1001.2 583.8,1000.1 588.8,998.9 593.8,997.8 598.8,996.5 603.8,995.7 608.8,994.8 613.8,993.5 618.8,992.5" stroke="#fff" stroke-opacity="0.7" stroke-width="4.73" stroke-dasharray="0.9 2.4"/><polyline points="88.8,1082.8 93.8,1082.6 98.8,1081.8 103.8,1081.5 108.8,1081.4 113.8,1080.3 118.8,1079.5 123.8,1079.2 128.8,1078.5 133.8,1077.4 138.8,1077.1 143.8,1076.4 148.8,1076.5 153.8,1075.4 158.8,1074.7 163.8,1074.0 168.8,1073.9 173.8,1073.1 178.8,1072.8 183.8,1071.7 188.8,1071.3 193.8,1070.2 198.8,1070.4 203.8,1069.3 208.8,1068.1 213.8,1067.5 218.8,1066.6 223.8,1065.9 228.8,1064.9 233.8,1064.3 238.8,1063.2 243.8,1062.6 248.8,1061.6 253.8,1060.2 258.8,1059.8 263.8,1058.8 268.8,1057.7 273.8,1057.1 278.8,1055.9 283.8,1055.3 288.8,1054.6 293.8,1053.7 298.8,1052.6 303.8,1051.7 308.8,1051.2 313.8,1049.7 318.8,1048.9 323.8,1048.6 328.8,1047.2 333.8,1046.5 338.8,1045.3 343.8,1044.5 348.8,1043.5 353.8,1042.6 358.8,1042.1 363.8,1040.9 368.8,1040.0 373.8,1039.0 378.8,1038.2 383.8,1037.4 388.8,1035.9 393.8,1035.3 398.8,1034.4 403.8,1033.5 408.8,1032.9 413.8,1031.9 418.8,1030.4 423.8,1029.6 428.8,1029.6 433.8,1028.0 438.8,1026.6 443.8,1026.5 448.8,1025.5 453.8,1024.5 458.8,1023.0 463.8,1021.7 468.8,1020.6 473.8,1019.5 478.8,1017.9 483.8,1017.2 488.8,1016.1 493.8,1014.1 498.8,1013.4 503.8,1012.3 508.8,1010.8 513.8,1009.7 518.8,1008.8 523.8,1007.8 528.8,1006.6 533.8,1004.9 538.8,1004.2 543.8,1002.8 548.8,1001.8 553.8,999.9 558.8,998.7 563.8,997.6 568.8,996.7 573.8,995.2 578.8,994.1 583.8,993.2 588.8,991.5 593.8,991.0 598.8,989.7 603.8,987.9 608.8,987.0 613.8,986.1 618.8,985.0" stroke="#808080" stroke-width="11.79"/><polyline points="88.8,1082.8 93.8,1082.6 98.8,1081.8 103.8,1081.5 108.8,1081.4 113.8,1080.3 118.8,1079.5 123.8,1079.2 128.8,1078.5 133.8,1077.4 138.8,1077.1 143.8,1076.4 148.8,1076.5 153.8,1075.4 158.8,1074.7 163.8,1074.0 168.8,1073.9 173.8,1073.1 178.8,1072.8 183.8,1071.7 188.8,1071.3 193.8,1070.2 198.8,1070.4 203.8,1069.3 208.8,1068.1 213.8,1067.5 218.8,1066.6 223.8,1065.9 228.8,1064.9 233.8,1064.3 238.8,1063.2 243.8,1062.6 248.8,1061.6 253.8,1060.2 258.8,1059.8 263.8,1058.8 268.8,1057.7 273.8,1057.1 278.8,1055.9 283.8,1055.3 288.8,1054.6 293.8,1053.7 298.8,1052.6 303.8,1051.7 308.8,1051.2 313.8,1049.7 318.8,1048.9 323.8,1048.6 328.8,1047.2 333.8,1046.5 338.8,1045.3 343.8,1044.5 348.8,1043.5 353.8,1042.6 358.8,1042.1 363.8,1040.9 368.8,1040.0 373.8,1039.0 378.8,1038.2 383.8,1037.4 388.8,1035.9 393.8,1035.3 398.8,1034.4 403.8,1033.5 408.8,1032.9 413.8,1031.9 418.8,1030.4 423.8,1029.6 428.8,1029.6 433.8,1028.0 438.8,1026.6 443.8,1026.5 448.8,1025.5 453.8,1024.5 458.8,1023.0 463.8,1021.7 468.8,1020.6 473.8,1019.5 478.8,1017.9 483.8,1017.2 488.8,1016.1 493.8,1014.1 498.8,1013.4 503.8,1012.3 508.8,1010.8 513.8,1009.7 518.8,1008.8 523.8,1007.8 528.8,1006.6 533.8,1004.9 538.8,1004.2 543.8,1002.8 548.8,1001.8 553.8,999.9 558.8,998.7 563.8,997.6 568.8,996.7 573.8,995.2 578.8,994.1 583.8,993.2 588.8,991.5 593.8,991.0 598.8,989.7 603.8,987.9 608.8,987.0 613.8,986.1 618.8,985.0" stroke="#fff" stroke-opacity="0.55" stroke-width="4.72" stroke-dasharray="0.8 2.6"/><polyline points="88.8,1083.6 93.8,1082.7 98.8,1081.8 103.8,1081.5 108.8,1081.1 113.8,1080.1 118.8,1080.0 123.8,1079.1 128.8,1078.2 133.8,1077.9 138.8,1076.9 143.8,1076.7 148.8,1075.6 153.8,1075.2 158.8,1074.2 163.8,1073.6 168.8,1072.6 173.8,1072.8 178.8,1071.8 183.8,1071.1 188.8,1070.2 193.8,1070.3 198.8,1069.5 203.8,1068.7 208.8,1067.6 213.8,1066.3 218.8,1065.7 223.8,1064.6 228.8,1063.4 233.8,1062.8 238.8,1061.8 243.8,1060.6 248.8,1059.9 253.8,1058.5 258.8,1057.8 263.8,1057.3 268.8,1056.1 273.8,1054.7 278.8,1053.6 283.8,1053.2 288.8,1051.8 293.8,1051.7 298.8,1050.2 303.8,1049.4 308.8,1048.8 313.8,1047.2 318.8,1046.1 323.8,1045.2 328.8,1044.1 333.8,1043.7 338.8,1042.5 343.8,1041.4 348.8,1040.3 353.8,1038.8 358.8,1038.7 363.8,1037.5 368.8,1036.3 373.8,1035.5 378.8,1034.2 383.8,1033.8 388.8,1032.2 393.8,1031.6 398.8,1030.2 403.8,1029.5 408.8,1028.6 413.8,1027.1 418.8,1026.6 423.8,1025.6 428.8,1023.9 433.8,1023.7 438.8,1022.5 443.8,1021.2 448.8,1020.5 453.8,1019.3 458.8,1018.2 463.8,1016.6 468.8,1015.4 473.8,1014.1 478.8,1012.7 483.8,1011.6 488.8,1010.7 493.8,1008.8 498.8,1007.3 503.8,1006.3 508.8,1005.2 513.8,1003.7 518.8,1003.3 523.8,1001.7 528.8,1000.0 533.8,998.8 538.8,997.3 543.8,996.3 548.8,995.2 553.8,993.7 558.8,992.5 563.8,991.4 568.8,990.1 573.8,988.3 578.8,987.6 583.8,985.8 588.8,984.7 593.8,983.3 598.8,982.4 603.8,981.2 608.8,980.0 613.8,978.4 618.8,977.2" stroke="#0000FF" stroke-width="11.76"/><polyline points="88.8,1084.5 93.8,1084.2 98.8,1082.9 103.8,1082.2 108.8,1081.1 113.8,1080.2 118.8,1079.4 123.8,1079.2 128.8,1077.7 133.8,1077.5 138.8,1076.1 143.8,1075.4 148.8,1074.6 153.8,1073.7 158.8,1073.0 163.8,1071.9 168.8,1071.0 173.8,1070.5 178.8,1069.5 183.8,1068.5 188.8,1067.9 193.8,1067.0 198.8,1065.9 203.8,1065.4 208.8,1064.5 213.8,1063.8 218.8,1062.1 223.8,1061.4 228.8,1060.7 233.8,1059.5 238.8,1058.9 243.8,1057.6 248.8,1056.9 253.8,1055.7 258.8,1054.9 263.8,1053.9 268.8,1053.1 273.8,1051.9 278.8,1051.0 283.8,1050.2 288.8,1048.9 293.8,1048.1 298.8,1047.1 303.8,1045.9 308.8,1044.9 313.8,1043.3 318.8,1043.5 323.8,1042.0 328.8,1041.0 333.8,1039.8 338.8,1038.7 343.8,1037.8 348.8,1036.8 353.8,1035.6 358.8,1034.4 363.8,1033.5 368.8,1032.6 373.8,1030.7 378.8,1030.0 383.8,1029.1 388.8,1027.5 393.8,1027.0 398.8,1025.9 403.8,1024.9 408.8,1023.9 413.8,1022.9 418.8,1021.6 423.8,1020.5 428.8,1019.1 433.8,1018.5 438.8,1017.3 443.8,1016.2 448.8,1015.4 453.8,1014.0 458.8,1013.1 463.8,1011.2 468.8,1009.7 473.8,1008.8 478.8,1007.5 483.8,1005.7 488.8,1004.0 493.8,1003.1 498.8,1001.3 503.8,1000.2 508.8,998.8 513.8,996.9 518.8,995.8 523.8,994.7 528.8,993.4 533.8,991.7 538.8,990.5 543.8,989.2 548.8,987.8 553.8,986.4 558.8,985.1 563.8,983.8 568.8,982.4 573.8,980.8 578.8,979.2 583.8,978.1 588.8,976.8 593.8,975.7 598.8,974.4 603.8,972.5 608.8,971.2 613.8,970.2 618.8,968.4" stroke="#000000" stroke-width="11.72"/><polyline points="88.8,1084.5 93.8,1084.2 98.8,1082.9 103.8,1082.2 108.8,1081.1 113.8,1080.2 118.8,1079.4 123.8,1079.2 128.8,1077.7 133.8,1077.5 138.8,1076.1 143.8,1075.4 148.8,1074.6 153.8,1073.7 158.8,1073.0 163.8,1071.9 168.8,1071.0 173.8,1070.5 178.8,1069.5 183.8,1068.5 188.8,1067.9 193.8,1067.0 198.8,1065.9 203.8,1065.4 208.8,1064.5 213.8,1063.8 218.8,1062.1 223.8,1061.4 228.8,1060.7 233.8,1059.5 238.8,1058.9 243.8,1057.6 248.8,1056.9 253.8,1055.7 258.8,1054.9 263.8,1053.9 268.8,1053.1 273.8,1051.9 278.8,1051.0 283.8,1050.2 288.8,1048.9 293.8,1048.1 298.8,1047.1 303.8,1045.9 308.8,1044.9 313.8,1043.3 318.8,1043.5 323.8,1042.0 328.8,1041.0 333.8,1039.8 338.8,1038.7 343.8,1037.8 348.8,1036.8 353.8,1035.6 358.8,1034.4 363.8,1033.5 368.8,1032.6 373.8,1030.7 378.8,1030.0 383.8,1029.1 388.8,1027.5 393.8,1027.0 398.8,1025.9 403.8,1024.9 408.8,1023.9 413.8,1022.9 418.8,1021.6 423.8,1020.5 428.8,1019.1 433.8,1018.5 438.8,1017.3 443.8,1016.2 448.8,1015.4 453.8,1014.0 458.8,1013.1 463.8,1011.2 468.8,1009.7 473.8,1008.8 478.8,1007.5 483.8,1005.7 488.8,1004.0 493.8,1003.1 498.8,1001.3 503.8,1000.2 508.8,998.8 513.8,996.9 518.8,995.8 523.8,994.7 528.8,993.4 533.8,991.7 538.8,990.5 543.8,989.2 548.8,987.8 553.8,986.4 558.8,985.1 563.8,983.8 568.8,982.4 573.8,980.8 578.8,979.2 583.8,978.1 588.8,976.8 593.8,975.7 598.8,974.4 603.8,972.5 608.8,971.2 613.8,970.2 618.8,968.4" stroke="#fff" stroke-opacity="0.45" stroke-width="4.69" stroke-dasharray="0.9 2.4"/><polyline points="88.8,1085.6 93.8,1084.3 98.8,1083.6 103.8,1082.6 108.8,1081.4 113.8,1080.5 118.8,1079.0 123.8,1078.5 128.8,1077.3 133.8,1076.6 138.8,1075.5 143.8,1074.5 148.8,1073.3 153.8,1072.0 158.8,1071.4 163.8,1070.6 168.8,1069.3 173.8,1068.3 178.8,1067.5 183.8,1066.8 188.8,1065.6 193.8,1064.2 198.8,1063.6 203.8,1062.1 208.8,1061.4 213.8,1060.1 218.8,1058.9 223.8,1058.0 228.8,1057.0 233.8,1055.9 238.8,1054.8 243.8,1053.7 248.8,1052.3 253.8,1051.7 258.8,1050.8 263.8,1049.5 268.8,1048.7 273.8,1047.2 278.8,1046.5 283.8,1045.2 288.8,1044.6 293.8,1043.4 298.8,1042.2 303.8,1040.9 308.8,1039.8 313.8,1039.2 318.8,1037.3 323.8,1036.3 328.8,1035.0 333.8,1034.0 338.8,1033.0 343.8,1031.7 348.8,1030.7 353.8,1029.5 358.8,1027.9 363.8,1026.7 368.8,1025.8 373.8,1024.7 378.8,1023.5 383.8,1022.4 388.8,1021.1 393.8,1020.5 398.8,1018.7 403.8,1018.1 408.8,1016.9 413.8,1015.7 418.8,1014.2 423.8,1012.8 428.8,1011.8 433.8,1010.9 438.8,1009.7 443.8,1008.3 448.8,1007.2 453.8,1005.7 458.8,1004.4 463.8,1003.2 468.8,1002.0 473.8,1000.5 478.8,998.9 483.8,997.0 488.8,996.2 493.8,994.7 498.8,993.4 503.8,991.4 508.8,990.4 513.8,988.8 518.8,987.2 523.8,985.7 528.8,984.4 533.8,983.7 538.8,982.0 543.8,980.4 548.8,979.1 553.8,977.4 558.8,975.7 563.8,974.5 568.8,972.7 573.8,971.6 578.8,970.4 583.8,968.9 588.8,967.3 593.8,965.9 598.8,964.6 603.8,963.5 608.8,962.1 613.8,960.3 618.8,959.0" stroke="#FF8000" stroke-width="11.67"/><polyline points="88.8,1085.6 93.8,1084.3 98.8,1083.6 103.8,1082.6 108.8,1081.4 113.8,1080.5 118.8,1079.0 123.8,1078.5 128.8,1077.3 133.8,1076.6 138.8,1075.5 143.8,1074.5 148.8,1073.3 153.8,1072.0 158.8,1071.4 163.8,1070.6 168.8,1069.3 173.8,1068.3 178.8,1067.5 183.8,1066.8 188.8,1065.6 193.8,1064.2 198.8,1063.6 203.8,1062.1 208.8,1061.4 213.8,1060.1 218.8,1058.9 223.8,1058.0 228.8,1057.0 233.8,1055.9 238.8,1054.8 243.8,1053.7 248.8,1052.3 253.8,1051.7 258.8,1050.8 263.8,1049.5 268.8,1048.7 273.8,1047.2 278.8,1046.5 283.8,1045.2 288.8,1044.6 293.8,1043.4 298.8,1042.2 303.8,1040.9 308.8,1039.8 313.8,1039.2 318.8,1037.3 323.8,1036.3 328.8,1035.0 333.8,1034.0 338.8,1033.0 343.8,1031.7 348.8,1030.7 353.8,1029.5 358.8,1027.9 363.8,1026.7 368.8,1025.8 373.8,1024.7 378.8,1023.5 383.8,1022.4 388.8,1021.1 393.8,1020.5 398.8,1018.7 403.8,1018.1 408.8,1016.9 413.8,1015.7 418.8,1014.2 423.8,1012.8 428.8,1011.8 433.8,1010.9 438.8,1009.7 443.8,1008.3 448.8,1007.2 453.8,1005.7 458.8,1004.4 463.8,1003.2 468.8,1002.0 473.8,1000.5 478.8,998.9 483.8,997.0 488.8,996.2 493.8,994.7 498.8,993.4 503.8,991.4 508.8,990.4 513.8,988.8 518.8,987.2 523.8,985.7 528.8,984.4 533.8,983.7 538.8,982.0 543.8,980.4 548.8,979.1 553.8,977.4 558.8,975.7 563.8,974.5 568.8,972.7 573.8,971.6 578.8,970.4 583.8,968.9 588.8,967.3 593.8,965.9 598.8,964.6 603.8,963.5 608.8,962.1 613.8,960.3 618.8,959.0" stroke="#fff" stroke-opacity="0.55" stroke-width="4.67" stroke-dasharray="0.8 2.6"/><polyline points="88.8,1086.6 93.8,1085.7 98.8,1084.1 103.8,1082.9 108.8,1081.5 113.8,1080.2 118.8,1079.1 123.8,1078.1 128.8,1077.0 133.8,1076.0 138.8,1074.3 143.8,1073.1 148.8,1072.1 153.8,1071.1 158.8,1070.0 163.8,1068.4 168.8,1067.2 173.8,1066.4 178.8,1064.8 183.8,1063.9 188.8,1062.7 193.8,1061.3 198.8,1060.3 203.8,1059.1 208.8,1058.7 213.8,1056.8 218.8,1055.8 223.8,1054.4 228.8,1053.0 233.8,1051.9 238.8,1050.5 243.8,1049.6 248.8,1048.1 253.8,1046.8 258.8,1045.8 263.8,1045.3 268.8,1043.6 273.8,1042.7 278.8,1040.5 283.8,1040.3 288.8,1038.7 293.8,1037.3 298.8,1036.4 303.8,1034.8 308.8,1033.3 313.8,1032.1 318.8,1031.6 323.8,1029.7 328.8,1028.2 333.8,1026.8 338.8,1025.5 343.8,1024.3 348.8,1023.1 353.8,1021.2 358.8,1020.2 363.8,1018.8 368.8,1017.5 373.8,1016.3 378.8,1015.0 383.8,1013.2 388.8,1012.2 393.8,1010.5 398.8,1009.7 403.8,1008.5 408.8,1006.9 413.8,1005.1 418.8,1003.9 423.8,1002.2 428.8,1001.1 433.8,999.6 438.8,999.0 443.8,996.8 448.8,996.4 453.8,994.3 458.8,992.9 463.8,990.7 468.8,989.1 473.8,987.7 478.8,986.0 483.8,984.6 488.8,983.1 493.8,981.1 498.8,979.9 503.8,978.3 508.8,976.3 513.8,975.1 518.8,973.1 523.8,971.5 528.8,969.9 533.8,968.4 538.8,966.5 543.8,965.0 548.8,963.7 553.8,961.7 558.8,959.8 563.8,958.7 568.8,957.1 573.8,955.4 578.8,953.8 583.8,952.2 588.8,950.3 593.8,948.7 598.8,947.2 603.8,945.7 608.8,944.6 613.8,942.1 618.8,940.8" stroke="#800080" stroke-width="11.57"/><polyline points="88.8,1086.6 93.8,1085.7 98.8,1084.1 103.8,1082.9 108.8,1081.5 113.8,1080.2 118.8,1079.1 123.8,1078.1 128.8,1077.0 133.8,1076.0 138.8,1074.3 143.8,1073.1 148.8,1072.1 153.8,1071.1 158.8,1070.0 163.8,1068.4 168.8,1067.2 173.8,1066.4 178.8,1064.8 183.8,1063.9 188.8,1062.7 193.8,1061.3 198.8,1060.3 203.8,1059.1 208.8,1058.7 213.8,1056.8 218.8,1055.8 223.8,1054.4 228.8,1053.0 233.8,1051.9 238.8,1050.5 243.8,1049.6 248.8,1048.1 253.8,1046.8 258.8,1045.8 263.8,1045.3 268.8,1043.6 273.8,1042.7 278.8,1040.5 283.8,1040.3 288.8,1038.7 293.8,1037.3 298.8,1036.4 303.8,1034.8 308.8,1033.3 313.8,1032.1 318.8,1031.6 323.8,1029.7 328.8,1028.2 333.8,1026.8 338.8,1025.5 343.8,1024.3 348.8,1023.1 353.8,1021.2 358.8,1020.2 363.8,1018.8 368.8,1017.5 373.8,1016.3 378.8,1015.0 383.8,1013.2 388.8,1012.2 393.8,1010.5 398.8,1009.7 403.8,1008.5 408.8,1006.9 413.8,1005.1 418.8,1003.9 423.8,1002.2 428.8,1001.1 433.8,999.6 438.8,999.0 443.8,996.8 448.8,996.4 453.8,994.3 458.8,992.9 463.8,990.7 468.8,989.1 473.8,987.7 478.8,986.0 483.8,984.6 488.8,983.1 493.8,981.1 498.8,979.9 503.8,978.3 508.8,976.3 513.8,975.1 518.8,973.1 523.8,971.5 528.8,969.9 533.8,968.4 538.8,966.5 543.8,965.0 548.8,963.7 553.8,961.7 558.8,959.8 563.8,958.7 568.8,957.1 573.8,955.4 578.8,953.8 583.8,952.2 588.8,950.3 593.8,948.7 598.8,947.2 603.8,945.7 608.8,944.6 613.8,942.1 618.8,940.8" stroke="#fff" stroke-opacity="0.7" stroke-width="4.63" stroke-dasharray="0.9 2.4"/><polyline points="88.8,1087.2 93.8,1086.1 98.8,1084.3 103.8,1083.1 108.8,1082.4 113.8,1080.8 118.8,1078.9 123.8,1077.7 128.8,1076.3 133.8,1075.0 138.8,1073.3 143.8,1072.3 148.8,1071.0 153.8,1069.6 158.8,1068.1 163.8,1066.9 168.8,1065.6 173.8,1064.2 178.8,1063.1 183.8,1061.2 188.8,1060.0 193.8,1059.1 198.8,1057.7 203.8,1056.0 208.8,1054.4 213.8,1052.7 218.8,1051.4 223.8,1050.0 228.8,1049.3 233.8,1047.5 238.8,1046.1 243.8,1044.7 248.8,1043.4 253.8,1042.5 258.8,1040.2 263.8,1039.0 268.8,1037.9 273.8,1036.5 278.8,1034.7 283.8,1033.3 288.8,1032.4 293.8,1030.9 298.8,1029.0 303.8,1028.0 308.8,1026.0 313.8,1024.3 318.8,1023.0 323.8,1021.6 328.8,1020.3 333.8,1018.3 338.8,1017.0 343.8,1015.5 348.8,1013.8 353.8,1011.8 358.8,1010.0 363.8,1008.6 368.8,1007.1 373.8,1005.9 378.8,1004.1 383.8,1002.6 388.8,1001.0 393.8,999.1 398.8,997.9 403.8,996.2 408.8,995.2 413.8,993.0 418.8,991.8 423.8,990.1 428.8,988.3 433.8,986.1 438.8,985.0 443.8,983.5 448.8,982.4 453.8,980.3 458.8,978.6 463.8,976.6 468.8,974.8 473.8,972.4 478.8,970.6 483.8,969.2 488.8,967.2 493.8,965.2 498.8,963.4 503.8,961.5 508.8,959.8 513.8,957.7 518.8,955.5 523.8,953.9 528.8,951.8 533.8,950.1 538.8,948.3 543.8,946.6 548.8,944.1 553.8,942.6 558.8,940.6 563.8,938.7 568.8,936.9 573.8,934.6 578.8,932.8 583.8,931.4 588.8,929.8 593.8,927.2 598.8,925.9 603.8,923.9 608.8,922.0 613.8,919.8 618.8,918.2" stroke="#FF80FF" stroke-width="11.90"/><polyline points="88.8,1087.2 93.8,1086.1 98.8,1084.3 103.8,1083.1 108.8,1082.4 113.8,1080.8 118.8,1078.9 123.8,1077.7 128.8,1076.3 133.8,1075.0 138.8,1073.3 143.8,1072.3 148.8,1071.0 153.8,1069.6 158.8,1068.1 163.8,1066.9 168.8,1065.6 173.8,1064.2 178.8,1063.1 183.8,1061.2 188.8,1060.0 193.8,1059.1 198.8,1057.7 203.8,1056.0 208.8,1054.4 213.8,1052.7 218.8,1051.4 223.8,1050.0 228.8,1049.3 233.8,1047.5 238.8,1046.1 243.8,1044.7 248.8,1043.4 253.8,1042.5 258.8,1040.2 263.8,1039.0 268.8,1037.9 273.8,1036.5 278.8,1034.7 283.8,1033.3 288.8,1032.4 293.8,1030.9 298.8,1029.0 303.8,1028.0 308.8,1026.0 313.8,1024.3 318.8,1023.0 323.8,1021.6 328.8,1020.3 333.8,1018.3 338.8,1017.0 343.8,1015.5 348.8,1013.8 353.8,1011.8 358.8,1010.0 363.8,1008.6 368.8,1007.1 373.8,1005.9 378.8,1004.1 383.8,1002.6 388.8,1001.0 393.8,999.1 398.8,997.9 403.8,996.2 408.8,995.2 413.8,993.0 418.8,991.8 423.8,990.1 428.8,988.3 433.8,986.1 438.8,985.0 443.8,983.5 448.8,982.4 453.8,980.3 458.8,978.6 463.8,976.6 468.8,974.8 473.8,972.4 478.8,970.6 483.8,969.2 488.8,967.2 493.8,965.2 498.8,963.4 503.8,961.5 508.8,959.8 513.8,957.7 518.8,955.5 523.8,953.9 528.8,951.8 533.8,950.1 538.8,948.3 543.8,946.6 548.8,944.1 553.8,942.6 558.8,940.6 563.8,938.7 568.8,936.9 573.8,934.6 578.8,932.8 583.8,931.4 588.8,929.8 593.8,927.2 598.8,925.9 603.8,923.9 608.8,922.0 613.8,919.8 618.8,918.2" stroke="#fff" stroke-opacity="0.55" stroke-width="4.76" stroke-dasharray="0.9 2.4"/><polyline points="88.8,1090.5 93.8,1087.9 98.8,1085.9 103.8,1084.3 108.8,1082.5 113.8,1080.8 118.8,1078.9 123.8,1077.2 128.8,1075.3 133.8,1073.5 138.8,1071.7 143.8,1070.0 148.8,1067.7 153.8,1066.4 158.8,1064.4 163.8,1062.4 168.8,1061.1 173.8,1058.9 178.8,1057.1 183.8,1055.5 188.8,1053.6 193.8,1051.2 198.8,1049.8 203.8,1047.9 208.8,1046.4 213.8,1044.7 218.8,1042.3 223.8,1041.1 228.8,1039.4 233.8,1037.4 238.8,1035.1 243.8,1033.3 248.8,1032.1 253.8,1030.3 258.8,1028.2 263.8,1026.4 268.8,1024.5 273.8,1022.9 278.8,1021.4 283.8,1019.2 288.8,1017.4 293.8,1015.5 298.8,1014.1 303.8,1011.9 308.8,1009.9 313.8,1007.7 318.8,1006.0 323.8,1003.6 328.8,1002.2 333.8,999.4 338.8,997.5 343.8,995.6 348.8,993.8 353.8,992.3 358.8,989.2 363.8,988.0 368.8,985.6 373.8,984.0 378.8,981.4 383.8,979.6 388.8,977.5 393.8,975.7 398.8,974.0 403.8,971.5 408.8,969.3 413.8,967.5 418.8,965.5 423.8,963.7 428.8,961.2 433.8,959.5 438.8,957.2 443.8,955.3 448.8,953.7 453.8,950.6 458.8,948.9 463.8,946.9 468.8,944.2 473.8,941.9 478.8,939.7 483.8,937.5 488.8,935.1 493.8,933.4 498.8,930.5 503.8,928.4 508.8,926.0 513.8,924.1 518.8,921.9 523.8,919.1 528.8,917.3 533.8,914.7 538.8,912.6 543.8,910.0 548.8,907.5 553.8,905.5 558.8,903.3 563.8,900.7 568.8,898.8 573.8,896.9 578.8,894.2 583.8,891.6 588.8,889.6 593.8,887.3 598.8,885.0 603.8,882.5 608.8,880.0 613.8,878.2 618.8,876.4" stroke="#000080" stroke-width="10.66"/><polyline points="88.8,1090.5 93.8,1087.9 98.8,1085.9 103.8,1084.3 108.8,1082.5 113.8,1080.8 118.8,1078.9 123.8,1077.2 128.8,1075.3 133.8,1073.5 138.8,1071.7 143.8,1070.0 148.8,1067.7 153.8,1066.4 158.8,1064.4 163.8,1062.4 168.8,1061.1 173.8,1058.9 178.8,1057.1 183.8,1055.5 188.8,1053.6 193.8,1051.2 198.8,1049.8 203.8,1047.9 208.8,1046.4 213.8,1044.7 218.8,1042.3 223.8,1041.1 228.8,1039.4 233.8,1037.4 238.8,1035.1 243.8,1033.3 248.8,1032.1 253.8,1030.3 258.8,1028.2 263.8,1026.4 268.8,1024.5 273.8,1022.9 278.8,1021.4 283.8,1019.2 288.8,1017.4 293.8,1015.5 298.8,1014.1 303.8,1011.9 308.8,1009.9 313.8,1007.7 318.8,1006.0 323.8,1003.6 328.8,1002.2 333.8,999.4 338.8,997.5 343.8,995.6 348.8,993.8 353.8,992.3 358.8,989.2 363.8,988.0 368.8,985.6 373.8,984.0 378.8,981.4 383.8,979.6 388.8,977.5 393.8,975.7 398.8,974.0 403.8,971.5 408.8,969.3 413.8,967.5 418.8,965.5 423.8,963.7 428.8,961.2 433.8,959.5 438.8,957.2 443.8,955.3 448.8,953.7 453.8,950.6 458.8,948.9 463.8,946.9 468.8,944.2 473.8,941.9 478.8,939.7 483.8,937.5 488.8,935.1 493.8,933.4 498.8,930.5 503.8,928.4 508.8,926.0 513.8,924.1 518.8,921.9 523.8,919.1 528.8,917.3 533.8,914.7 538.8,912.6 543.8,910.0 548.8,907.5 553.8,905.5 558.8,903.3 563.8,900.7 568.8,898.8 573.8,896.9 578.8,894.2 583.8,891.6 588.8,889.6 593.8,887.3 598.8,885.0 603.8,882.5 608.8,880.0 613.8,878.2 618.8,876.4" stroke="#fff" stroke-opacity="0.7" stroke-width="4.26" stroke-dasharray="0.9 2.4"/><polyline points="88.8,1092.5 93.8,1090.2 98.8,1088.1 103.8,1085.8 108.8,1083.2 113.8,1080.7 118.8,1078.9 123.8,1076.2 128.8,1074.3 133.8,1072.0 138.8,1069.6 143.8,1067.3 148.8,1064.8 153.8,1062.5 158.8,1060.8 163.8,1058.2 168.8,1055.9 173.8,1053.8 178.8,1051.1 183.8,1049.1 188.8,1046.6 193.8,1044.2 198.8,1042.2 203.8,1039.7 208.8,1037.1 213.8,1034.9 218.8,1033.0 223.8,1030.4 228.8,1027.9 233.8,1025.3 238.8,1022.6 243.8,1021.0 248.8,1018.7 253.8,1016.1 258.8,1013.5 263.8,1011.7 268.8,1008.9 273.8,1007.1 278.8,1004.6 283.8,1002.1 288.8,999.3 293.8,997.6 298.8,995.1 303.8,992.6 308.8,990.5 313.8,987.5 318.8,985.1 323.8,982.7 328.8,980.6 333.8,978.0 338.8,975.3 343.8,972.7 348.8,971.0 353.8,968.0 358.8,965.8 363.8,962.8 368.8,961.1 373.8,958.4 378.8,955.4 383.8,953.2 388.8,951.2 393.8,948.8 398.8,945.9 403.8,943.8 408.8,941.4 413.8,938.2 418.8,936.4 423.8,933.9 428.8,932.0 433.8,928.9 438.8,926.2 443.8,924.2 448.8,921.8 453.8,919.0 458.8,916.6 463.8,914.0 468.8,911.2 473.8,908.7 478.8,905.9 483.8,903.3 488.8,900.6 493.8,898.3 498.8,895.4 503.8,892.5 508.8,889.8 513.8,887.5 518.8,885.1 523.8,882.8 528.8,879.6 533.8,876.7 538.8,874.3 543.8,871.4 548.8,869.1 553.8,866.4 558.8,863.9 563.8,861.2 568.8,858.4 573.8,855.2 578.8,853.2 583.8,850.7 588.8,848.0 593.8,845.3 598.8,842.4 603.8,840.4 608.8,837.6 613.8,834.4 618.8,832.1" stroke="#008080" stroke-width="10.77"/><polyline points="88.8,1092.5 93.8,1090.2 98.8,1088.1 103.8,1085.8 108.8,1083.2 113.8,1080.7 118.8,1078.9 123.8,1076.2 128.8,1074.3 133.8,1072.0 138.8,1069.6 143.8,1067.3 148.8,1064.8 153.8,1062.5 158.8,1060.8 163.8,1058.2 168.8,1055.9 173.8,1053.8 178.8,1051.1 183.8,1049.1 188.8,1046.6 193.8,1044.2 198.8,1042.2 203.8,1039.7 208.8,1037.1 213.8,1034.9 218.8,1033.0 223.8,1030.4 228.8,1027.9 233.8,1025.3 238.8,1022.6 243.8,1021.0 248.8,1018.7 253.8,1016.1 258.8,1013.5 263.8,1011.7 268.8,1008.9 273.8,1007.1 278.8,1004.6 283.8,1002.1 288.8,999.3 293.8,997.6 298.8,995.1 303.8,992.6 308.8,990.5 313.8,987.5 318.8,985.1 323.8,982.7 328.8,980.6 333.8,978.0 338.8,975.3 343.8,972.7 348.8,971.0 353.8,968.0 358.8,965.8 363.8,962.8 368.8,961.1 373.8,958.4 378.8,955.4 383.8,953.2 388.8,951.2 393.8,948.8 398.8,945.9 403.8,943.8 408.8,941.4 413.8,938.2 418.8,936.4 423.8,933.9 428.8,932.0 433.8,928.9 438.8,926.2 443.8,924.2 448.8,921.8 453.8,919.0 458.8,916.6 463.8,914.0 468.8,911.2 473.8,908.7 478.8,905.9 483.8,903.3 488.8,900.6 493.8,898.3 498.8,895.4 503.8,892.5 508.8,889.8 513.8,887.5 518.8,885.1 523.8,882.8 528.8,879.6 533.8,876.7 538.8,874.3 543.8,871.4 548.8,869.1 553.8,866.4 558.8,863.9 563.8,861.2 568.8,858.4 573.8,855.2 578.8,853.2 583.8,850.7 588.8,848.0 593.8,845.3 598.8,842.4 603.8,840.4 608.8,837.6 613.8,834.4 618.8,832.1" stroke="#fff" stroke-opacity="0.7" stroke-width="4.31" stroke-dasharray="0.9 2.4"/><polyline points="88.8,1093.9 93.8,1091.8 98.8,1089.1 103.8,1086.2 108.8,1084.1 113.8,1081.6 118.8,1078.7 123.8,1076.1 128.8,1073.0 133.8,1070.5 138.8,1067.9 143.8,1065.5 148.8,1063.0 153.8,1059.6 158.8,1057.5 163.8,1054.5 168.8,1052.1 173.8,1049.7 178.8,1046.5 183.8,1043.8 188.8,1041.8 193.8,1038.8 198.8,1036.3 203.8,1033.4 208.8,1030.7 213.8,1027.5 218.8,1025.1 223.8,1021.9 228.8,1019.0 233.8,1016.7 238.8,1014.0 243.8,1010.7 248.8,1008.0 253.8,1005.7 258.8,1002.7 263.8,999.8 268.8,996.9 273.8,994.4 278.8,991.4 283.8,988.5 288.8,985.5 293.8,982.7 298.8,980.0 303.8,977.5 308.8,974.6 313.8,971.4 318.8,968.5 323.8,965.5 328.8,962.6 333.8,960.2 338.8,957.1 343.8,953.5 348.8,951.2 353.8,948.3 358.8,945.7 363.8,942.6 368.8,939.7 373.8,936.5 378.8,933.7 383.8,930.8 388.8,927.7 393.8,924.8 398.8,922.3 403.8,919.1 408.8,916.5 413.8,913.3 418.8,910.4 423.8,907.8 428.8,904.7 433.8,901.9 438.8,899.1 443.8,896.0 448.8,893.4 453.8,890.5 458.8,887.3 463.8,884.7 468.8,880.9 473.8,878.1 478.8,875.3 483.8,872.1 488.8,869.5 493.8,866.3 498.8,863.6 503.8,859.8 508.8,856.9 513.8,854.4 518.8,851.1 523.8,847.9 528.8,845.6 533.8,842.3 538.8,839.4 543.8,836.3 548.8,833.1 553.8,829.4 558.8,827.3 563.8,824.5 568.8,820.9 573.8,817.7 578.8,814.7 583.8,811.9 588.8,809.1 593.8,806.2 598.8,803.0 603.8,800.1 608.8,796.8 613.8,794.1 618.8,791.3" stroke="#FF0000" stroke-width="10.84"/><polyline points="88.8,1093.9 93.8,1091.8 98.8,1089.1 103.8,1086.2 108.8,1084.1 113.8,1081.6 118.8,1078.7 123.8,1076.1 128.8,1073.0 133.8,1070.5 138.8,1067.9 143.8,1065.5 148.8,1063.0 153.8,1059.6 158.8,1057.5 163.8,1054.5 168.8,1052.1 173.8,1049.7 178.8,1046.5 183.8,1043.8 188.8,1041.8 193.8,1038.8 198.8,1036.3 203.8,1033.4 208.8,1030.7 213.8,1027.5 218.8,1025.1 223.8,1021.9 228.8,1019.0 233.8,1016.7 238.8,1014.0 243.8,1010.7 248.8,1008.0 253.8,1005.7 258.8,1002.7 263.8,999.8 268.8,996.9 273.8,994.4 278.8,991.4 283.8,988.5 288.8,985.5 293.8,982.7 298.8,980.0 303.8,977.5 308.8,974.6 313.8,971.4 318.8,968.5 323.8,965.5 328.8,962.6 333.8,960.2 338.8,957.1 343.8,953.5 348.8,951.2 353.8,948.3 358.8,945.7 363.8,942.6 368.8,939.7 373.8,936.5 378.8,933.7 383.8,930.8 388.8,927.7 393.8,924.8 398.8,922.3 403.8,919.1 408.8,916.5 413.8,913.3 418.8,910.4 423.8,907.8 428.8,904.7 433.8,901.9 438.8,899.1 443.8,896.0 448.8,893.4 453.8,890.5 458.8,887.3 463.8,884.7 468.8,880.9 473.8,878.1 478.8,875.3 483.8,872.1 488.8,869.5 493.8,866.3 498.8,863.6 503.8,859.8 508.8,856.9 513.8,854.4 518.8,851.1 523.8,847.9 528.8,845.6 533.8,842.3 538.8,839.4 543.8,836.3 548.8,833.1 553.8,829.4 558.8,827.3 563.8,824.5 568.8,820.9 573.8,817.7 578.8,814.7 583.8,811.9 588.8,809.1 593.8,806.2 598.8,803.0 603.8,800.1 608.8,796.8 613.8,794.1 618.8,791.3" stroke="#fff" stroke-opacity="0.55" stroke-width="4.34" stroke-dasharray="0.8 2.6"/><polyline points="88.8,1097.2 93.8,1094.3 98.8,1090.6 103.8,1087.4 108.8,1085.0 113.8,1081.5 118.8,1078.3 123.8,1075.3 128.8,1072.2 133.8,1068.5 138.8,1065.7 143.8,1062.8 148.8,1059.3 153.8,1056.2 158.8,1052.9 163.8,1050.0 168.8,1046.4 173.8,1043.6 178.8,1040.5 183.8,1037.0 188.8,1034.6 193.8,1030.9 198.8,1027.7 203.8,1024.6 208.8,1021.2 213.8,1018.4 218.8,1015.2 223.8,1011.8 228.8,1008.5 233.8,1005.4 238.8,1002.4 243.8,999.2 248.8,995.8 253.8,992.9 258.8,989.4 263.8,986.6 268.8,983.1 273.8,980.3 278.8,976.8 283.8,973.8 288.8,970.3 293.8,967.9 298.8,964.6 303.8,961.1 308.8,957.7 313.8,954.4 318.8,951.4 323.8,948.2 328.8,944.5 333.8,941.6 338.8,938.1 343.8,935.1 348.8,932.6 353.8,928.4 358.8,925.7 363.8,922.5 368.8,918.8 373.8,915.7 378.8,912.6 383.8,909.0 388.8,905.8 393.8,902.9 398.8,899.5 403.8,896.3 408.8,893.5 413.8,889.8 418.8,886.5 423.8,883.4 428.8,880.2 433.8,876.9 438.8,873.8 443.8,870.1 448.8,867.0 453.8,864.0 458.8,861.1 463.8,857.2 468.8,854.2 473.8,851.0 478.8,847.7 483.8,844.3 488.8,841.1 493.8,838.0 498.8,834.9 503.8,831.1 508.8,828.4 513.8,825.0 518.8,821.8 523.8,818.2 528.8,815.1 533.8,811.7 538.8,809.2 543.8,805.1 548.8,802.3 553.8,799.2 558.8,796.2 563.8,792.4 568.8,789.4 573.8,786.1 578.8,782.9 583.8,779.4 588.8,777.0 593.8,773.1 598.8,769.7 603.8,766.6 608.8,763.2 613.8,760.2 618.8,756.8" stroke="#00FF00" stroke-width="10.94"/><polyline points="88.8,1097.2 93.8,1094.3 98.8,1090.6 103.8,1087.4 108.8,1085.0 113.8,1081.5 118.8,1078.3 123.8,1075.3 128.8,1072.2 133.8,1068.5 138.8,1065.7 143.8,1062.8 148.8,1059.3 153.8,1056.2 158.8,1052.9 163.8,1050.0 168.8,1046.4 173.8,1043.6 178.8,1040.5 183.8,1037.0 188.8,1034.6 193.8,1030.9 198.8,1027.7 203.8,1024.6 208.8,1021.2 213.8,1018.4 218.8,1015.2 223.8,1011.8 228.8,1008.5 233.8,1005.4 238.8,1002.4 243.8,999.2 248.8,995.8 253.8,992.9 258.8,989.4 263.8,986.6 268.8,983.1 273.8,980.3 278.8,976.8 283.8,973.8 288.8,970.3 293.8,967.9 298.8,964.6 303.8,961.1 308.8,957.7 313.8,954.4 318.8,951.4 323.8,948.2 328.8,944.5 333.8,941.6 338.8,938.1 343.8,935.1 348.8,932.6 353.8,928.4 358.8,925.7 363.8,922.5 368.8,918.8 373.8,915.7 378.8,912.6 383.8,909.0 388.8,905.8 393.8,902.9 398.8,899.5 403.8,896.3 408.8,893.5 413.8,889.8 418.8,886.5 423.8,883.4 428.8,880.2 433.8,876.9 438.8,873.8 443.8,870.1 448.8,867.0 453.8,864.0 458.8,861.1 463.8,857.2 468.8,854.2 473.8,851.0 478.8,847.7 483.8,844.3 488.8,841.1 493.8,838.0 498.8,834.9 503.8,831.1 508.8,828.4 513.8,825.0 518.8,821.8 523.8,818.2 528.8,815.1 533.8,811.7 538.8,809.2 543.8,805.1 548.8,802.3 553.8,799.2 558.8,796.2 563.8,792.4 568.8,789.4 573.8,786.1 578.8,782.9 583.8,779.4 588.8,777.0 593.8,773.1 598.8,769.7 603.8,766.6 608.8,763.2 613.8,760.2 618.8,756.8" stroke="#fff" stroke-opacity="0.55" stroke-width="4.38" stroke-dasharray="0.8 2.6"/><polyline points="88.8,1099.0 93.8,1095.7 98.8,1092.5 103.8,1088.5 108.8,1085.2 113.8,1081.4 118.8,1078.0 123.8,1074.6 128.8,1071.2 133.8,1067.3 138.8,1063.4 143.8,1060.1 148.8,1056.3 153.8,1052.7 158.8,1049.7 163.8,1045.8 168.8,1042.3 173.8,1038.4 178.8,1034.9 183.8,1031.7 188.8,1028.1 193.8,1024.5 198.8,1021.1 203.8,1017.0 208.8,1013.7 213.8,1010.0 218.8,1006.7 223.8,1003.6 228.8,999.9 233.8,996.2 238.8,993.5 243.8,989.5 248.8,986.2 253.8,982.8 258.8,979.4 263.8,976.3 268.8,972.1 273.8,968.6 278.8,965.3 283.8,962.7 288.8,958.5 293.8,954.9 298.8,951.8 303.8,948.3 308.8,945.1 313.8,941.6 318.8,938.1 323.8,934.3 328.8,930.9 333.8,927.7 338.8,924.5 343.8,920.9 348.8,917.4 353.8,913.7 358.8,910.3 363.8,907.7 368.8,903.4 373.8,900.4 378.8,897.0 383.8,893.2 388.8,889.5 393.8,886.4 398.8,882.8 403.8,879.2 408.8,876.4 413.8,872.3 418.8,869.4 423.8,866.0 428.8,862.9 433.8,859.1 438.8,855.5 443.8,852.1 448.8,849.0 453.8,845.3 458.8,842.0 463.8,838.5 468.8,835.1 473.8,831.3 478.8,828.2 483.8,824.8 488.8,821.2 493.8,817.7 498.8,814.1 503.8,811.1 508.8,807.6 513.8,804.4 518.8,800.8 523.8,796.9 528.8,794.0 533.8,790.2 538.8,786.9 543.8,783.3 548.8,780.3 553.8,776.4 558.8,773.6 563.8,770.1 568.8,766.3 573.8,763.1 578.8,759.5 583.8,756.4 588.8,752.8 593.8,749.3 598.8,745.4 603.8,742.6 608.8,739.3 613.8,735.7 618.8,732.6" stroke="#0000FF" stroke-width="10.69"/><polyline points="88.8,1099.0 93.8,1095.7 98.8,1092.5 103.8,1088.5 108.8,1085.2 113.8,1081.4 118.8,1078.0 123.8,1074.6 128.8,1071.2 133.8,1067.3 138.8,1063.4 143.8,1060.1 148.8,1056.3 153.8,1052.7 158.8,1049.7 163.8,1045.8 168.8,1042.3 173.8,1038.4 178.8,1034.9 183.8,1031.7 188.8,1028.1 193.8,1024.5 198.8,1021.1 203.8,1017.0 208.8,1013.7 213.8,1010.0 218.8,1006.7 223.8,1003.6 228.8,999.9 233.8,996.2 238.8,993.5 243.8,989.5 248.8,986.2 253.8,982.8 258.8,979.4 263.8,976.3 268.8,972.1 273.8,968.6 278.8,965.3 283.8,962.7 288.8,958.5 293.8,954.9 298.8,951.8 303.8,948.3 308.8,945.1 313.8,941.6 318.8,938.1 323.8,934.3 328.8,930.9 333.8,927.7 338.8,924.5 343.8,920.9 348.8,917.4 353.8,913.7 358.8,910.3 363.8,907.7 368.8,903.4 373.8,900.4 378.8,897.0 383.8,893.2 388.8,889.5 393.8,886.4 398.8,882.8 403.8,879.2 408.8,876.4 413.8,872.3 418.8,869.4 423.8,866.0 428.8,862.9 433.8,859.1 438.8,855.5 443.8,852.1 448.8,849.0 453.8,845.3 458.8,842.0 463.8,838.5 468.8,835.1 473.8,831.3 478.8,828.2 483.8,824.8 488.8,821.2 493.8,817.7 498.8,814.1 503.8,811.1 508.8,807.6 513.8,804.4 518.8,800.8 523.8,796.9 528.8,794.0 533.8,790.2 538.8,786.9 543.8,783.3 548.8,780.3 553.8,776.4 558.8,773.6 563.8,770.1 568.8,766.3 573.8,763.1 578.8,759.5 583.8,756.4 588.8,752.8 593.8,749.3 598.8,745.4 603.8,742.6 608.8,739.3 613.8,735.7 618.8,732.6" stroke="#fff" stroke-opacity="0.7" stroke-width="4.28" stroke-dasharray="0.9 2.4"/><polyline points="88.8,1101.1 93.8,1096.9 98.8,1093.0 103.8,1089.2 108.8,1085.7 113.8,1081.7 118.8,1078.1 123.8,1074.2 128.8,1070.0 133.8,1066.6 138.8,1062.5 143.8,1058.7 148.8,1055.2 153.8,1050.7 158.8,1047.1 163.8,1043.6 168.8,1039.9 173.8,1035.9 178.8,1032.3 183.8,1028.4 188.8,1024.5 193.8,1020.4 198.8,1016.7 203.8,1013.0 208.8,1009.3 213.8,1005.6 218.8,1002.2 223.8,998.4 228.8,994.9 233.8,990.6 238.8,986.8 243.8,983.6 248.8,979.8 253.8,976.4 258.8,972.9 263.8,968.6 268.8,964.8 273.8,961.3 278.8,957.9 283.8,954.4 288.8,950.3 293.8,946.1 298.8,943.3 303.8,939.0 308.8,936.2 313.8,932.9 318.8,928.6 323.8,925.4 328.8,921.5 333.8,918.5 338.8,915.0 343.8,911.1 348.8,907.6 353.8,904.5 358.8,901.0 363.8,897.1 368.8,893.8 373.8,889.9 378.8,886.9 383.8,883.2 388.8,879.3 393.8,876.1 398.8,872.5 403.8,869.1 408.8,866.0 413.8,862.4 418.8,858.5 423.8,855.5 428.8,851.3 433.8,848.4 438.8,844.3 443.8,841.3 448.8,837.7 453.8,834.1 458.8,830.5 463.8,827.2 468.8,822.9 473.8,820.1 478.8,816.2 483.8,813.1 488.8,809.4 493.8,806.2 498.8,802.2 503.8,798.2 508.8,795.1 513.8,791.4 518.8,787.8 523.8,784.6 528.8,780.9 533.8,777.0 538.8,773.4 543.8,770.4 548.8,766.1 553.8,762.6 558.8,759.4 563.8,756.3 568.8,752.4 573.8,748.9 578.8,745.1 583.8,741.3 588.8,738.5 593.8,734.3 598.8,731.2 603.8,727.2 608.8,723.7 613.8,719.9 618.8,716.6" stroke="#808000" stroke-width="9.73"/><polyline points="88.8,1101.1 93.8,1096.9 98.8,1093.0 103.8,1089.2 108.8,1085.7 113.8,1081.7 118.8,1078.1 123.8,1074.2 128.8,1070.0 133.8,1066.6 138.8,1062.5 143.8,1058.7 148.8,1055.2 153.8,1050.7 158.8,1047.1 163.8,1043.6 168.8,1039.9 173.8,1035.9 178.8,1032.3 183.8,1028.4 188.8,1024.5 193.8,1020.4 198.8,1016.7 203.8,1013.0 208.8,1009.3 213.8,1005.6 218.8,1002.2 223.8,998.4 228.8,994.9 233.8,990.6 238.8,986.8 243.8,983.6 248.8,979.8 253.8,976.4 258.8,972.9 263.8,968.6 268.8,964.8 273.8,961.3 278.8,957.9 283.8,954.4 288.8,950.3 293.8,946.1 298.8,943.3 303.8,939.0 308.8,936.2 313.8,932.9 318.8,928.6 323.8,925.4 328.8,921.5 333.8,918.5 338.8,915.0 343.8,911.1 348.8,907.6 353.8,904.5 358.8,901.0 363.8,897.1 368.8,893.8 373.8,889.9 378.8,886.9 383.8,883.2 388.8,879.3 393.8,876.1 398.8,872.5 403.8,869.1 408.8,866.0 413.8,862.4 418.8,858.5 423.8,855.5 428.8,851.3 433.8,848.4 438.8,844.3 443.8,841.3 448.8,837.7 453.8,834.1 458.8,830.5 463.8,827.2 468.8,822.9 473.8,820.1 478.8,816.2 483.8,813.1 488.8,809.4 493.8,806.2 498.8,802.2 503.8,798.2 508.8,795.1 513.8,791.4 518.8,787.8 523.8,784.6 528.8,780.9 533.8,777.0 538.8,773.4 543.8,770.4 548.8,766.1 553.8,762.6 558.8,759.4 563.8,756.3 568.8,752.4 573.8,748.9 578.8,745.1 583.8,741.3 588.8,738.5 593.8,734.3 598.8,731.2 603.8,727.2 608.8,723.7 613.8,719.9 618.8,716.6" stroke="#fff" stroke-opacity="0.7" stroke-width="3.89" stroke-dasharray="0.9 2.4"/><polyline points="88.8,1101.5 93.8,1097.1 98.8,1093.4 103.8,1089.7 108.8,1085.2 113.8,1082.1 118.8,1078.2 123.8,1073.7 128.8,1070.1 133.8,1065.9 138.8,1062.0 143.8,1057.9 148.8,1054.3 153.8,1050.3 158.8,1046.7 163.8,1042.3 168.8,1038.5 173.8,1034.1 178.8,1030.6 183.8,1027.1 188.8,1022.3 193.8,1019.3 198.8,1015.4 203.8,1011.5 208.8,1007.7 213.8,1003.8 218.8,999.9 223.8,996.4 228.8,992.1 233.8,988.7 238.8,985.0 243.8,981.2 248.8,977.8 253.8,973.8 258.8,969.7 263.8,966.8 268.8,962.4 273.8,958.9 278.8,955.1 283.8,951.8 288.8,948.0 293.8,944.2 298.8,940.4 303.8,936.9 308.8,933.0 313.8,929.3 318.8,926.5 323.8,921.9 328.8,918.2 333.8,914.1 338.8,910.9 343.8,907.7 348.8,903.5 353.8,899.9 358.8,896.4 363.8,892.5 368.8,888.6 373.8,884.8 378.8,881.3 383.8,877.7 388.8,874.2 393.8,870.2 398.8,867.0 403.8,863.2 408.8,859.4 413.8,855.3 418.8,852.0 423.8,848.5 428.8,845.2 433.8,841.3 438.8,837.0 443.8,833.5 448.8,830.1 453.8,826.1 458.8,822.5 463.8,818.8 468.8,815.3 473.8,811.9 478.8,807.7 483.8,804.5 488.8,800.3 493.8,796.7 498.8,793.2 503.8,789.6 508.8,785.3 513.8,782.1 518.8,778.4 523.8,774.8 528.8,770.8 533.8,767.1 538.8,763.8 543.8,760.0 548.8,756.4 553.8,752.9 558.8,749.1 563.8,745.6 568.8,741.8 573.8,737.9 578.8,734.6 583.8,730.6 588.8,726.4 593.8,723.1 598.8,719.9 603.8,715.9 608.8,712.2 613.8,708.4 618.8,704.8" stroke="#FF00FF" stroke-width="9.62"/><polyline points="88.8,1101.5 93.8,1097.1 98.8,1093.4 103.8,1089.7 108.8,1085.2 113.8,1082.1 118.8,1078.2 123.8,1073.7 128.8,1070.1 133.8,1065.9 138.8,1062.0 143.8,1057.9 148.8,1054.3 153.8,1050.3 158.8,1046.7 163.8,1042.3 168.8,1038.5 173.8,1034.1 178.8,1030.6 183.8,1027.1 188.8,1022.3 193.8,1019.3 198.8,1015.4 203.8,1011.5 208.8,1007.7 213.8,1003.8 218.8,999.9 223.8,996.4 228.8,992.1 233.8,988.7 238.8,985.0 243.8,981.2 248.8,977.8 253.8,973.8 258.8,969.7 263.8,966.8 268.8,962.4 273.8,958.9 278.8,955.1 283.8,951.8 288.8,948.0 293.8,944.2 298.8,940.4 303.8,936.9 308.8,933.0 313.8,929.3 318.8,926.5 323.8,921.9 328.8,918.2 333.8,914.1 338.8,910.9 343.8,907.7 348.8,903.5 353.8,899.9 358.8,896.4 363.8,892.5 368.8,888.6 373.8,884.8 378.8,881.3 383.8,877.7 388.8,874.2 393.8,870.2 398.8,867.0 403.8,863.2 408.8,859.4 413.8,855.3 418.8,852.0 423.8,848.5 428.8,845.2 433.8,841.3 438.8,837.0 443.8,833.5 448.8,830.1 453.8,826.1 458.8,822.5 463.8,818.8 468.8,815.3 473.8,811.9 478.8,807.7 483.8,804.5 488.8,800.3 493.8,796.7 498.8,793.2 503.8,789.6 508.8,785.3 513.8,782.1 518.8,778.4 523.8,774.8 528.8,770.8 533.8,767.1 538.8,763.8 543.8,760.0 548.8,756.4 553.8,752.9 558.8,749.1 563.8,745.6 568.8,741.8 573.8,737.9 578.8,734.6 583.8,730.6 588.8,726.4 593.8,723.1 598.8,719.9 603.8,715.9 608.8,712.2 613.8,708.4 618.8,704.8" stroke="#fff" stroke-opacity="0.7" stroke-width="3.85" stroke-dasharray="0.9 2.4"/><polygon points="88.8,1082.7 93.8,1079.3 98.8,1075.1 103.8,1071.6 108.8,1067.7 113.8,1064.2 118.8,1060.6 123.8,1056.7 128.8,1053.1 133.8,1049.6 138.8,1045.7 143.8,1042.4 148.8,1038.2 153.8,1034.8 158.8,1030.5 163.8,1027.2 168.8,1023.9 173.8,1019.9 178.8,1015.8 183.8,1013.0 188.8,1008.8 193.8,1005.0 198.8,1001.2 203.8,997.3 208.8,994.0 213.8,990.1 218.8,986.8 223.8,982.4 228.8,979.0 233.8,975.0 238.8,971.1 243.8,968.3 248.8,963.9 253.8,960.4 258.8,956.6 263.8,952.9 268.8,949.8 273.8,945.8 278.8,941.7 283.8,937.8 288.8,934.8 293.8,931.4 298.8,927.4 303.8,923.8 308.8,919.8 313.8,916.4 318.8,912.0 323.8,908.0 328.8,904.6 333.8,901.0 338.8,897.8 343.8,893.6 348.8,889.7 353.8,886.4 358.8,882.6 363.8,878.9 368.8,875.4 373.8,871.9 378.8,867.9 383.8,863.9 388.8,860.4 393.8,856.9 398.8,853.2 403.8,850.0 408.8,845.4 413.8,842.3 418.8,838.2 423.8,834.7 428.8,830.6 433.8,827.9 438.8,823.3 443.8,819.7 448.8,816.1 453.8,813.3 458.8,808.8 463.8,805.1 468.8,801.1 473.8,797.3 478.8,793.7 483.8,790.0 488.8,786.5 493.8,783.0 498.8,778.0 503.8,775.3 508.8,771.6 513.8,768.1 518.8,763.9 523.8,760.7 528.8,757.0 533.8,753.1 538.8,749.6 543.8,745.8 548.8,741.5 553.8,737.9 558.8,734.4 563.8,730.8 568.8,727.0 573.8,723.7 578.8,720.2 583.8,716.4 588.8,712.1 593.8,708.7 598.8,704.9 603.8,700.8 608.8,697.5 613.8,693.6 618.8,690.6 618.8,702.6 613.8,706.5 608.8,710.4 603.8,713.4 598.8,717.5 593.8,721.1 588.8,725.0 583.8,729.2 578.8,733.3 573.8,736.2 568.8,740.1 563.8,744.3 558.8,747.5 553.8,751.2 548.8,755.1 543.8,759.4 538.8,762.4 533.8,766.4 528.8,770.6 523.8,774.0 518.8,777.6 513.8,781.3 508.8,785.3 503.8,788.2 498.8,791.7 493.8,796.8 488.8,800.7 483.8,804.3 478.8,807.6 473.8,811.5 468.8,815.3 463.8,818.8 458.8,822.9 453.8,827.2 448.8,829.9 443.8,834.1 438.8,837.6 433.8,842.1 428.8,845.6 423.8,849.3 418.8,853.3 413.8,856.8 408.8,860.4 403.8,864.5 398.8,867.9 393.8,871.9 388.8,874.9 383.8,879.1 378.8,882.7 373.8,886.4 368.8,890.5 363.8,894.0 358.8,897.3 353.8,902.3 348.8,905.7 343.8,909.4 338.8,913.3 333.8,916.4 328.8,920.2 323.8,923.9 318.8,927.8 313.8,931.8 308.8,935.6 303.8,939.3 298.8,943.4 293.8,946.9 288.8,950.8 283.8,954.1 278.8,957.8 273.8,961.6 268.8,966.3 263.8,969.6 258.8,972.9 253.8,976.4 248.8,980.5 243.8,984.8 238.8,988.0 233.8,991.9 228.8,995.6 223.8,999.3 218.8,1003.6 213.8,1007.1 208.8,1010.8 203.8,1014.1 198.8,1018.2 193.8,1021.6 188.8,1026.2 183.8,1029.9 178.8,1033.5 173.8,1037.1 168.8,1041.2 163.8,1044.6 158.8,1048.1 153.8,1052.5 148.8,1055.8 143.8,1059.7 138.8,1063.6 133.8,1067.0 128.8,1070.8 123.8,1074.7 118.8,1078.8 113.8,1081.8 108.8,1085.6 103.8,1089.0 98.8,1093.2 93.8,1097.4 88.8,1100.7" fill="#008000" stroke="none"/><polyline points="88.8,1091.8 93.8,1088.2 98.8,1084.2 103.8,1080.6 108.8,1076.7 113.8,1072.8 118.8,1069.8 123.8,1065.6 128.8,1062.2 133.8,1058.5 138.8,1054.7 143.8,1050.9 148.8,1047.1 153.8,1043.8 158.8,1039.4 163.8,1036.1 168.8,1032.5 173.8,1028.5 178.8,1024.5 183.8,1021.3 188.8,1017.5 193.8,1013.3 198.8,1009.8 203.8,1005.8 208.8,1002.3 213.8,998.5 218.8,995.2 223.8,991.0 228.8,987.3 233.8,983.5 238.8,979.7 243.8,976.4 248.8,972.3 253.8,968.5 258.8,964.8 263.8,961.2 268.8,957.9 273.8,953.6 278.8,950.0 283.8,945.8 288.8,942.6 293.8,939.1 298.8,935.2 303.8,931.4 308.8,927.6 313.8,924.2 318.8,920.1 323.8,916.3 328.8,912.4 333.8,908.9 338.8,905.4 343.8,901.7 348.8,897.7 353.8,894.3 358.8,890.1 363.8,886.3 368.8,883.1 373.8,879.1 378.8,875.4 383.8,871.4 388.8,867.7 393.8,864.4 398.8,860.6 403.8,857.2 408.8,853.0 413.8,849.6 418.8,845.9 423.8,841.8 428.8,837.8 433.8,834.9 438.8,830.5 443.8,827.0 448.8,823.3 453.8,820.0 458.8,815.9 463.8,811.8 468.8,808.4 473.8,804.6 478.8,800.7 483.8,797.0 488.8,793.4 493.8,789.9 498.8,785.2 503.8,781.9 508.8,778.4 513.8,774.6 518.8,770.6 523.8,767.1 528.8,763.8 533.8,759.7 538.8,756.3 543.8,752.5 548.8,748.2 553.8,744.8 558.8,741.0 563.8,737.3 568.8,733.5 573.8,730.1 578.8,726.5 583.8,722.8 588.8,718.6 593.8,715.2 598.8,711.1 603.8,707.1 608.8,704.0 613.8,700.1 618.8,696.6" stroke="#fff" stroke-opacity="0.7" stroke-width="4.91" stroke-dasharray="0.9 2.4"/></g></g>
<path d="M100.8 1081.0V670.8H608.6V1081.0" fill="none" stroke="#000" stroke-width="2"/>
<path d="M100.80 670.8V677.8M227.75 670.8V677.8M354.70 670.8V677.8M481.65 670.8V677.8M608.60 670.8V677.8M100.8 1080.00H107.8M100.8 977.70H107.8M100.8 875.40H107.8M100.8 773.10H107.8M100.8 670.80H107.8M608.6 1080.00H601.6M608.6 977.70H601.6M608.6 875.40H601.6M608.6 773.10H601.6M608.6 670.80H601.6" stroke="#000" stroke-width="2" fill="none"/>
<g><text transform="translate(100.80 1105.20) scale(1 1.08)" font-size="21" text-anchor="middle" >0.0</text><text transform="translate(202.36 1105.20) scale(1 1.08)" font-size="21" text-anchor="middle" >1.0</text><text transform="translate(303.92 1105.20) scale(1 1.08)" font-size="21" text-anchor="middle" >2.0</text><text transform="translate(405.48 1105.20) scale(1 1.08)" font-size="21" text-anchor="middle" >3.0</text><text transform="translate(507.04 1105.20) scale(1 1.08)" font-size="21" text-anchor="middle" >4.0</text><text transform="translate(608.60 1105.20) scale(1 1.08)" font-size="21" text-anchor="middle" >5.0</text><text transform="translate(100.80 658.20) scale(1 1.08)" font-size="21" text-anchor="middle" >0.0</text><text transform="translate(227.75 658.20) scale(1 1.08)" font-size="21" text-anchor="middle" >60.0</text><text transform="translate(354.70 658.20) scale(1 1.08)" font-size="21" text-anchor="middle" >120.0</text><text transform="translate(481.65 658.20) scale(1 1.08)" font-size="21" text-anchor="middle" >180.0</text><text transform="translate(608.60 658.20) scale(1 1.08)" font-size="21" text-anchor="middle" >240.0</text><text transform="translate(92.40 1085.90) scale(1 1.08)" font-size="21" text-anchor="end" >0.00</text><text transform="translate(92.40 983.60) scale(1 1.08)" font-size="21" text-anchor="end" >0.05</text><text transform="translate(92.40 881.30) scale(1 1.08)" font-size="21" text-anchor="end" >0.10</text><text transform="translate(92.40 779.00) scale(1 1.08)" font-size="21" text-anchor="end" >0.15</text><text transform="translate(92.40 676.70) scale(1 1.08)" font-size="21" text-anchor="end" >0.20</text><text transform="translate(617.00 1085.90) scale(1 1.08)" font-size="21" text-anchor="start" >0.0</text><text transform="translate(617.00 983.60) scale(1 1.08)" font-size="21" text-anchor="start" >0.2</text><text transform="translate(617.00 881.30) scale(1 1.08)" font-size="21" text-anchor="start" >0.4</text><text transform="translate(617.00 779.00) scale(1 1.08)" font-size="21" text-anchor="start" >0.6</text><text transform="translate(617.00 676.70) scale(1 1.08)" font-size="21" text-anchor="start" >0.8</text></g>
<text x="364.1" y="619.2" font-size="25" text-anchor="middle"><tspan font-style="italic">J</tspan> (mA/cm<tspan font-size="14" dy="-11">2</tspan><tspan dy="11">)</tspan></text>
<text x="370.6" y="1145" font-size="25" text-anchor="middle"><tspan font-style="italic">I</tspan> (mA)</text>
<text transform="translate(18.5 874.2) rotate(-90)" font-size="25" text-anchor="middle"><tspan font-style="italic">V</tspan> (mV)</text>
<text transform="translate(678.5 866.8) rotate(-90)" font-size="25" text-anchor="middle"><tspan font-style="italic">E</tspan> (mV/cm)</text>
<g><text x="129.2" y="688.9" font-size="12.6"><tspan font-style="italic">T</tspan> (K)</text><rect x="107.83" y="697.73" width="7.74" height="7.74" fill="none" stroke="#000000" stroke-width="2.0"/><text x="129.2" y="706.20" font-size="13">20.0</text><path d="M111.70 711.16L117.82 717.28L111.70 723.40L105.58 717.28Z" fill="none" stroke="#00FFFF" stroke-width="2.0"/><text x="129.2" y="721.88" font-size="13">22.0</text><circle cx="111.70" cy="732.96" r="4.50" fill="none" stroke="#800000" stroke-width="2.0"/><text x="129.2" y="737.56" font-size="13">24.0</text><path d="M117.33 748.64L107.20 743.01L107.20 754.26Z" fill="none" stroke="#008080" stroke-width="2.0" stroke-linejoin="miter"/><text x="129.2" y="753.24" font-size="13">26.0</text><path d="M111.70 758.20L117.82 764.32L111.70 770.44L105.58 764.32Z" fill="none" stroke="#000080" stroke-width="2.0"/><text x="129.2" y="768.92" font-size="13">26.5</text><circle cx="111.70" cy="780.00" r="4.50" fill="none" stroke="#00FF00" stroke-width="2.0"/><text x="129.2" y="784.60" font-size="13">27.0</text><path d="M111.70 801.31L117.33 791.18L106.08 791.18Z" fill="none" stroke="#8000FF" stroke-width="2.0" stroke-linejoin="miter"/><text x="129.2" y="800.28" font-size="13">27.5</text><rect x="107.83" y="807.49" width="7.74" height="7.74" fill="none" stroke="#FF0080" stroke-width="2.0"/><text x="129.2" y="815.96" font-size="13">28.0</text><circle cx="111.70" cy="827.04" r="4.50" fill="none" stroke="#808080" stroke-width="2.0"/><text x="129.2" y="831.64" font-size="13">28.5</text><path d="M111.70 837.10L117.33 847.22L106.08 847.22Z" fill="none" stroke="#0000FF" stroke-width="2.0" stroke-linejoin="miter"/><text x="129.2" y="847.32" font-size="13">29.0</text><path d="M106.08 858.40L116.20 852.78L116.20 864.03Z" fill="none" stroke="#000000" stroke-width="2.0" stroke-linejoin="miter"/><text x="129.2" y="863.00" font-size="13">29.5</text><circle cx="111.70" cy="874.08" r="4.50" fill="none" stroke="#FF8000" stroke-width="2.0"/><text x="129.2" y="878.68" font-size="13">30.0</text><rect x="107.83" y="885.89" width="7.74" height="7.74" fill="none" stroke="#800080" stroke-width="2.0"/><text x="129.2" y="894.36" font-size="13">31.0</text><path d="M117.33 905.44L107.20 899.82L107.20 911.07Z" fill="none" stroke="#FF80FF" stroke-width="2.0" stroke-linejoin="miter"/><text x="129.2" y="910.04" font-size="13">32.0</text><rect x="107.83" y="917.25" width="7.74" height="7.74" fill="none" stroke="#000080" stroke-width="2.0"/><text x="129.2" y="925.72" font-size="13">34.0</text><path d="M111.70 942.42L117.33 932.30L106.08 932.30Z" fill="none" stroke="#008080" stroke-width="2.0" stroke-linejoin="miter"/><text x="129.2" y="941.40" font-size="13">36.0</text><path d="M111.70 947.08L116.84 950.81L114.87 956.85L108.53 956.85L106.56 950.81Z" fill="none" stroke="#FF0000" stroke-width="2.0"/><text x="129.2" y="957.08" font-size="13">38.0</text><circle cx="111.70" cy="968.16" r="4.50" fill="none" stroke="#00FF00" stroke-width="2.0"/><text x="129.2" y="972.76" font-size="13">40.0</text><rect x="107.83" y="979.97" width="7.74" height="7.74" fill="none" stroke="#0000FF" stroke-width="2.0"/><text x="129.2" y="988.44" font-size="13">42.0</text><path d="M111.70 1005.14L117.33 995.02L106.08 995.02Z" fill="none" stroke="#808000" stroke-width="2.0" stroke-linejoin="miter"/><text x="129.2" y="1004.12" font-size="13">44.0</text><path d="M111.70 1009.08L117.82 1015.20L111.70 1021.32L105.58 1015.20Z" fill="none" stroke="#FF00FF" stroke-width="2.0"/><text x="129.2" y="1019.80" font-size="13">46.0</text><path d="M111.70 1036.51L117.33 1026.38L106.08 1026.38Z" fill="none" stroke="#008000" stroke-width="2.0" stroke-linejoin="miter"/><text x="129.2" y="1035.48" font-size="13">60.0</text></g>
<text x="363.8" y="697.9" font-size="21.5">Y<tspan font-size="14" dy="10">3</tspan><tspan dy="-10">Ba</tspan><tspan font-size="14" dy="10">5</tspan><tspan dy="-10">Cu</tspan><tspan font-size="14" dy="10">7.90</tspan><tspan dy="-10">Zn</tspan><tspan font-size="14" dy="10">0.10</tspan><tspan dy="-10">O</tspan><tspan font-size="14" dy="10">18-<tspan font-style="italic">δ</tspan></tspan><tspan dy="-10"> (E)</tspan></text>
<defs><clipPath id="ci2"><rect x="217.0" y="728.6" width="149.5" height="120.19999999999993"/></clipPath></defs>
<g><rect x="217.0" y="728.6" width="149.5" height="120.19999999999993" fill="#fff"/><g clip-path="url(#ci2)"><path d="M214.1 843.7h5.8v5.8h-5.8zM215.6 842.6h5.8v5.8h-5.8zM217.1 838.8h5.8v5.8h-5.8zM218.6 843.4h5.8v5.8h-5.8zM220.1 842.8h5.8v5.8h-5.8zM221.6 841.8h5.8v5.8h-5.8zM223.1 845.0h5.8v5.8h-5.8zM224.6 842.1h5.8v5.8h-5.8zM226.1 840.7h5.8v5.8h-5.8zM227.6 838.7h5.8v5.8h-5.8zM229.0 845.0h5.8v5.8h-5.8zM230.5 843.1h5.8v5.8h-5.8zM232.0 844.9h5.8v5.8h-5.8zM233.5 837.1h5.8v5.8h-5.8zM235.0 837.9h5.8v5.8h-5.8zM236.5 844.2h5.8v5.8h-5.8zM238.0 834.0h5.8v5.8h-5.8zM239.5 833.7h5.8v5.8h-5.8zM241.0 836.4h5.8v5.8h-5.8zM242.5 836.3h5.8v5.8h-5.8zM244.0 840.5h5.8v5.8h-5.8zM245.5 841.4h5.8v5.8h-5.8zM247.0 835.5h5.8v5.8h-5.8zM248.5 839.8h5.8v5.8h-5.8zM250.0 837.8h5.8v5.8h-5.8zM251.5 836.6h5.8v5.8h-5.8zM253.0 838.1h5.8v5.8h-5.8zM254.5 833.0h5.8v5.8h-5.8zM256.0 832.5h5.8v5.8h-5.8zM257.5 827.7h5.8v5.8h-5.8zM259.0 830.2h5.8v5.8h-5.8zM260.4 828.2h5.8v5.8h-5.8zM261.9 828.9h5.8v5.8h-5.8zM263.4 826.4h5.8v5.8h-5.8zM264.9 827.7h5.8v5.8h-5.8zM266.4 828.7h5.8v5.8h-5.8zM267.9 820.5h5.8v5.8h-5.8zM269.4 819.6h5.8v5.8h-5.8zM270.9 820.3h5.8v5.8h-5.8zM272.4 820.8h5.8v5.8h-5.8zM273.9 823.9h5.8v5.8h-5.8zM275.4 823.9h5.8v5.8h-5.8zM276.9 822.3h5.8v5.8h-5.8zM278.4 823.6h5.8v5.8h-5.8zM279.9 815.4h5.8v5.8h-5.8zM281.4 818.1h5.8v5.8h-5.8zM282.9 812.5h5.8v5.8h-5.8zM284.4 816.2h5.8v5.8h-5.8zM285.9 809.3h5.8v5.8h-5.8zM287.4 809.3h5.8v5.8h-5.8zM288.9 816.9h5.8v5.8h-5.8zM290.3 813.7h5.8v5.8h-5.8zM291.8 805.3h5.8v5.8h-5.8zM293.3 808.7h5.8v5.8h-5.8zM294.8 802.3h5.8v5.8h-5.8zM296.3 807.1h5.8v5.8h-5.8zM297.8 809.3h5.8v5.8h-5.8zM299.3 802.3h5.8v5.8h-5.8zM300.8 799.5h5.8v5.8h-5.8zM302.3 803.5h5.8v5.8h-5.8zM303.8 804.2h5.8v5.8h-5.8zM305.3 800.3h5.8v5.8h-5.8zM306.8 792.5h5.8v5.8h-5.8zM308.3 793.4h5.8v5.8h-5.8zM309.8 798.6h5.8v5.8h-5.8zM311.3 796.0h5.8v5.8h-5.8zM312.8 796.1h5.8v5.8h-5.8zM314.3 795.1h5.8v5.8h-5.8zM315.8 786.2h5.8v5.8h-5.8zM317.3 791.1h5.8v5.8h-5.8zM318.7 785.8h5.8v5.8h-5.8zM320.2 785.5h5.8v5.8h-5.8zM321.7 786.7h5.8v5.8h-5.8zM323.2 779.7h5.8v5.8h-5.8zM324.7 784.4h5.8v5.8h-5.8zM326.2 777.6h5.8v5.8h-5.8zM327.7 781.5h5.8v5.8h-5.8zM329.2 776.8h5.8v5.8h-5.8zM330.7 777.4h5.8v5.8h-5.8zM332.2 775.3h5.8v5.8h-5.8zM333.7 766.5h5.8v5.8h-5.8zM335.2 766.6h5.8v5.8h-5.8zM336.7 770.2h5.8v5.8h-5.8zM338.2 762.6h5.8v5.8h-5.8zM339.7 767.9h5.8v5.8h-5.8zM341.2 764.3h5.8v5.8h-5.8zM342.7 757.9h5.8v5.8h-5.8zM344.2 758.4h5.8v5.8h-5.8zM345.7 762.3h5.8v5.8h-5.8zM347.2 751.5h5.8v5.8h-5.8zM348.6 757.7h5.8v5.8h-5.8zM350.1 755.5h5.8v5.8h-5.8zM351.6 748.5h5.8v5.8h-5.8zM353.1 751.3h5.8v5.8h-5.8zM354.6 749.8h5.8v5.8h-5.8zM356.1 750.3h5.8v5.8h-5.8zM357.6 748.4h5.8v5.8h-5.8zM359.1 741.5h5.8v5.8h-5.8zM360.6 743.1h5.8v5.8h-5.8zM362.1 737.6h5.8v5.8h-5.8zM363.6 738.1h5.8v5.8h-5.8zM365.1 735.4h5.8v5.8h-5.8z" fill="none" stroke="#000" stroke-width="1.5"/><polyline points="217.00,845.79 218.50,845.76 219.99,845.69 221.49,845.57 222.98,845.43 224.47,845.25 225.97,845.04 227.47,844.81 228.96,844.55 230.46,844.26 231.95,843.94 233.44,843.61 234.94,843.24 236.44,842.86 237.93,842.45 239.43,842.02 240.92,841.56 242.41,841.09 243.91,840.59 245.41,840.07 246.90,839.53 248.40,838.97 249.89,838.38 251.38,837.78 252.88,837.16 254.38,836.51 255.87,835.85 257.37,835.17 258.86,834.46 260.36,833.74 261.85,833.00 263.35,832.24 264.84,831.46 266.33,830.66 267.83,829.85 269.32,829.01 270.82,828.16 272.31,827.29 273.81,826.40 275.31,825.49 276.80,824.57 278.30,823.62 279.79,822.66 281.28,821.69 282.78,820.69 284.27,819.68 285.77,818.65 287.26,817.60 288.76,816.54 290.25,815.45 291.75,814.36 293.25,813.24 294.74,812.11 296.24,810.96 297.73,809.80 299.23,808.61 300.72,807.42 302.22,806.20 303.71,804.97 305.21,803.72 306.70,802.46 308.19,801.18 309.69,799.89 311.19,798.58 312.68,797.25 314.18,795.90 315.67,794.55 317.16,793.17 318.66,791.78 320.15,790.38 321.65,788.95 323.14,787.52 324.64,786.07 326.13,784.60 327.63,783.11 329.12,781.62 330.62,780.10 332.12,778.57 333.61,777.03 335.11,775.47 336.60,773.90 338.10,772.31 339.59,770.70 341.09,769.08 342.58,767.45 344.07,765.80 345.57,764.14 347.06,762.46 348.56,760.76 350.06,759.06 351.55,757.33 353.05,755.60 354.54,753.84 356.04,752.08 357.53,750.30 359.02,748.50 360.52,746.69 362.01,744.87 363.51,743.03 365.00,741.18 366.50,739.31" fill="none" stroke="#ee1111" stroke-width="3.2"/></g><rect x="217.0" y="728.6" width="149.50" height="120.20" fill="none" stroke="#000" stroke-width="1.6"/><path d="M217.00 848.8V845.8M246.90 848.8V845.8M276.80 848.8V845.8M306.70 848.8V845.8M336.60 848.8V845.8M366.50 848.8V845.8M217.00 728.6V731.6M254.38 728.6V731.6M291.75 728.6V731.6M329.12 728.6V731.6M366.50 728.6V731.6M217.0 848.80H220.0M217.0 831.63H220.0M217.0 814.46H220.0M217.0 797.29H220.0M217.0 780.11H220.0M217.0 762.94H220.0M217.0 745.77H220.0M217.0 728.60H220.0M366.5 848.80H363.5M366.5 818.75H363.5M366.5 788.70H363.5M366.5 758.65H363.5M366.5 728.60H363.5" stroke="#000" stroke-width="1.4" fill="none"/><text x="217.00" y="862.50" font-size="14.5" text-anchor="middle" >0.0</text><text x="246.90" y="862.50" font-size="14.5" text-anchor="middle" >1.0</text><text x="276.80" y="862.50" font-size="14.5" text-anchor="middle" >2.0</text><text x="306.70" y="862.50" font-size="14.5" text-anchor="middle" >3.0</text><text x="336.60" y="862.50" font-size="14.5" text-anchor="middle" >4.0</text><text x="366.50" y="862.50" font-size="14.5" text-anchor="middle" >5.0</text><text x="217.00" y="723.60" font-size="14.5" text-anchor="middle" >0.0</text><text x="254.38" y="723.60" font-size="14.5" text-anchor="middle" >60.0</text><text x="291.75" y="723.60" font-size="14.5" text-anchor="middle" >120.0</text><text x="329.12" y="723.60" font-size="14.5" text-anchor="middle" >180.0</text><text x="366.50" y="723.60" font-size="14.5" text-anchor="middle" >240.0</text><text x="214.20" y="853.80" font-size="14.5" text-anchor="end" >0.0</text><text x="214.20" y="836.63" font-size="14.5" text-anchor="end" >1.0</text><text x="214.20" y="819.46" font-size="14.5" text-anchor="end" >2.0</text><text x="214.20" y="802.29" font-size="14.5" text-anchor="end" >3.0</text><text x="214.20" y="785.11" font-size="14.5" text-anchor="end" >4.0</text><text x="214.20" y="767.94" font-size="14.5" text-anchor="end" >5.0</text><text x="214.20" y="750.77" font-size="14.5" text-anchor="end" >6.0</text><text x="214.20" y="733.60" font-size="14.5" text-anchor="end" >7.0</text><text x="369.50" y="853.80" font-size="14.5" text-anchor="start" >0.0</text><text x="369.50" y="823.75" font-size="14.5" text-anchor="start" >0.7</text><text x="369.50" y="793.70" font-size="14.5" text-anchor="start" >1.4</text><text x="369.50" y="763.65" font-size="14.5" text-anchor="start" >2.1</text><text x="369.50" y="733.60" font-size="14.5" text-anchor="start" >2.8</text><path d="M243.5 741.9H277.4" stroke="#ee1111" stroke-width="3.2"/><text x="282.00" y="746.50" font-size="15.5" text-anchor="start" >Fitting</text><text x="246.6" y="770.4" font-size="19"><tspan font-style="italic">T</tspan> = 20.0 K</text><text x="253.7" y="697.1" font-size="18.2"><tspan font-style="italic">J</tspan> (mA/cm<tspan font-size="12" dy="-9">2</tspan><tspan dy="9">)</tspan></text><text x="267.3" y="888.2" font-size="19"><tspan font-style="italic">I</tspan> (mA)</text><text transform="translate(179 780.3) rotate(-90)" font-size="19" text-anchor="middle"><tspan font-style="italic">V</tspan> (10<tspan font-size="12.5" dy="-7.5">-3</tspan><tspan dy="7.5">mV)</tspan></text><text transform="translate(413.6 779.8) rotate(-90)" font-size="19" text-anchor="middle"><tspan font-style="italic">E</tspan> (10<tspan font-size="12.5" dy="-7.5">-2</tspan><tspan dy="7.5">mV/cm)</tspan></text></g>
<defs></defs>
</svg></body></html>
